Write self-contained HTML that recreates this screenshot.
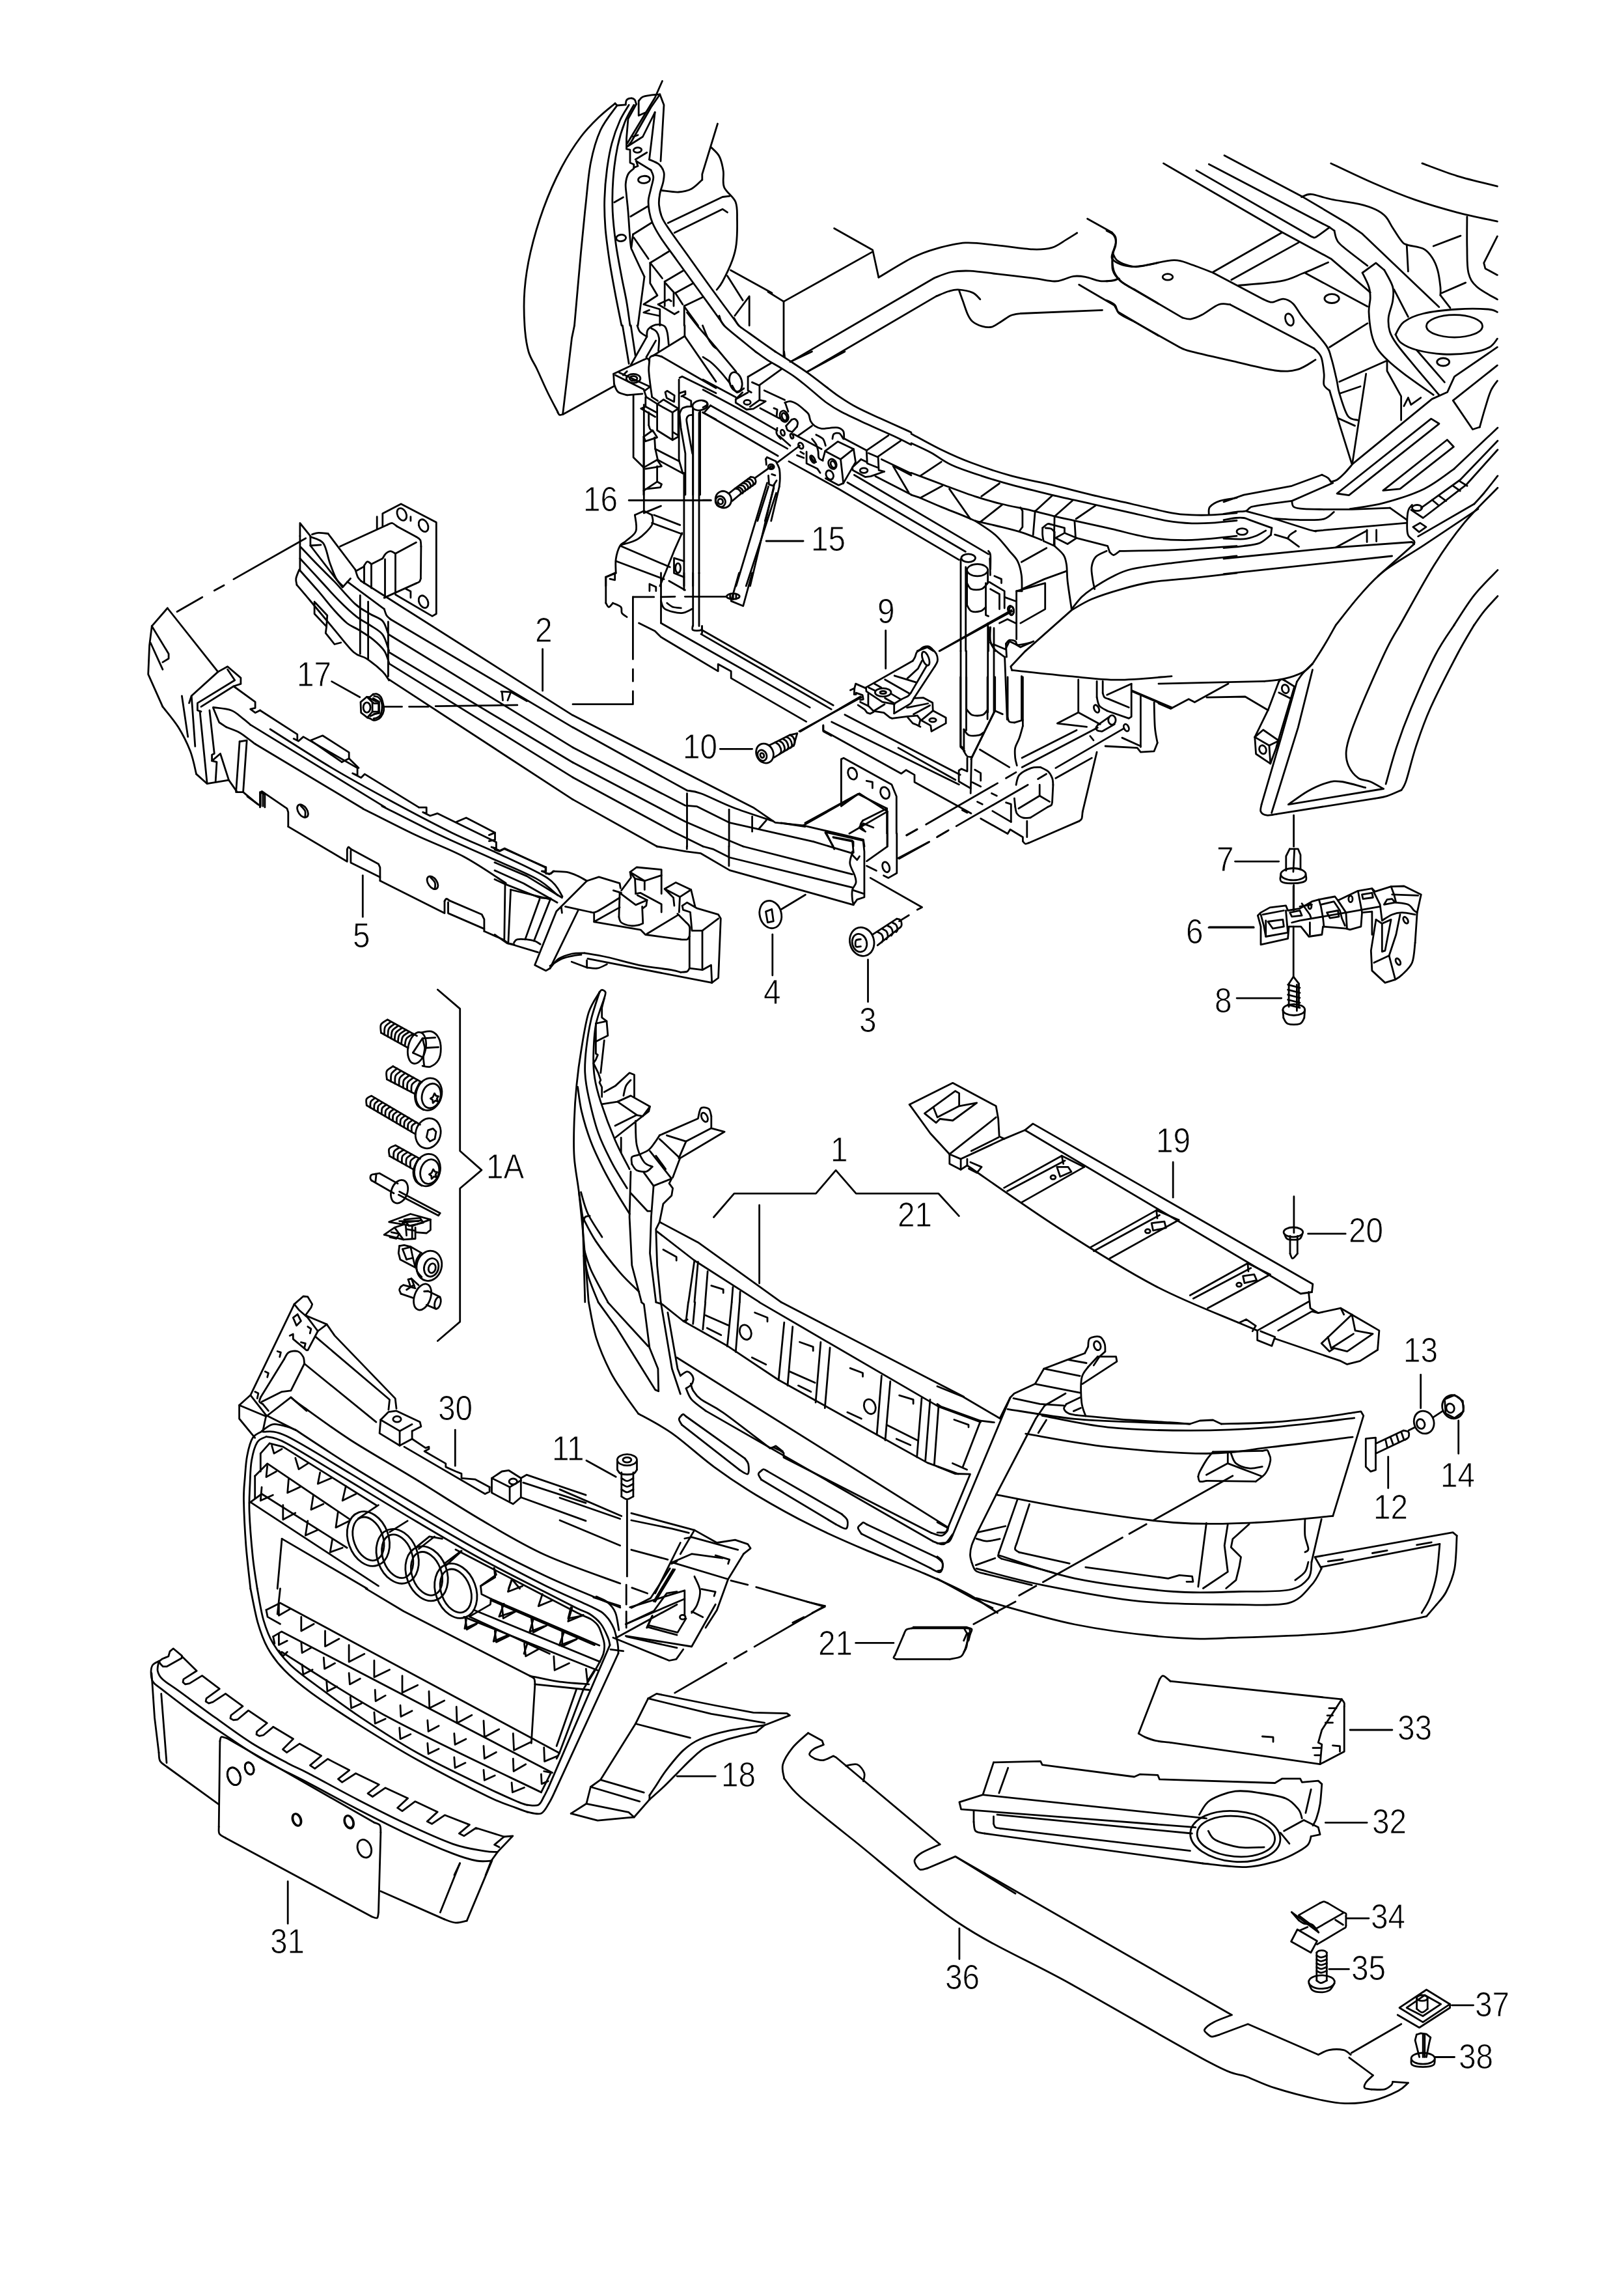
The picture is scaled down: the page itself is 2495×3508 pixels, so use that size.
<!DOCTYPE html>
<html><head><meta charset="utf-8"><title>Diagram</title>
<style>
html,body{margin:0;padding:0;background:#fff;}
body{width:2495px;height:3508px;overflow:hidden;}
svg{display:block;}
svg text{font-family:"Liberation Sans",sans-serif;font-size:53px;fill:#000;stroke:#fff;stroke-width:0.9px;}
</style></head><body>
<svg width="2495" height="3508" viewBox="0 0 2495 3508" fill="none" stroke="#000" stroke-width="2.8" stroke-linecap="round" stroke-linejoin="round">
<path d="M948.0,162.0 C943.8,168.3 929.2,185.3 922.5,200.0 C915.8,214.7 911.2,231.2 907.5,250.0 C903.8,268.8 902.5,289.6 900.0,312.5 C897.5,335.4 895.4,356.2 892.5,387.5 C889.6,418.8 884.2,481.2 882.5,500.0"/>
<path d="M945.0,158.8 L948.0,162.0 L961.2,160.8"/>
<path d="M961.2,160.8 C961.5,159.6 961.2,155.4 962.5,153.8 C963.8,152.1 966.7,150.9 968.8,150.8 C970.8,150.6 973.5,151.5 975.0,153.0 C976.5,154.5 977.1,158.8 977.5,160.0"/>
<path d="M966.2,161.2 C964.0,165.2 956.9,175.2 952.5,185.0 C948.1,194.8 943.3,207.5 940.0,220.0 C936.7,232.5 934.4,245.8 932.5,260.0 C930.6,274.2 929.2,290.0 928.8,305.0 C928.3,320.0 928.8,334.2 930.0,350.0 C931.2,365.8 933.8,383.3 936.2,400.0 C938.8,416.7 941.9,433.3 945.0,450.0 C948.1,466.7 953.3,491.7 955.0,500.0"/>
<path d="M973.8,161.2 C971.5,165.6 964.2,176.9 960.0,187.5 C955.8,198.1 951.8,210.4 948.8,225.0 C945.8,239.6 943.2,258.3 942.0,275.0 C940.8,291.7 940.5,308.3 941.2,325.0 C942.0,341.7 944.0,358.3 946.2,375.0 C948.5,391.7 952.3,410.4 955.0,425.0 C957.7,439.6 960.3,450.0 962.5,462.5 C964.7,475.0 967.1,493.8 968.0,500.0"/>
<path d="M977.5,160.0 L965.0,182.5 L962.5,212.5 L962.5,228.8 L968.0,230.0 L968.0,250.0 L973.8,252.5 L973.8,257.5"/>
<path d="M981.2,155.0 L981.2,177.5 L992.5,172.5"/>
<path d="M981.2,155.0 C982.3,154.0 984.4,150.2 987.5,148.8 C990.6,147.3 995.6,146.9 1000.0,146.2 C1004.4,145.6 1011.5,145.2 1013.8,145.0"/>
<path d="M1013.8,145.0 L1020.0,161.2 L1015.0,247.5"/>
<path d="M1017.5,124.5 L1006.2,150.0 L992.5,172.5 L963.8,220.0"/>
<path d="M1013.8,145.0 L1000.0,165.0 L970.0,217.5 L965.0,223.8"/>
<path d="M1006.2,172.5 L997.5,245.0"/>
<path d="M1006.2,172.5 L987.5,210.0 L963.8,225.0"/>
<path d="M972.5,210.0 L980.0,207.5"/>
<ellipse cx="979.5" cy="230.5" rx="6.2" ry="3.8" transform="rotate(-5.0 979.5 230.5)"/>
<path d="M976.2,245.0 L993.8,234.2"/>
<path d="M977.5,247.5 L1000.0,261.2"/>
<path d="M973.8,257.5 L980.0,255.0 L977.5,247.5"/>
<path d="M997.5,245.0 C1000.0,246.2 1008.8,249.2 1012.5,252.5 C1016.2,255.8 1019.0,260.4 1020.0,265.0 C1021.0,269.6 1019.8,274.6 1018.8,280.0 C1017.7,285.4 1014.8,291.7 1013.8,297.5 C1012.7,303.3 1011.9,308.8 1012.5,315.0 C1013.1,321.2 1014.6,328.3 1017.5,335.0 C1020.4,341.7 1023.8,345.8 1030.0,355.0 C1036.2,364.2 1044.6,375.4 1055.0,390.0 C1065.4,404.6 1079.2,424.2 1092.5,442.5 C1105.8,460.8 1127.9,490.4 1135.0,500.0"/>
<path d="M1000.0,261.2 C1000.6,263.1 1003.8,267.7 1003.8,272.5 C1003.8,277.3 1001.2,284.2 1000.0,290.0 C998.8,295.8 996.7,301.7 996.2,307.5 C995.8,313.3 996.5,319.2 997.5,325.0 C998.5,330.8 999.6,335.8 1002.5,342.5 C1005.4,349.2 1008.8,355.4 1015.0,365.0 C1021.2,374.6 1029.2,385.0 1040.0,400.0 C1050.8,415.0 1067.9,438.3 1080.0,455.0 C1092.1,471.7 1107.1,492.5 1112.5,500.0"/>
<path d="M973.8,258.8 C972.3,260.2 967.1,263.5 965.0,267.5 C962.9,271.5 961.7,277.1 961.2,282.5 C960.8,287.9 961.9,292.9 962.5,300.0 C963.1,307.1 964.0,312.5 965.0,325.0 C966.0,337.5 967.5,364.6 968.8,375.0 C970.0,385.4 969.0,379.2 972.5,387.5 C976.0,395.8 987.1,418.8 990.0,425.0"/>
<path d="M990.0,425.0 L980.0,500.0"/>
<ellipse cx="989.5" cy="275.8" rx="9.0" ry="5.5" transform="rotate(-5.0 989.5 275.8)"/>
<path d="M943.8,310.8 L957.5,303.0"/>
<path d="M968.8,332.5 L995.0,317.0"/>
<ellipse cx="954.2" cy="365.5" rx="7.5" ry="5.0" transform="rotate(-5.0 954.2 365.5)"/>
<path d="M972.5,360.0 L1001.2,342.0"/>
<path d="M972.5,360.0 L970.0,380.0"/>
<path d="M973.8,365.0 L996.2,397.5"/>
<path d="M998.8,403.8 L1027.5,386.2"/>
<path d="M998.8,403.8 L998.8,435.0 L1010.0,453.8 L988.8,467.5 L1013.8,475.0 L1013.8,500.0"/>
<path d="M1000.0,405.0 L1017.5,427.5"/>
<path d="M1021.2,432.5 L1050.0,415.5"/>
<path d="M1021.2,432.5 L1021.2,470.0"/>
<path d="M1022.5,435.0 L1035.0,448.8 L1035.0,470.0"/>
<path d="M1037.5,450.0 L1065.0,435.0"/>
<path d="M1037.5,450.0 L1048.8,467.5"/>
<path d="M1051.2,470.0 L1080.0,456.2"/>
<path d="M1051.2,470.0 L1051.2,500.0"/>
<path d="M1052.5,472.5 L1072.5,500.0"/>
<path d="M1011.2,467.5 L1027.5,460.0 L1031.2,462.5"/>
<path d="M1011.2,467.5 L1036.2,482.5 L1042.5,478.8"/>
<path d="M997.5,476.2 L988.8,480.0 L1012.5,485.0"/>
<path d="M1102.5,190.0 L1078.8,267.5 L1078.8,276.2"/>
<path d="M1078.8,276.2 C1076.0,278.5 1068.5,286.9 1062.5,290.0 C1056.5,293.1 1050.2,294.6 1042.5,295.0 C1034.8,295.4 1020.6,292.9 1016.2,292.5"/>
<path d="M1092.5,226.2 C1094.6,228.5 1101.9,234.0 1105.0,240.0 C1108.1,246.0 1110.0,254.6 1111.2,262.5 C1112.5,270.4 1109.4,279.6 1112.5,287.5 C1115.6,295.4 1126.7,301.7 1130.0,310.0 C1133.3,318.3 1132.3,326.7 1132.5,337.5 C1132.7,348.3 1132.5,364.6 1131.2,375.0 C1130.0,385.4 1128.5,390.4 1125.0,400.0 C1121.5,409.6 1114.0,425.0 1110.0,432.5 C1106.0,440.0 1102.7,442.9 1101.2,445.0"/>
<path d="M1026.2,342.5 L1110.0,302.5 L1121.2,301.2"/>
<path d="M1036.2,357.5 L1110.0,321.2 L1117.5,326.2"/>
<path d="M1122.5,415.0 L1186.0,450.0"/>
<path d="M1117.5,423.8 L1141.2,461.2"/>
<path d="M1128.8,485.0 L1151.2,455.0 L1151.2,500.0"/>
<path d="M1281.6,350.7 L1340.7,384.0 L1349.9,426.1"/>
<path d="M1349.9,426.1 C1358.6,421.1 1386.9,403.2 1401.7,395.8 C1416.5,388.4 1425.1,385.6 1438.6,381.8 C1452.2,378.0 1467.6,373.8 1483.0,372.9 C1498.3,372.0 1513.7,374.9 1531.0,376.6 C1548.2,378.3 1572.2,382.3 1586.4,382.9 C1600.6,383.5 1607.3,382.8 1616.0,380.3 C1624.6,377.8 1631.7,371.9 1638.1,368.1 C1644.6,364.3 1652.0,359.5 1654.7,357.8"/>
<path d="M1340.7,386.6 L1204.0,463.1 L1180.0,448.3"/>
<path d="M1204.0,463.1 L1204.0,547.3"/>
<path d="M1215.1,555.4 L1434.9,427.2"/>
<path d="M1434.9,427.2 C1439.2,425.7 1451.5,419.8 1460.8,418.0 C1470.0,416.1 1478.6,415.7 1490.3,416.1 C1502.0,416.6 1515.0,418.7 1531.0,420.6 C1547.0,422.4 1571.6,425.3 1586.4,427.2 C1601.2,429.1 1611.6,431.7 1619.6,432.0 C1627.7,432.3 1629.5,430.4 1634.4,429.1 C1639.4,427.8 1643.7,424.9 1649.2,424.3 C1654.7,423.6 1660.9,424.1 1667.7,425.4 C1674.5,426.6 1683.1,430.7 1689.8,431.6 C1696.6,432.6 1703.4,431.5 1708.3,430.9 C1713.2,430.3 1717.6,428.4 1719.4,428.0"/>
<path d="M1241.0,570.6 L1438.6,454.9"/>
<path d="M1438.6,454.9 C1441.7,453.7 1451.5,449.2 1457.1,447.5 C1462.6,445.9 1465.7,444.6 1471.9,444.9 C1478.0,445.3 1488.4,446.9 1494.0,449.4 C1499.7,451.8 1503.9,458.0 1505.9,459.7"/>
<path d="M1473.7,446.8 C1474.6,449.4 1477.1,456.3 1479.3,462.3 C1481.4,468.3 1484.2,477.4 1486.6,482.6 C1489.1,487.9 1490.3,490.6 1494.0,493.7 C1497.7,496.8 1503.9,499.7 1508.8,501.1 C1513.7,502.5 1518.7,503.4 1523.6,502.2 C1528.5,501.0 1533.4,496.7 1538.4,493.7 C1543.3,490.8 1548.2,486.5 1553.1,484.5 C1558.1,482.4 1565.5,482.0 1567.9,481.5"/>
<path d="M1567.9,481.5 L1693.5,476.4"/>
<path d="M1670.6,336.0 L1708.3,357.0"/>
<path d="M1708.3,357.0 C1709.2,358.2 1712.9,361.0 1713.9,364.4 C1714.8,367.8 1714.5,373.3 1713.9,377.3 C1713.2,381.3 1711.0,384.1 1710.2,388.4 C1709.4,392.7 1708.7,398.3 1709.1,403.2 C1709.4,408.1 1710.0,413.4 1712.0,418.0 C1714.0,422.6 1717.6,427.2 1721.2,430.9 C1724.9,434.6 1732.0,438.6 1734.2,440.1"/>
<path d="M1734.2,440.1 L1780.0,466.7"/>
<path d="M1710.2,390.3 C1711.1,391.8 1712.3,396.7 1715.7,399.5 C1719.1,402.3 1725.6,405.2 1730.5,406.9 C1735.4,408.6 1739.7,409.8 1745.3,409.8 C1750.8,409.8 1757.9,408.0 1763.7,406.9 C1769.5,405.8 1777.3,403.8 1780.0,403.2"/>
<path d="M1657.7,437.2 L1712.0,469.0 L1717.6,478.9 L1780.0,515.9"/>
<path d="M1787.5,250.9 L1969.4,356.5 L2044.8,397.4 L2105.2,449.1"/>
<path d="M1837.9,261.6 L2010.3,360.8"/>
<path d="M2010.3,360.8 C2011.4,361.4 2014.8,363.7 2016.8,364.2 C2018.8,364.7 2018.1,366.3 2022.4,363.8 C2026.7,361.3 2039.3,351.6 2042.7,349.1"/>
<path d="M1857.3,252.2 L2042.7,349.1 L2050.0,354.3"/>
<path d="M2050.0,354.3 C2050.6,356.5 2051.4,363.3 2053.4,367.2 C2055.5,371.2 2054.2,371.2 2062.1,378.0 C2070.0,384.8 2094.4,403.2 2100.9,408.2"/>
<path d="M1881.0,238.8 L2001.7,302.6 L2070.7,343.5 L2092.2,358.6 L2210.8,471.6"/>
<path d="M1999.6,302.6 C2002.1,301.9 2007.1,297.7 2014.7,298.3 C2022.2,298.9 2032.6,303.5 2044.8,306.0 C2057.0,308.5 2076.4,310.7 2087.9,313.4 C2099.4,316.0 2107.0,318.8 2113.8,322.0 C2120.6,325.2 2124.6,328.1 2128.9,332.8 C2133.2,337.4 2135.7,343.9 2139.7,350.0 C2143.6,356.1 2149.0,365.1 2152.6,369.4 C2156.2,373.7 2155.5,373.7 2161.2,375.9 C2167.0,378.0 2180.6,379.1 2187.1,382.3 C2193.5,385.6 2196.4,389.9 2200.0,395.3 C2203.6,400.6 2206.5,407.1 2208.6,414.7 C2210.8,422.2 2212.2,434.1 2212.9,440.5 C2213.6,447.0 2212.9,451.3 2212.9,453.4"/>
<path d="M2212.9,453.4 L2228.0,472.8"/>
<path d="M2161.2,375.9 L2163.4,416.8"/>
<path d="M2202.2,378.0 L2244.0,362.1"/>
<path d="M2215.1,450.0 L2251.7,434.1"/>
<path d="M2044.8,250.9 C2055.6,255.9 2087.9,271.7 2109.5,281.0 C2131.0,290.4 2152.6,299.4 2174.1,306.9 C2195.7,314.4 2217.7,320.8 2238.8,326.3 C2259.8,331.8 2290.2,337.8 2300.4,340.1"/>
<path d="M2184.9,250.9 C2193.9,254.1 2219.5,264.4 2238.8,270.3 C2258.0,276.1 2290.2,283.5 2300.4,286.2"/>
<path d="M2253.9,332.8 C2253.9,340.7 2253.5,365.8 2253.9,380.2 C2254.2,394.5 2253.5,408.9 2256.0,419.0 C2258.5,429.0 2261.6,433.7 2269.0,440.5 C2276.4,447.3 2295.2,456.7 2300.4,459.9"/>
<path d="M2300.4,362.9 L2279.7,403.9 L2281.9,412.5 L2300.4,422.4"/>
<path d="M1700.0,354.3 C1701.8,355.4 1708.4,357.8 1710.8,360.8 C1713.1,363.8 1714.4,367.9 1714.2,372.4 C1714.0,376.9 1710.3,385.3 1709.5,387.9"/>
<path d="M1709.5,387.9 C1709.3,389.5 1706.6,394.4 1708.6,397.4 C1710.6,400.4 1716.5,404.0 1721.6,406.0 C1726.6,408.0 1733.0,409.1 1738.8,409.5 C1744.5,409.8 1745.3,409.8 1756.0,408.2 C1766.8,406.5 1791.2,399.9 1803.4,399.6 C1815.7,399.2 1819.3,402.8 1829.3,406.0 C1839.4,409.3 1858.0,416.8 1863.8,419.0"/>
<path d="M1863.8,419.0 L1941.4,459.9"/>
<path d="M1941.4,459.9 C1943.5,460.6 1949.3,464.4 1954.3,464.2 C1959.3,464.1 1966.2,458.7 1971.6,459.1 C1976.9,459.4 1981.6,461.6 1986.6,466.4 C1991.7,471.2 1993.5,477.5 2001.7,487.9 C2010.0,498.3 2029.0,518.8 2036.2,528.9 C2043.4,538.9 2042.0,539.3 2044.8,548.3 C2047.7,557.3 2051.3,573.4 2053.4,582.8 C2055.6,592.1 2054.9,595.0 2057.8,604.3 C2060.6,613.6 2066.0,632.0 2070.7,638.8 C2075.4,645.6 2083.3,644.2 2085.8,645.3"/>
<path d="M1709.5,387.9 C1709.5,392.4 1707.5,407.3 1709.5,414.7 C1711.5,422.0 1715.9,426.9 1721.6,431.9 C1727.2,436.9 1739.5,442.7 1743.1,444.8"/>
<path d="M1743.1,444.8 L1816.4,487.9"/>
<path d="M1816.4,487.9 C1818.5,488.3 1824.3,490.8 1829.3,490.1 C1834.3,489.4 1839.4,487.4 1846.6,483.6 C1853.7,479.9 1865.2,470.3 1872.4,467.7 C1879.6,465.0 1886.8,467.7 1889.7,467.7"/>
<path d="M1889.7,467.7 L2019.0,535.3"/>
<path d="M2019.0,535.3 C2020.8,537.5 2027.2,541.8 2029.7,548.3 C2032.3,554.7 2033.3,567.0 2034.1,574.1 C2034.8,581.3 2032.6,587.1 2034.1,591.4 C2035.5,595.7 2041.2,598.6 2042.7,600.0"/>
<path d="M2042.7,600.0 L2057.8,651.7 L2076.7,712.1"/>
<path d="M1700.0,431.9 C1701.8,431.8 1707.8,431.8 1710.8,431.0 C1713.8,430.3 1716.9,428.2 1718.1,427.6"/>
<path d="M1700.0,461.2 C1702.2,462.4 1709.7,465.2 1712.9,468.5 C1716.2,471.9 1714.4,477.2 1719.4,481.5 C1724.4,485.8 1739.2,492.2 1743.1,494.4"/>
<path d="M1743.1,494.4 L1812.1,533.2"/>
<path d="M1812.1,533.2 C1814.9,534.3 1815.7,536.1 1829.3,539.7 C1843.0,543.2 1872.4,549.9 1894.0,554.7 C1915.5,559.6 1942.1,566.8 1958.6,569.0 C1975.1,571.1 1982.7,570.4 1993.1,567.7 C2003.5,564.9 2016.5,555.1 2021.1,552.6"/>
<ellipse cx="1794.0" cy="425.4" rx="7.8" ry="4.7" transform="rotate(0.0 1794.0 425.4)"/>
<ellipse cx="2046.1" cy="458.6" rx="11.2" ry="6.9" transform="rotate(0.0 2046.1 458.6)"/>
<ellipse cx="1981.0" cy="490.9" rx="6.0" ry="9.5" transform="rotate(-20.0 1981.0 490.9)"/>
<path d="M1863.8,417.7 L1969.4,357.3"/>
<path d="M1891.8,429.7 L1995.3,372.4"/>
<path d="M1902.6,438.4 C1913.4,437.3 1950.7,435.0 1967.2,431.9 C1983.8,428.8 1989.5,424.6 2001.7,419.8 C2013.9,415.0 2034.1,405.8 2040.5,403.0"/>
<path d="M2006.0,419.8 L2100.9,470.7"/>
<path d="M2042.7,533.2 L2100.9,496.6"/>
<path d="M2057.8,586.2 L2128.9,554.7"/>
<path d="M2058.6,604.3 L2090.1,593.5"/>
<path d="M2098.7,574.1 L2077.6,712.1"/>
<path d="M2055.6,642.2 L2081.5,653.9"/>
<path d="M2093.1,419.0 L2113.8,403.9 L2126.7,414.7"/>
<path d="M2093.1,419.0 C2094.8,422.6 2101.0,434.1 2103.0,440.5 C2105.0,447.0 2105.2,451.3 2105.2,457.8 C2105.2,464.2 2102.7,470.0 2103.0,479.3 C2103.4,488.6 2105.2,504.5 2107.3,513.8 C2109.5,523.1 2112.0,528.9 2115.9,535.3 C2119.9,541.8 2124.2,546.1 2131.0,552.6 C2137.9,559.1 2145.0,565.2 2156.9,574.1 C2168.8,583.1 2194.6,601.1 2202.2,606.5"/>
<path d="M2126.7,414.7 C2128.9,419.0 2137.5,432.6 2139.7,440.5 C2141.8,448.4 2140.7,454.2 2139.7,462.1 C2138.6,470.0 2133.9,480.0 2133.2,487.9 C2132.5,495.8 2133.2,502.7 2135.3,509.5 C2137.5,516.3 2139.7,519.9 2146.1,528.9 C2152.6,537.9 2163.4,550.4 2174.1,563.4 C2184.9,576.3 2204.7,599.3 2210.8,606.5"/>
<path d="M2141.8,444.8 L2163.4,486.6"/>
<path d="M2144.0,513.8 C2146.1,510.6 2149.7,499.8 2156.9,494.4 C2164.1,489.0 2173.4,484.7 2187.1,481.5 C2200.7,478.2 2222.3,476.1 2238.8,475.0 C2255.3,473.9 2275.9,474.3 2286.2,475.0 C2296.5,475.7 2298.1,478.6 2300.4,479.3"/>
<ellipse cx="2234.5" cy="500.9" rx="43.1" ry="17.2" transform="rotate(0.0 2234.5 500.9)"/>
<path d="M2144.0,513.8 C2145.4,515.9 2147.2,522.8 2152.6,526.7 C2158.0,530.7 2165.5,534.6 2176.3,537.5 C2187.1,540.4 2203.2,543.2 2217.2,544.0 C2231.3,544.7 2248.5,543.6 2260.3,541.8 C2272.2,540.0 2281.7,536.8 2288.4,533.2 C2295.0,529.6 2298.4,522.4 2300.4,520.3"/>
<path d="M2176.3,537.5 L2219.4,587.1"/>
<ellipse cx="2217.2" cy="556.0" rx="9.5" ry="6.0" transform="rotate(0.0 2217.2 556.0)"/>
<path d="M2131.0,552.6 L2131.0,569.8 L2152.6,608.6 L2152.6,645.3"/>
<path d="M2156.9,623.7 L2163.4,610.8 L2167.7,621.6 L2182.8,610.8"/>
<path d="M2300.4,533.2 L2234.5,578.4 L2223.7,602.2 L2200.0,612.9 L2077.6,712.9"/>
<path d="M2300.4,561.2 L2232.3,615.1 L2262.5,659.5 L2273.3,656.0"/>
<path d="M2273.3,656.0 C2274.7,651.0 2279.0,635.2 2281.9,625.9 C2284.8,616.5 2287.4,606.8 2290.5,600.0 C2293.6,593.2 2298.8,587.4 2300.4,584.9"/>
<path d="M1191.0,540.0 C1194.8,542.4 1206.0,549.4 1214.0,554.7 C1222.0,559.9 1230.8,565.5 1239.1,571.4 C1247.5,577.3 1255.9,584.0 1264.3,590.3 C1272.6,596.5 1280.7,603.2 1289.4,609.1 C1298.1,615.0 1306.1,620.3 1316.6,625.8 C1327.1,631.4 1339.3,636.7 1352.2,642.6 C1365.1,648.5 1386.1,657.8 1394.1,661.4 C1402.0,665.0 1399.0,663.7 1399.9,664.2"/>
<path d="M1160.6,540.0 C1163.6,542.1 1171.6,548.2 1178.4,552.6 C1185.2,556.9 1194.1,561.6 1201.4,566.2 C1208.8,570.7 1215.4,574.7 1222.4,579.8 C1229.4,584.8 1235.6,590.3 1243.3,596.5 C1251.0,602.8 1260.4,611.5 1268.4,617.5 C1276.5,623.4 1281.0,626.5 1291.5,632.1 C1301.9,637.7 1317.6,644.7 1331.3,651.0 C1344.9,657.3 1361.7,664.5 1373.1,669.8 C1384.6,675.2 1395.5,680.8 1399.9,683.0"/>
<path d="M1214.0,555.7 L1247.5,540.0"/>
<path d="M1239.1,571.4 L1297.8,540.0"/>
<path d="M1204.6,540.0 L1205.6,548.4"/>
<path d="M1149.1,578.7 L1184.7,557.8"/>
<path d="M1149.1,578.7 L1149.1,599.7 L1154.3,602.8"/>
<path d="M1155.4,587.1 L1166.9,592.3 L1166.9,613.3"/>
<path d="M1166.9,591.3 L1200.4,567.2"/>
<ellipse cx="1130.3" cy="586.5" rx="9.4" ry="15.1" transform="rotate(-15.0 1130.3 586.5)"/>
<path d="M1125.0,592.3 C1126.2,594.1 1129.4,602.1 1132.3,602.8 C1135.3,603.5 1141.1,597.6 1142.8,596.5"/>
<path d="M1140.7,602.8 L1130.3,613.3 L1130.3,618.5 L1147.0,629.0 L1157.5,627.9 L1176.3,616.4 L1166.9,614.3 L1152.2,624.8"/>
<ellipse cx="1148.0" cy="617.9" rx="5.2" ry="3.6" transform="rotate(0.0 1148.0 617.9)"/>
<path d="M1130.3,613.3 L1149.1,602.8"/>
<path d="M1080.0,548.4 C1082.1,549.8 1088.0,552.9 1092.6,556.8 C1097.1,560.6 1102.3,566.0 1107.2,571.4 C1112.1,576.8 1119.4,586.2 1121.9,589.2"/>
<path d="M1080.0,582.9 L1130.3,610.1"/>
<path d="M1080.0,598.6 L1147.0,634.2 L1194.1,661.4"/>
<path d="M1167.9,626.9 L1197.3,642.6"/>
<path d="M1174.2,599.7 L1205.6,614.3"/>
<path d="M1091.5,622.7 L1209.8,689.1"/>
<path d="M1080.0,633.2 L1195.2,700.2"/>
<path d="M1091.5,622.7 L1083.1,632.1"/>
<path d="M1080.0,615.4 C1080.9,615.7 1084.2,616.4 1085.2,617.5 C1086.3,618.5 1087.2,620.3 1086.3,621.7 C1085.4,623.1 1081.0,625.1 1080.0,625.8"/>
<path d="M1211.9,708.6 L1289.4,751.5 L1473.4,859.9"/>
<path d="M1297.8,674.0 L1331.3,691.8"/>
<path d="M1331.3,691.8 L1364.8,668.8"/>
<path d="M1331.3,691.8 L1332.3,711.7 L1348.0,718.0"/>
<path d="M1349.1,701.2 L1383.6,677.1"/>
<path d="M1334.4,696.0 L1349.1,702.3 L1350.1,722.2 L1358.5,724.3"/>
<path d="M1354.3,705.4 L1399.9,727.2"/>
<path d="M1322.9,705.4 L1309.3,718.0 L1310.3,722.2 L1329.2,732.6 L1337.5,731.6 L1358.5,724.3"/>
<path d="M1322.9,705.4 L1331.3,709.6"/>
<ellipse cx="1327.1" cy="722.6" rx="5.9" ry="3.8" transform="rotate(0.0 1327.1 722.6)"/>
<path d="M1344.9,731.6 L1399.9,759.8"/>
<path d="M1372.1,715.9 L1396.2,756.7"/>
<path d="M1373.1,715.9 L1399.9,730.1"/>
<path d="M1301.9,741.0 L1483.3,847.2"/>
<path d="M1312.4,729.5 L1518.7,851.1"/>
<path d="M1205.6,618.5 C1207.0,618.2 1210.9,616.1 1214.0,616.4 C1217.1,616.8 1221.0,618.5 1224.5,620.6 C1228.0,622.7 1232.0,626.4 1234.9,629.0 C1237.9,631.6 1240.5,633.3 1242.3,636.3 C1244.0,639.3 1243.8,643.8 1245.4,646.8 C1247.0,649.8 1248.9,652.2 1251.7,654.1 C1254.5,656.0 1258.3,657.8 1262.2,658.3 C1266.0,658.8 1270.5,657.5 1274.7,657.3 C1278.9,657.0 1283.8,656.0 1287.3,656.8 C1290.8,657.7 1294.1,659.6 1295.7,662.5 C1297.2,665.3 1296.5,672.1 1296.7,674.0"/>
<path d="M1206.7,619.6 L1210.9,632.1"/>
<ellipse cx="1204.6" cy="639.5" rx="6.3" ry="8.8" transform="rotate(-20.0 1204.6 639.5)"/>
<ellipse cx="1205.0" cy="640.1" rx="3.6" ry="5.9" transform="rotate(-20.0 1205.0 640.1)"/>
<path d="M1188.9,626.9 L1194.1,629.0 L1193.1,639.5"/>
<path d="M1207.7,654.1 L1216.1,644.7"/>
<path d="M1216.1,644.7 C1217.0,644.5 1219.8,642.9 1221.3,643.6 C1222.9,644.3 1225.0,647.0 1225.5,648.9 C1226.0,650.8 1224.6,654.1 1224.5,655.2"/>
<path d="M1224.5,655.2 L1217.1,663.5"/>
<path d="M1207.7,654.1 C1208.1,655.2 1208.2,658.8 1209.8,660.4 C1211.4,662.0 1215.9,663.0 1217.1,663.5"/>
<ellipse cx="1202.5" cy="664.6" rx="2.9" ry="4.6" transform="rotate(-20.0 1202.5 664.6)"/>
<ellipse cx="1216.5" cy="669.8" rx="2.1" ry="3.8" transform="rotate(-20.0 1216.5 669.8)"/>
<ellipse cx="1230.3" cy="684.5" rx="3.4" ry="5.0" transform="rotate(-30.0 1230.3 684.5)"/>
<path d="M1194.1,657.3 C1193.9,658.6 1192.2,662.8 1193.1,665.6 C1193.9,668.4 1198.3,672.6 1199.3,674.0"/>
<path d="M1197.3,669.8 L1214.0,684.5"/>
<path d="M1226.6,668.8 L1247.5,654.1"/>
<path d="M1219.2,666.7 L1262.2,689.7"/>
<path d="M1247.5,674.0 C1248.6,675.4 1252.2,679.2 1253.8,682.4 C1255.4,685.5 1256.2,689.4 1256.9,692.8 C1257.6,696.3 1256.8,700.9 1258.0,703.3 C1259.2,705.8 1263.2,706.8 1264.3,707.5"/>
<path d="M1253.8,667.7 C1255.5,668.8 1261.8,671.2 1264.3,674.0 C1266.7,676.8 1267.7,682.7 1268.4,684.5"/>
<path d="M1245.4,701.2 C1246.1,702.3 1248.2,706.1 1249.6,707.5 C1251.0,708.9 1253.1,709.2 1253.8,709.6"/>
<ellipse cx="1248.6" cy="705.4" rx="2.9" ry="6.3" transform="rotate(-30.0 1248.6 705.4)"/>
<path d="M1239.1,693.9 L1239.1,711.7 L1255.9,720.1 L1260.1,726.3"/>
<path d="M1224.5,699.1 L1234.9,703.3"/>
<path d="M1229.7,693.9 L1234.9,697.0"/>
<path d="M1267.4,692.8 L1287.3,678.2 L1311.4,689.7 L1291.5,705.4Z"/>
<path d="M1311.4,689.7 L1314.5,709.6 L1295.7,742.1"/>
<path d="M1291.5,705.4 L1295.7,742.1"/>
<path d="M1267.4,693.9 L1264.3,705.4"/>
<path d="M1268.4,734.7 L1288.3,745.2 L1295.7,742.1"/>
<ellipse cx="1278.9" cy="712.7" rx="5.9" ry="8.0" transform="rotate(-25.0 1278.9 712.7)"/>
<ellipse cx="1280.0" cy="713.4" rx="3.4" ry="5.4" transform="rotate(-25.0 1280.0 713.4)"/>
<ellipse cx="1274.7" cy="729.5" rx="5.4" ry="7.3" transform="rotate(-25.0 1274.7 729.5)"/>
<path d="M1278.9,674.0 C1279.3,672.8 1279.3,668.1 1281.0,666.7 C1282.7,665.3 1286.9,664.4 1289.4,665.6 C1291.8,666.8 1294.6,672.6 1295.7,674.0"/>
<path d="M1176.3,705.4 L1178.4,702.3 L1192.0,708.6"/>
<path d="M1192.0,708.6 C1192.9,710.5 1196.2,715.7 1197.3,720.1 C1198.3,724.4 1198.3,730.2 1198.3,734.7 C1198.3,739.3 1197.4,745.2 1197.3,747.3"/>
<path d="M1197.3,747.3 L1184.7,800.1"/>
<path d="M1180.5,747.3 L1163.8,800.1"/>
<path d="M1188.9,749.4 L1175.3,800.1"/>
<ellipse cx="1184.7" cy="716.9" rx="4.6" ry="3.8" transform="rotate(0.0 1184.7 716.9)"/>
<ellipse cx="1185.3" cy="717.6" rx="2.1" ry="1.7" transform="rotate(0.0 1185.3 717.6)"/>
<path d="M1176.7,705.4 L1177.4,713.8"/>
<path d="M1180.5,730.5 L1181.5,744.1 L1187.8,746.2 L1193.1,737.9"/>
<path d="M1185.7,728.4 L1191.0,730.1"/>
<path d="M1195.2,709.6 L1228.7,684.5"/>
<path d="M1160.6,733.7 L1182.6,718.0"/>
<ellipse cx="1111.4" cy="767.2" rx="12.1" ry="13.0" transform="rotate(-20.0 1111.4 767.2)"/>
<ellipse cx="1106.8" cy="770.3" rx="7.5" ry="8.4" transform="rotate(-20.0 1106.8 770.3)"/>
<ellipse cx="1106.8" cy="770.3" rx="3.8" ry="4.2" transform="rotate(-20.0 1106.8 770.3)"/>
<path d="M1119.8,757.8 L1129.2,750.4"/>
<path d="M1125.0,769.3 L1137.6,758.8"/>
<path d="M1129.2,750.4 C1130.1,750.6 1132.9,750.4 1134.4,751.5 C1136.0,752.5 1138.1,755.5 1138.6,756.7 C1139.1,757.9 1137.8,758.5 1137.6,758.8"/>
<path d="M1132.3,748.3 C1133.2,748.5 1136.0,748.3 1137.6,749.4 C1139.1,750.4 1141.2,753.2 1141.8,754.6 C1142.3,756.0 1140.9,757.2 1140.7,757.8"/>
<path d="M1136.5,745.2 C1137.4,745.4 1140.3,745.2 1141.8,746.2 C1143.2,747.3 1144.9,750.1 1145.3,751.5 C1145.8,752.9 1144.6,754.1 1144.5,754.6"/>
<path d="M1140.7,742.1 C1141.6,742.2 1144.5,742.1 1146.0,743.1 C1147.4,744.1 1149.1,746.9 1149.5,748.3 C1149.9,749.8 1148.5,751.3 1148.3,751.9"/>
<path d="M1144.9,738.9 C1145.8,739.1 1148.7,738.9 1150.1,740.0 C1151.5,741.0 1152.9,743.7 1153.3,745.2 C1153.6,746.7 1152.4,748.3 1152.2,749.0"/>
<path d="M1149.1,735.8 C1150.0,735.9 1152.9,735.8 1154.3,736.8 C1155.7,737.9 1157.2,740.5 1157.5,742.1 C1157.8,743.6 1156.4,745.4 1156.2,746.0"/>
<path d="M1153.3,732.6 C1154.2,732.8 1157.2,732.6 1158.5,733.7 C1159.8,734.7 1161.0,737.3 1161.2,738.9 C1161.5,740.5 1160.2,742.4 1160.0,743.1"/>
<path d="M1129.2,750.4 L1153.3,732.6"/>
<path d="M1137.6,758.8 L1160.0,743.1"/>
<path d="M1080.0,768.2 L1091.5,768.2"/>
<path d="M1055.5,480.0 C1058.3,483.6 1066.5,494.4 1072.4,501.6 C1078.3,508.7 1083.7,514.6 1090.9,523.1 C1098.1,531.6 1108.8,544.4 1115.5,552.4 C1122.2,560.3 1128.3,567.7 1130.9,570.8"/>
<path d="M989.3,621.6 L989.3,787.9"/>
<path d="M1050.9,726.3 L1050.9,900.0"/>
<path d="M1064.7,627.8 L1064.7,900.0"/>
<path d="M1074.0,633.9 L1074.0,880.2"/>
<path d="M989.3,787.9 L1015.5,777.1"/>
<path d="M975.4,791.0 C975.7,795.1 979.3,808.9 977.0,815.6 C974.7,822.3 965.7,827.1 961.6,831.0 C957.5,834.8 954.9,834.1 952.3,838.7 C949.8,843.3 947.2,851.8 946.2,858.7 C945.2,865.6 946.2,876.7 946.2,880.2"/>
<path d="M975.4,791.0 L989.3,784.8 L1001.6,791.0"/>
<path d="M1001.6,791.0 C1001.6,793.5 1005.2,800.2 1001.6,806.4 C998.0,812.5 988.0,822.8 980.0,827.9 C972.1,833.0 958.2,835.6 953.9,837.1"/>
<path d="M1004.7,791.0 L1044.7,806.4"/>
<path d="M1001.6,803.3 L1047.8,820.2"/>
<path d="M1047.8,818.7 L1035.5,846.4 L1023.2,877.2 L1013.9,900.0"/>
<path d="M953.9,838.7 L1029.3,871.0"/>
<path d="M946.2,861.8 L1020.1,889.5"/>
<path d="M946.2,880.2 L930.8,886.4 L930.8,900.0"/>
<path d="M1035.5,857.2 L1050.9,861.8"/>
<ellipse cx="1041.6" cy="872.5" rx="4.0" ry="7.4" transform="rotate(0.0 1041.6 872.5)"/>
<path d="M1035.5,858.7 L1035.5,880.2 L1050.9,886.4"/>
<path d="M1192.5,757.1 L1146.3,900.0"/>
<path d="M1178.6,741.7 L1130.9,900.0"/>
<path d="M1189.4,744.8 L1152.5,900.0"/>
<path d="M966.2,768.5 L1092.4,768.5"/>
<path d="M1177.1,831.0 L1234.1,831.0"/>
<path d="M1400.0,666.2 C1407.7,670.3 1430.8,683.4 1446.2,690.8 C1461.6,698.3 1474.4,704.2 1492.4,710.8 C1510.3,717.5 1533.4,725.2 1553.9,730.8 C1574.5,736.5 1595.0,739.8 1615.5,744.7 C1636.0,749.6 1656.6,755.2 1677.1,760.1 C1697.6,765.0 1718.1,769.3 1738.7,774.0 C1759.2,778.6 1784.9,785.0 1800.2,787.8 C1815.6,790.6 1820.8,790.4 1831.0,790.9 C1841.3,791.4 1850.3,791.4 1861.8,790.9 C1873.3,790.4 1893.6,788.3 1900.0,787.8"/>
<path d="M1400.0,680.7 C1405.1,683.1 1420.5,689.9 1430.8,695.4 C1441.1,701.0 1448.7,708.0 1461.6,713.9 C1474.4,719.8 1492.4,725.7 1507.8,730.8 C1523.2,736.0 1536.0,739.8 1553.9,744.7 C1571.9,749.6 1595.0,755.2 1615.5,760.1 C1636.0,765.0 1656.6,769.3 1677.1,774.0 C1697.6,778.6 1719.2,783.4 1738.7,787.8 C1758.2,792.2 1778.7,797.5 1794.1,800.1 C1809.5,802.8 1819.7,803.3 1831.0,803.8 C1842.3,804.3 1850.3,803.9 1861.8,803.2 C1873.3,802.5 1893.6,800.1 1900.0,799.5"/>
<path d="M1400.0,726.2 C1408.2,729.3 1432.8,738.6 1449.3,744.7 C1465.7,750.8 1483.6,757.7 1498.5,762.6 C1513.4,767.4 1524.2,770.4 1538.5,774.0 C1552.9,777.5 1570.9,780.9 1584.7,784.1 C1598.6,787.3 1610.4,790.7 1621.7,793.3 C1633.0,796.0 1638.1,796.9 1652.5,800.1 C1666.8,803.3 1688.4,808.1 1707.9,812.4 C1727.4,816.8 1748.9,823.5 1769.5,826.3 C1790.0,829.1 1809.3,829.9 1831.0,829.4 C1852.8,828.9 1888.5,824.2 1900.0,823.2"/>
<path d="M1413.9,730.8 L1446.2,709.3"/>
<path d="M1507.8,762.3 L1535.5,742.5"/>
<path d="M1590.9,784.7 L1617.1,760.7"/>
<path d="M1620.1,793.3 L1647.8,768.7"/>
<path d="M1653.1,797.0 L1683.3,776.4"/>
<path d="M1400.0,760.1 L1413.9,764.7"/>
<path d="M1413.9,764.7 C1419.2,767.0 1435.7,774.2 1446.2,778.6 C1456.7,782.9 1468.2,787.3 1477.0,790.9 C1485.7,794.5 1494.9,798.6 1498.5,800.1"/>
<path d="M1413.9,764.7 L1447.7,746.2"/>
<path d="M1458.5,750.9 L1490.8,797.0"/>
<path d="M1506.2,801.7 L1540.1,774.9"/>
<path d="M1498.5,800.1 C1505.2,801.7 1526.2,806.3 1538.5,809.4 C1550.9,812.4 1562.2,815.3 1572.4,818.6 C1582.7,821.9 1595.5,827.6 1600.1,829.4"/>
<path d="M1567.8,779.5 L1570.9,784.7 L1570.9,809.4 L1566.3,815.5"/>
<path d="M1590.3,784.7 L1587.2,821.7"/>
<path d="M1620.1,793.3 L1619.2,837.1"/>
<path d="M1650.9,800.1 L1652.5,826.3"/>
<path d="M1601.7,810.9 C1602.9,809.9 1607.1,805.6 1609.4,804.7 C1611.7,803.9 1614.5,805.5 1615.5,805.7"/>
<path d="M1615.5,805.7 L1635.5,810.9 L1635.5,818.6 L1621.7,826.3 L1640.1,835.5 L1654.0,826.3 L1637.1,819.2"/>
<path d="M1601.7,810.9 C1601.7,812.7 1601.4,818.3 1601.7,821.7 C1601.9,825.0 1602.9,829.4 1603.2,830.9"/>
<path d="M1603.2,830.9 L1620.1,838.6 L1620.1,817.1"/>
<path d="M1620.1,817.1 C1619.4,816.3 1617.8,813.5 1615.5,812.4 C1613.2,811.4 1607.8,811.2 1606.3,810.9"/>
<path d="M1654.0,826.3 L1701.7,838.6 L1704.8,847.8"/>
<path d="M1704.8,847.8 C1705.8,848.6 1708.4,852.7 1711.0,852.5 C1713.5,852.2 1718.7,847.3 1720.2,846.3"/>
<path d="M1720.2,846.3 C1733.5,846.0 1770.3,846.0 1800.2,844.8 C1830.2,843.5 1883.4,839.6 1900.0,838.6"/>
<path d="M1700.2,846.3 C1697.4,847.8 1687.1,851.4 1683.3,855.5 C1679.4,859.6 1677.9,865.3 1677.1,870.9 C1676.3,876.6 1677.9,883.8 1678.6,889.4 C1679.4,895.1 1681.2,902.2 1681.7,904.8"/>
<path d="M1498.5,800.1 C1503.7,803.7 1520.6,814.0 1529.3,821.7 C1538.0,829.4 1545.2,839.6 1550.9,846.3 C1556.5,853.0 1560.1,855.5 1563.2,861.7 C1566.3,867.9 1568.2,875.6 1569.3,883.3 C1570.5,890.9 1569.8,903.8 1570.0,907.9"/>
<path d="M1570.0,907.9 L1561.6,907.9 L1561.6,981.8"/>
<path d="M1518.5,846.3 C1519.0,847.3 1521.1,847.8 1521.6,852.5 C1522.1,857.1 1521.6,870.4 1521.6,874.0"/>
<ellipse cx="1487.7" cy="857.1" rx="10.8" ry="6.2" transform="rotate(0.0 1487.7 857.1)"/>
<path d="M1476.0,858.6 L1476.0,999.9"/>
<path d="M1483.7,870.9 L1483.7,999.9"/>
<ellipse cx="1501.6" cy="875.6" rx="16.0" ry="9.2" transform="rotate(0.0 1501.6 875.6)"/>
<path d="M1485.6,877.1 L1485.6,929.4"/>
<path d="M1517.6,877.1 L1517.6,895.6"/>
<path d="M1485.6,895.6 C1486.7,897.1 1488.7,903.3 1492.4,904.8 C1496.1,906.3 1503.6,906.3 1507.8,904.8 C1512.0,903.3 1516.0,897.1 1517.6,895.6"/>
<path d="M1485.6,929.4 C1486.7,931.0 1488.9,937.1 1492.4,938.7 C1495.8,940.2 1502.5,939.7 1506.2,938.7 C1509.9,937.6 1513.1,933.5 1514.5,932.5"/>
<path d="M1514.5,895.6 L1514.5,944.8 L1518.5,946.4"/>
<path d="M1520.1,894.0 L1543.2,907.9 L1543.2,934.1"/>
<path d="M1521.6,904.8 L1535.5,912.5 L1535.5,935.6"/>
<path d="M1527.8,884.8 L1538.5,889.4 L1538.5,895.6"/>
<path d="M1543.2,917.1 L1560.1,923.3"/>
<ellipse cx="1553.0" cy="937.1" rx="4.3" ry="6.8" transform="rotate(-20.0 1553.0 937.1)"/>
<path d="M1443.1,999.9 L1553.9,937.1"/>
<path d="M1535.5,957.1 L1547.8,951.0 L1560.1,957.1"/>
<path d="M1518.5,963.3 L1518.5,999.9"/>
<path d="M1521.6,963.3 C1521.6,966.9 1520.3,978.7 1521.6,984.9 C1522.9,991.0 1528.0,997.4 1529.3,999.9"/>
<path d="M1561.6,907.9 L1605.7,895.6 L1605.7,935.6 L1567.8,957.1"/>
<path d="M1570.0,904.8 L1604.7,889.4 L1638.6,877.1"/>
<path d="M1569.3,863.2 L1607.8,841.7"/>
<path d="M1620.1,838.6 C1622.4,840.9 1630.9,847.6 1634.0,852.5 C1637.1,857.3 1637.6,861.2 1638.6,867.9 C1639.6,874.5 1638.9,881.2 1640.1,892.5 C1641.4,903.8 1645.3,928.4 1646.3,935.6"/>
<path d="M1646.3,935.6 C1648.9,932.5 1656.6,922.2 1661.7,917.1 C1666.8,912.0 1669.4,909.9 1677.1,904.8 C1684.8,899.7 1697.6,891.5 1707.9,886.3 C1718.1,881.2 1723.3,877.6 1738.7,874.0 C1754.1,870.4 1773.4,868.1 1800.2,864.8 C1827.1,861.4 1883.4,855.8 1900.0,854.0"/>
<path d="M1646.3,937.1 C1651.4,934.3 1664.3,925.6 1677.1,920.2 C1689.9,914.8 1707.9,909.2 1723.3,904.8 C1738.7,900.4 1751.5,896.8 1769.5,894.0 C1787.4,891.2 1809.3,890.2 1831.0,887.9 C1852.8,885.6 1888.5,881.5 1900.0,880.2"/>
<path d="M1646.3,937.1 L1575.5,999.9"/>
<path d="M1526.2,989.5 L1544.7,997.2 L1550.9,984.9 L1560.1,989.5 L1567.8,994.1 L1587.8,984.9"/>
<path d="M1857.2,790.3 C1857.5,788.3 1855.9,782.1 1858.7,778.6 C1861.6,775.1 1867.3,771.6 1874.1,769.3 C1881.0,767.0 1895.7,765.5 1900.0,764.7"/>
<path d="M1409.2,999.9 L1424.6,994.1 L1433.9,999.9"/>
<path d="M2077.0,713.9 C2075.0,716.2 2068.6,723.9 2064.7,727.8 C2060.9,731.6 2057.3,735.0 2054.0,737.0 C2050.6,739.1 2046.3,739.6 2044.7,740.1"/>
<path d="M2044.7,740.1 C2043.9,739.1 2042.4,735.7 2040.1,734.0 C2037.8,732.2 2032.4,730.1 2030.9,729.3"/>
<path d="M2030.9,729.3 L1984.7,746.3 L1910.8,760.1 L1880.0,770.9"/>
<path d="M2047.8,741.7 L1984.7,769.4"/>
<path d="M1984.7,769.4 C1985.2,770.9 1984.7,776.5 1987.8,778.6 C1990.8,780.6 1995.5,781.1 2003.2,781.7 C2010.8,782.3 2028.8,782.2 2033.9,782.3"/>
<path d="M2033.9,782.3 L2077.0,782.3 L2135.5,780.1"/>
<path d="M2074.0,781.7 C2082.7,780.1 2107.3,777.6 2126.3,772.4 C2145.3,767.3 2169.9,759.6 2187.9,750.9 C2205.8,742.2 2226.4,725.2 2234.1,720.1"/>
<path d="M2234.1,720.1 L2300.9,657.0"/>
<path d="M2054.0,758.0 L2198.7,643.1 L2211.0,650.8 L2072.4,760.7Z"/>
<path d="M2124.8,753.3 L2223.3,675.5 L2233.4,686.2 L2150.9,750.9Z"/>
<path d="M2300.9,677.0 L2243.3,737.0 L2183.3,780.1"/>
<path d="M2300.9,690.8 L2252.5,744.7 L2186.3,795.5 L2167.9,783.2"/>
<path d="M2200.2,767.8 L2209.4,775.5"/>
<path d="M2211.0,761.7 L2221.7,769.4"/>
<path d="M2232.5,746.3 L2243.3,754.0"/>
<path d="M2241.8,738.6 L2254.1,746.3"/>
<ellipse cx="2177.1" cy="780.1" rx="7.7" ry="4.6" transform="rotate(0.0 2177.1 780.1)"/>
<path d="M2169.4,775.5 C2168.4,777.1 2164.5,779.6 2163.3,784.8 C2162.0,789.9 2161.7,800.1 2161.7,806.3 C2161.7,812.5 2161.5,817.6 2163.3,821.7 C2165.0,825.8 2170.9,828.6 2172.5,830.9 C2174.0,833.2 2172.5,834.8 2172.5,835.6"/>
<path d="M2135.5,780.1 L2161.7,798.6"/>
<path d="M2161.7,803.2 L2020.1,815.5"/>
<path d="M2170.9,809.4 L2181.7,803.2 L2191.0,809.4 L2180.2,817.1Z"/>
<path d="M2178.6,823.9 L2264.9,774.0"/>
<path d="M2300.9,730.9 C2297.4,735.2 2286.2,749.9 2280.2,757.0 C2274.2,764.2 2267.4,771.2 2264.9,774.0"/>
<path d="M1880.0,789.4 C1883.1,788.9 1892.8,787.1 1898.5,786.3 C1904.1,785.5 1910.3,785.8 1913.9,784.8 C1917.5,783.7 1917.5,781.4 1920.0,780.1 C1922.6,778.9 1918.5,778.9 1929.3,777.1 C1940.0,775.3 1975.4,770.6 1984.7,769.4"/>
<path d="M1915.4,785.4 L1957.0,796.5 L2012.4,814.0 L2021.6,816.2"/>
<path d="M1957.0,796.5 C1964.7,796.8 1990.3,798.5 2003.2,798.6 C2016.0,798.7 2026.2,799.1 2033.9,797.1 C2041.6,795.0 2046.8,788.1 2049.3,786.3"/>
<path d="M1880.0,798.6 C1883.1,798.1 1893.3,796.0 1898.5,795.5 C1903.6,795.0 1907.2,795.0 1910.8,795.5 C1914.4,796.0 1912.8,796.0 1920.0,798.6 C1927.2,801.2 1948.2,808.9 1953.9,810.9"/>
<path d="M1953.9,810.9 L1952.4,821.7"/>
<path d="M1952.4,821.7 C1949.5,823.8 1942.3,831.2 1935.4,834.0 C1928.5,836.8 1920.0,837.4 1910.8,838.6 C1901.6,839.9 1885.1,841.2 1880.0,841.7"/>
<ellipse cx="1908.3" cy="816.5" rx="8.3" ry="4.9" transform="rotate(0.0 1908.3 816.5)"/>
<path d="M1880.0,827.2 C1885.1,827.3 1902.6,828.5 1910.8,827.9 C1919.0,827.2 1923.6,825.4 1929.3,823.2 C1934.9,821.1 1942.1,816.3 1944.7,814.9"/>
<path d="M1958.5,821.1 L1978.5,827.2 L1995.5,839.6"/>
<path d="M1990.8,815.5 C1989.3,816.6 1983.7,819.7 1981.6,821.7 C1979.5,823.6 1979.0,826.3 1978.5,827.2"/>
<path d="M1880.0,858.0 L2052.4,840.8 L2169.4,832.5 L2172.5,835.6"/>
<path d="M2052.4,840.8 L2100.1,814.9"/>
<path d="M2100.1,814.0 L2100.1,832.5"/>
<path d="M2114.6,814.0 L2114.6,831.6"/>
<path d="M1880.0,881.7 L2138.6,854.0"/>
<path d="M2172.5,835.6 L2117.1,884.8"/>
<path d="M2271.0,781.7 C2257.2,790.9 2212.0,821.2 2187.9,837.1 C2163.8,853.0 2142.7,864.3 2126.3,877.1 C2109.9,889.9 2101.7,900.3 2089.4,914.1 C2077.0,927.9 2058.6,952.3 2052.4,959.9"/>
<path d="M2300.9,749.3 C2292.3,758.3 2265.7,783.5 2249.5,803.2 C2233.2,823.0 2219.7,841.8 2203.3,867.9 C2186.9,894.0 2159.7,944.6 2150.9,959.9"/>
<path d="M2300.9,875.6 C2294.9,882.0 2276.0,900.0 2264.9,914.1 C2253.7,928.1 2239.2,952.3 2234.1,959.9"/>
<path d="M2300.9,915.6 C2297.4,919.5 2286.2,931.3 2280.2,938.7 C2274.2,946.1 2267.4,956.4 2264.9,959.9"/>
<path d="M1520.7,857.6 L1521.4,883.4"/>
<path d="M1476.0,999.8 L1476.0,1145.8 L1480.8,1149.5"/>
<path d="M1484.5,999.8 L1484.5,1121.7"/>
<path d="M1517.7,957.3 L1517.7,1094.0"/>
<path d="M1527.0,964.7 L1527.0,1094.0 L1491.9,1166.1"/>
<path d="M1521.4,986.9 C1522.7,988.7 1525.1,994.3 1528.8,998.0 C1532.5,1001.7 1541.1,1007.2 1543.6,1009.1"/>
<path d="M1543.6,1009.1 L1547.3,1105.1"/>
<path d="M1545.4,988.7 C1546.4,987.8 1548.5,983.8 1551.0,983.2 C1553.4,982.6 1558.1,983.8 1560.2,985.0 C1562.4,986.3 1559.9,990.3 1563.9,990.6 C1567.9,990.9 1580.8,987.5 1584.2,986.9"/>
<path d="M1545.4,988.7 L1546.5,1009.1"/>
<path d="M1575.4,999.8 L1552.8,1023.8 L1554.7,1029.4"/>
<path d="M1554.7,1029.4 C1569.5,1030.9 1616.3,1036.2 1643.3,1038.6 C1670.4,1041.1 1691.1,1044.2 1717.2,1044.2 C1743.3,1044.2 1786.2,1039.5 1800.0,1038.6"/>
<path d="M1569.5,1038.6 L1569.5,1105.1"/>
<path d="M1739.4,1060.8 L1800.0,1086.6"/>
<path d="M1360.7,968.4 L1360.7,1026.8"/>
<path d="M1443.8,999.8 L1554.7,938.9"/>
<ellipse cx="1553.9" cy="938.1" rx="3.7" ry="6.7" transform="rotate(0.0 1553.9 938.1)"/>
<path d="M1229.6,1123.6 L1321.9,1070.0"/>
<path d="M1264.7,1114.4 L1264.7,1121.7 L1384.7,1188.2 L1392.1,1182.7 L1405.0,1190.1 L1405.0,1201.2 L1491.9,1249.2"/>
<path d="M1277.6,1108.8 L1473.4,1204.9"/>
<path d="M1297.9,1097.7 L1475.2,1190.1"/>
<path d="M1292.4,1166.1 L1296.1,1164.2 L1369.9,1204.9 L1377.3,1223.3 L1377.3,1279.9"/>
<path d="M1292.4,1166.1 L1292.4,1238.1"/>
<ellipse cx="1309.7" cy="1188.2" rx="6.7" ry="9.2" transform="rotate(-20.0 1309.7 1188.2)"/>
<ellipse cx="1359.6" cy="1217.8" rx="6.7" ry="9.2" transform="rotate(-20.0 1359.6 1217.8)"/>
<path d="M1331.2,1199.3 L1340.4,1201.2 L1340.4,1210.4"/>
<path d="M1236.9,1264.0 L1318.2,1219.6 L1362.6,1241.8 L1362.6,1279.9"/>
<path d="M1292.4,1238.1 L1318.2,1219.6"/>
<path d="M1325.6,1260.3 C1325.0,1261.5 1321.6,1265.2 1321.9,1267.7 C1322.2,1270.1 1326.5,1273.8 1327.5,1275.1"/>
<path d="M1325.6,1260.3 L1362.6,1241.8"/>
<path d="M1200.0,1264.0 L1236.9,1269.5"/>
<path d="M930.8,886.2 L930.8,926.2"/>
<path d="M930.8,926.2 C931.6,927.2 933.6,932.3 935.4,932.3 C937.2,932.3 940.6,927.2 941.6,926.2"/>
<path d="M941.6,926.2 C943.6,927.2 951.6,929.8 953.9,932.3 C956.2,934.9 953.9,939.0 955.4,941.6 C957.0,944.1 961.8,946.7 963.1,947.7"/>
<path d="M930.8,886.2 L944.7,880.0 L944.7,890.8 L937.0,889.2"/>
<path d="M997.9,907.7 L997.9,896.9 L1007.8,901.6 L1007.8,907.7"/>
<path d="M972.4,916.9 L1004.7,916.9"/>
<path d="M1015.5,916.9 L1037.0,916.3"/>
<path d="M1052.4,916.3 L1115.5,916.3"/>
<path d="M972.4,916.9 L972.4,1012.4"/>
<path d="M972.4,1027.8 L972.4,1046.3"/>
<path d="M972.4,1061.7 L972.4,1081.7 L880.0,1081.7"/>
<ellipse cx="1126.3" cy="916.0" rx="9.9" ry="4.3" transform="rotate(0.0 1126.3 916.0)"/>
<path d="M1121.7,912.3 L1121.7,920.0"/>
<path d="M1126.3,912.0 L1126.3,920.3"/>
<path d="M1130.9,912.3 L1130.9,920.0"/>
<path d="M1135.5,880.0 L1123.2,923.1 L1141.7,930.8 L1155.6,880.0"/>
<path d="M1015.5,880.0 L1015.5,957.0"/>
<path d="M1064.7,880.0 L1064.7,961.6"/>
<path d="M1074.0,880.0 L1074.0,961.6"/>
<path d="M1015.5,923.1 C1016.5,925.2 1016.5,932.3 1021.6,935.4 C1026.8,938.5 1039.3,941.6 1046.3,941.6 C1053.2,941.6 1060.4,936.4 1063.2,935.4"/>
<path d="M1024.7,926.2 C1026.2,927.2 1030.3,931.1 1033.9,932.3 C1037.5,933.6 1044.2,933.6 1046.3,933.9"/>
<path d="M1027.8,892.3 L1052.4,906.2"/>
<path d="M1050.9,880.0 L1050.9,906.2"/>
<path d="M1064.1,961.6 C1064.2,962.6 1062.6,966.7 1064.7,967.7 C1066.9,968.8 1074.7,968.8 1077.0,967.7 C1079.4,966.7 1078.3,962.6 1078.6,961.6"/>
<path d="M1078.6,961.6 L1078.6,972.4"/>
<path d="M1078.6,967.7 L1280.2,1083.2"/>
<path d="M1077.0,973.9 L1277.2,1089.4"/>
<path d="M1015.5,957.0 L1244.2,1086.6"/>
<path d="M981.6,957.0 L1006.2,969.3 L1015.5,978.5 L1103.2,1030.9 L1103.2,1020.1 L1123.2,1030.9 L1123.2,1041.6 L1238.7,1108.4"/>
<path d="M1264.9,1114.0 L1264.9,1123.2 L1277.2,1130.0"/>
<ellipse cx="1175.0" cy="1157.1" rx="12.9" ry="15.4" transform="rotate(-25.0 1175.0 1157.1)"/>
<ellipse cx="1170.9" cy="1160.2" rx="6.8" ry="8.6" transform="rotate(-25.0 1170.9 1160.2)"/>
<ellipse cx="1170.9" cy="1160.2" rx="2.8" ry="3.7" transform="rotate(-25.0 1170.9 1160.2)"/>
<path d="M1181.7,1144.8 L1191.0,1140.2"/>
<path d="M1189.4,1163.3 L1197.1,1158.6"/>
<path d="M1191.0,1140.2 C1192.0,1140.9 1195.6,1142.5 1197.1,1144.8 C1198.7,1147.1 1200.2,1151.7 1200.2,1154.0 C1200.2,1156.3 1197.6,1157.9 1197.1,1158.6"/>
<path d="M1197.1,1138.0 C1198.0,1138.6 1201.2,1139.6 1202.7,1141.7 C1204.1,1143.8 1205.6,1148.1 1205.7,1150.3 C1205.8,1152.5 1203.7,1154.2 1203.3,1154.9"/>
<path d="M1202.7,1134.9 C1203.6,1135.5 1206.8,1136.6 1208.2,1138.6 C1209.6,1140.7 1211.2,1145.0 1211.3,1147.2 C1211.4,1149.4 1209.2,1151.1 1208.8,1151.9"/>
<path d="M1208.2,1131.8 C1209.1,1132.5 1212.3,1133.5 1213.7,1135.5 C1215.2,1137.6 1216.7,1142.0 1216.8,1144.2 C1216.9,1146.4 1214.8,1148.0 1214.4,1148.8"/>
<path d="M1213.7,1128.8 C1214.6,1129.4 1217.4,1130.6 1218.7,1132.5 C1219.9,1134.4 1221.0,1138.0 1221.1,1140.2 C1221.2,1142.3 1219.6,1144.5 1219.3,1145.4"/>
<path d="M1191.0,1140.2 L1213.7,1128.8 L1224.8,1126.3"/>
<path d="M1197.1,1158.6 L1219.3,1145.4 L1224.8,1126.3"/>
<path d="M1227.9,1123.2 L1323.3,1070.9"/>
<path d="M1106.3,1150.3 L1155.6,1150.3"/>
<path d="M880.0,1098.6 L1157.1,1240.2 L1191.0,1263.3 L1234.1,1267.9"/>
<path d="M880.0,1117.1 L1055.5,1214.1"/>
<path d="M1055.5,1214.1 C1059.1,1214.8 1065.2,1214.3 1077.0,1218.7 C1088.8,1223.0 1107.8,1233.1 1126.3,1240.2 C1144.8,1247.3 1177.6,1257.7 1187.9,1261.2"/>
<path d="M880.0,1147.9 L1052.4,1237.1 L1070.9,1238.7 L1120.1,1263.3 L1249.5,1292.6"/>
<path d="M880.0,1170.9 L1052.4,1261.8 L1120.1,1291.0 L1141.7,1300.0"/>
<path d="M880.0,1194.0 L1033.9,1277.2 L1080.1,1300.0"/>
<path d="M880.0,1227.9 L1009.3,1300.0"/>
<path d="M1055.5,1218.7 L1055.5,1300.0"/>
<path d="M1120.1,1243.3 L1120.1,1300.0"/>
<path d="M1155.6,1254.1 L1155.6,1277.2"/>
<path d="M1177.1,1260.2 L1166.3,1272.5"/>
<path d="M1234.1,1267.9 L1320.3,1218.7 L1363.4,1246.4 L1304.9,1280.2"/>
<path d="M1234.1,1267.9 L1326.4,1289.5 L1328.0,1300.0"/>
<path d="M1267.9,1278.7 L1280.2,1300.0"/>
<path d="M1280.2,1286.4 L1311.0,1292.6 L1311.0,1300.0"/>
<path d="M1363.4,1246.4 L1363.4,1300.0"/>
<path d="M1326.4,1264.9 C1325.4,1265.9 1319.8,1269.0 1320.3,1271.0 C1320.8,1273.1 1328.0,1276.1 1329.5,1277.2"/>
<path d="M1326.4,1264.9 L1341.8,1271.0"/>
<path d="M469.7,826.8 L358.9,889.6"/>
<path d="M344.1,898.9 L329.3,907.0"/>
<path d="M310.8,917.3 L272.0,939.5"/>
<path d="M509.6,1046.6 L552.8,1070.7"/>
<path d="M589.8,1085.4 L617.5,1085.4"/>
<path d="M628.6,1085.4 L658.1,1085.4"/>
<path d="M669.2,1084.7 L794.8,1082.9"/>
<path d="M257.3,934.0 L233.3,961.7"/>
<path d="M257.3,934.0 L334.9,1031.9"/>
<path d="M233.3,961.7 L229.6,991.2 L227.7,1035.6 L249.9,1085.4"/>
<path d="M249.9,1085.4 C253.9,1090.7 266.8,1105.5 273.9,1116.8 C281.0,1128.2 287.7,1141.8 292.4,1153.8 C297.0,1165.8 300.1,1183.0 301.6,1188.9"/>
<path d="M301.6,1188.9 L318.2,1203.7 L351.5,1198.1"/>
<path d="M233.3,961.7 L259.1,1004.2 L259.1,1011.5 L249.9,1017.1"/>
<path d="M231.4,987.5 L249.9,1028.2"/>
<path d="M334.9,1031.9 L349.6,1023.7 L369.9,1041.1 L369.9,1050.3"/>
<path d="M334.9,1031.9 L294.2,1068.8 L290.5,1079.9"/>
<path d="M294.2,1068.8 L299.8,1146.4"/>
<path d="M279.4,1068.8 L288.7,1131.6"/>
<path d="M349.6,1028.2 L360.7,1044.8 L303.4,1079.9 L303.4,1091.0 L309.0,1092.8"/>
<path d="M358.9,1054.0 L309.0,1085.4"/>
<path d="M369.9,1050.3 L358.9,1054.0 L392.1,1078.1 L392.1,1087.3 L384.7,1089.1 L392.1,1094.7 L399.5,1091.0"/>
<path d="M307.1,1092.8 L318.2,1203.7"/>
<path d="M321.9,1091.0 L329.3,1157.5 L325.6,1159.3 L325.6,1168.6 L333.0,1170.4 L331.2,1200.0"/>
<path d="M327.5,1086.5 C332.1,1087.3 347.5,1088.1 355.2,1091.0 C362.9,1093.9 368.7,1100.2 373.6,1103.9 C378.6,1107.6 382.9,1111.6 384.7,1113.1"/>
<path d="M384.7,1113.1 L591.6,1239.9"/>
<path d="M327.5,1087.3 L336.7,1109.5 L347.8,1116.8"/>
<path d="M347.8,1116.8 C350.9,1118.1 361.3,1121.8 366.3,1124.2 C371.2,1126.7 373.0,1128.5 377.3,1131.6 C381.6,1134.7 389.7,1140.9 392.1,1142.7"/>
<path d="M392.1,1142.7 L557.3,1241.7"/>
<path d="M325.6,1168.6 L338.5,1157.5 L351.5,1198.1 L364.4,1216.6 L373.6,1216.6"/>
<path d="M368.1,1139.0 L362.6,1216.6"/>
<path d="M368.1,1139.0 L379.2,1137.2 L373.6,1216.6"/>
<path d="M373.6,1216.6 L395.8,1235.1"/>
<path d="M399.5,1239.9 L399.5,1216.6 L406.9,1220.3 L406.9,1239.9"/>
<path d="M399.5,1091.0 L456.8,1127.9 L456.8,1137.2 L451.2,1134.6 L458.6,1138.3 L466.0,1131.6 L549.1,1179.6 L549.1,1190.7 L541.7,1187.8 L554.7,1194.4 L560.2,1188.9 L643.3,1239.9"/>
<path d="M477.1,1137.2 L495.6,1129.8 L536.2,1155.6 L536.2,1164.9 L525.1,1170.4"/>
<path d="M477.1,1137.2 L525.1,1170.4"/>
<path d="M536.2,1164.9 L551.0,1179.6"/>
<path d="M460.9,823.3 L460.9,803.5 L476.9,823.3"/>
<path d="M476.9,823.3 L476.9,838.0 L493.0,836.8"/>
<path d="M479.4,820.8 C481.1,820.4 485.2,818.5 489.3,818.3 C493.4,818.1 501.6,819.4 504.0,819.6"/>
<path d="M504.0,819.6 L545.9,875.0"/>
<path d="M545.9,875.0 C546.5,876.8 548.2,883.2 549.6,886.1 C551.0,888.9 553.7,891.2 554.5,892.2"/>
<path d="M476.9,838.0 L526.2,902.1 L538.5,888.5"/>
<path d="M476.9,824.5 C480.2,826.1 491.7,827.8 496.7,834.3 C501.6,840.9 503.2,854.9 506.5,863.9 C509.8,872.9 512.9,882.4 516.4,888.5 C519.8,894.7 525.6,898.8 527.4,900.8"/>
<path d="M554.5,892.2 L879.9,1098.6"/>
<path d="M533.6,893.4 L590.2,935.3"/>
<path d="M590.2,935.3 C590.9,937.0 592.3,942.5 593.9,945.2 C595.6,947.8 599.1,950.3 600.1,951.3"/>
<path d="M600.1,951.3 L879.9,1117.1"/>
<path d="M597.6,974.7 L879.9,1147.9"/>
<path d="M597.6,1001.8 L879.9,1171.0"/>
<path d="M597.6,1019.1 L879.9,1193.9"/>
<path d="M597.6,1043.7 L879.9,1227.9"/>
<path d="M462.2,840.5 C466.7,845.2 480.6,860.0 489.3,868.8 C497.9,877.6 504.4,883.6 513.9,893.4 C523.3,903.3 536.9,919.7 545.9,927.9 C554.9,936.1 561.1,938.4 568.1,942.7 C575.1,947.0 583.1,948.7 587.8,953.8 C592.5,958.9 595.0,970.2 596.4,973.5"/>
<path d="M460.9,857.7 C465.7,862.9 479.2,877.6 489.3,888.5 C499.3,899.4 511.4,913.2 521.3,923.0 C531.1,932.9 540.6,941.5 548.4,947.6 C556.2,953.8 561.5,955.4 568.1,960.0 C574.6,964.5 582.9,968.2 587.8,974.7 C592.7,981.3 596.0,995.3 597.6,999.4"/>
<path d="M459.7,875.0 C458.9,877.2 455.4,884.6 454.8,888.5 C454.2,892.4 455.8,896.7 456.0,898.4"/>
<path d="M456.0,898.4 C459.5,902.5 467.3,911.5 476.9,923.0 C486.6,934.5 502.8,954.2 513.9,967.3 C525.0,980.5 535.2,994.4 543.4,1001.8 C551.7,1009.2 555.8,1006.7 563.2,1011.7 C570.5,1016.6 582.0,1025.8 587.8,1031.4 C593.5,1036.9 596.0,1042.7 597.6,1044.9"/>
<path d="M460.9,876.2 C465.7,881.5 480.4,898.0 489.3,908.2 C498.1,918.5 506.5,929.6 513.9,937.8 C521.3,946.0 527.4,952.6 533.6,957.5 C539.8,962.4 544.3,963.2 550.8,967.3 C557.4,971.4 566.4,976.8 573.0,982.1 C579.6,987.5 586.1,993.4 590.2,999.4 C594.4,1005.3 596.4,1014.8 597.6,1017.8"/>
<path d="M460.9,823.3 L460.9,876.2"/>
<path d="M553.3,914.4 L553.3,1004.3"/>
<path d="M565.6,924.2 L565.6,1011.7"/>
<path d="M596.4,955.0 L596.4,1038.8"/>
<path d="M483.1,924.2 L483.1,942.7 L501.6,962.4 L502.8,945.2 L484.3,925.5"/>
<path d="M501.6,962.4 L500.3,972.3 L513.9,989.5 L523.7,987.0"/>
<path d="M522.5,839.3 L595.2,806.0"/>
<path d="M595.2,806.0 C596.4,805.6 600.1,803.1 602.6,803.5 C605.0,804.0 608.7,807.7 610.0,808.5"/>
<path d="M610.0,808.5 L639.5,824.5"/>
<path d="M639.5,824.5 C640.5,825.3 644.4,826.9 645.7,829.4 C646.9,831.9 646.7,837.6 646.9,839.3"/>
<path d="M646.9,839.3 L646.4,888.5"/>
<path d="M646.4,888.5 C646.1,889.3 645.6,892.2 644.4,893.4 C643.3,894.7 640.3,895.5 639.5,895.9"/>
<path d="M639.5,895.9 L590.2,918.1"/>
<path d="M607.5,850.3 L639.5,833.1"/>
<path d="M607.5,850.3 L607.5,910.7"/>
<path d="M607.5,850.3 C606.3,849.7 602.6,846.7 600.1,846.7 C597.6,846.7 594.8,848.5 592.7,850.3 C590.7,852.2 588.6,856.5 587.8,857.7"/>
<path d="M587.8,857.7 L570.5,866.4"/>
<path d="M570.5,866.4 C569.5,865.7 566.2,862.2 564.4,862.7 C562.5,863.1 560.3,867.8 559.5,868.8"/>
<path d="M559.5,868.8 L559.5,895.9"/>
<path d="M570.5,866.4 L570.5,903.3"/>
<path d="M591.5,859.0 L591.5,918.1"/>
<path d="M548.4,876.2 L559.5,870.0"/>
<path d="M607.5,913.2 L664.1,946.4 L670.3,942.7 L670.3,802.3 L616.1,774.0 L587.8,788.8 L587.8,808.5"/>
<ellipse cx="650.6" cy="807.2" rx="6.7" ry="9.9" transform="rotate(-25.0 650.6 807.2)"/>
<ellipse cx="650.6" cy="924.2" rx="6.7" ry="9.9" transform="rotate(-25.0 650.6 924.2)"/>
<ellipse cx="617.3" cy="790.0" rx="6.7" ry="9.9" transform="rotate(-25.0 617.3 790.0)"/>
<path d="M630.9,793.7 L630.9,799.9"/>
<path d="M623.5,904.5 L630.9,908.2 L630.9,918.1"/>
<path d="M579.2,793.7 L579.2,812.2"/>
<path d="M770.0,1062.2 L784.8,1062.9 L779.9,1075.7"/>
<path d="M771.3,1063.4 L772.5,1075.7"/>
<path d="M784.8,1062.9 L809.5,1076.9"/>
<path d="M833.6,996.9 L833.6,1060.9"/>
<path d="M557.3,1241.9 C570.9,1248.7 612.8,1270.2 638.6,1282.6 C664.5,1294.9 689.4,1303.5 712.5,1315.8 C735.6,1328.1 766.4,1349.7 777.2,1356.5"/>
<path d="M586.9,1238.2 C601.7,1245.6 648.5,1269.6 675.6,1282.6 C702.7,1295.5 724.8,1304.7 749.5,1315.8 C774.1,1326.9 805.5,1339.2 823.3,1349.1 C841.2,1358.9 851.1,1370.6 856.6,1374.9"/>
<path d="M415.1,1120.0 C430.8,1129.9 478.2,1160.6 509.3,1179.1 C540.4,1197.6 570.9,1214.2 601.7,1230.8 C632.5,1247.5 666.3,1265.3 694.0,1278.9 C721.7,1292.4 743.3,1300.4 767.9,1312.1 C792.6,1323.8 825.8,1338.3 841.8,1349.1 C857.8,1359.8 860.3,1372.2 864.0,1376.8"/>
<path d="M643.4,1240.1 L655.2,1240.1 L655.2,1249.3 L649.7,1247.5 L660.8,1253.0 L671.9,1249.3 L762.4,1293.6 L762.4,1302.9 L755.0,1301.0 L767.9,1306.6 L775.3,1302.9 L838.1,1332.4 L838.1,1339.8 L832.6,1338.0 L843.7,1342.8 L851.1,1338.0"/>
<path d="M701.4,1262.2 L716.2,1256.0 L760.5,1278.9 L760.5,1289.9 L751.3,1291.8"/>
<path d="M751.3,1282.6 L760.5,1278.9"/>
<path d="M380.0,1223.4 L400.3,1238.2 L400.3,1217.9"/>
<path d="M400.3,1217.9 C400.6,1217.5 401.2,1215.3 402.2,1215.3 C403.1,1215.3 405.2,1217.5 405.9,1217.9"/>
<path d="M405.9,1217.9 L441.0,1241.9 L442.8,1247.5 L442.8,1269.6"/>
<path d="M404.0,1219.8 L404.0,1238.2"/>
<path d="M442.8,1269.6 L533.3,1323.2 L533.3,1304.7"/>
<path d="M533.3,1304.7 C533.6,1304.1 534.2,1301.2 535.2,1301.0 C536.1,1300.9 538.2,1303.5 538.9,1304.0"/>
<path d="M538.9,1304.0 L581.4,1326.9 L583.9,1332.4 L583.9,1352.8"/>
<path d="M538.9,1306.6 L538.9,1325.0 L583.9,1347.2"/>
<path d="M583.9,1352.8 L683.0,1402.6 L683.0,1384.2"/>
<path d="M683.0,1384.2 C683.4,1383.5 684.7,1380.6 685.9,1380.5 C687.1,1380.3 689.6,1382.6 690.3,1383.1"/>
<path d="M690.3,1383.1 L740.2,1404.5 L743.9,1411.9 L743.9,1430.3"/>
<path d="M688.5,1386.0 L688.5,1402.6 L743.9,1426.6"/>
<path d="M743.9,1430.3 L773.5,1443.3 L780.9,1448.8 L790.1,1450.7"/>
<ellipse cx="465.0" cy="1245.6" rx="6.7" ry="11.1" transform="rotate(-35.0 465.0 1245.6)"/>
<path d="M462.0,1237.5 C463.1,1238.8 467.6,1242.7 468.7,1245.6 C469.8,1248.5 468.7,1253.3 468.7,1254.9"/>
<ellipse cx="664.5" cy="1355.7" rx="6.7" ry="11.1" transform="rotate(-35.0 664.5 1355.7)"/>
<path d="M661.5,1347.6 C662.6,1348.9 667.1,1352.8 668.2,1355.7 C669.3,1358.6 668.2,1363.4 668.2,1364.9"/>
<path d="M557.3,1344.6 L557.3,1408.2"/>
<path d="M1249.6,1292.6 L1309.5,1310.7"/>
<path d="M1141.7,1300.0 L1309.5,1342.9"/>
<path d="M1080.0,1300.0 L1095.2,1304.1 L1121.0,1317.0 L1309.5,1363.2"/>
<path d="M1009.1,1300.0 L1054.5,1307.8 L1076.7,1310.7 L1121.0,1336.6 L1311.3,1389.8"/>
<path d="M1055.3,1300.0 L1055.3,1304.1"/>
<path d="M1119.9,1300.0 L1119.9,1329.9"/>
<path d="M1309.5,1307.8 L1309.5,1313.3 L1316.8,1320.7 L1320.5,1315.2"/>
<path d="M1326.1,1291.2 L1327.9,1307.8 L1327.9,1378.0 L1316.8,1381.7 L1311.3,1389.1"/>
<path d="M1309.5,1309.6 C1308.8,1312.4 1305.1,1320.4 1305.8,1326.3 C1306.4,1332.1 1311.6,1339.8 1313.1,1344.7 C1314.7,1349.7 1315.6,1352.1 1315.0,1355.8 C1314.4,1359.5 1310.4,1362.6 1309.5,1366.9 C1308.5,1371.2 1309.1,1378.0 1309.5,1381.7 C1309.8,1385.4 1311.0,1387.8 1311.3,1389.1"/>
<path d="M1309.5,1366.9 L1326.1,1372.4"/>
<path d="M1268.8,1278.2 L1326.1,1291.2"/>
<path d="M1268.8,1278.2 L1281.7,1304.1"/>
<path d="M1279.9,1285.6 L1309.5,1291.2 L1311.3,1309.6"/>
<path d="M1363.0,1280.1 L1363.0,1300.4 L1331.6,1322.6"/>
<path d="M1377.8,1280.1 L1377.8,1341.0 L1364.9,1348.4 L1357.5,1344.7"/>
<path d="M1331.6,1329.9 L1346.4,1337.3"/>
<ellipse cx="1361.2" cy="1331.8" rx="5.2" ry="8.1" transform="rotate(-20.0 1361.2 1331.8)"/>
<path d="M1381.5,1318.9 L1427.7,1293.0"/>
<path d="M1337.2,1348.4 L1416.6,1393.5 L1409.2,1397.2"/>
<path d="M1409.2,1273.8 L1392.6,1282.7"/>
<path d="M1457.2,1275.3 L1440.6,1284.9"/>
<ellipse cx="1183.8" cy="1404.6" rx="16.6" ry="21.4" transform="rotate(-15.0 1183.8 1404.6)"/>
<path d="M1176.5,1400.1 L1185.7,1396.5 L1188.3,1414.9 L1179.4,1416.8Z"/>
<path d="M1200.5,1396.5 L1237.4,1374.3"/>
<path d="M1186.8,1435.2 L1186.8,1498.1"/>
<ellipse cx="1324.2" cy="1446.3" rx="18.5" ry="22.2" transform="rotate(-15.0 1324.2 1446.3)"/>
<ellipse cx="1320.5" cy="1448.2" rx="11.1" ry="14.0" transform="rotate(-15.0 1320.5 1448.2)"/>
<path d="M1322.4,1442.6 C1321.2,1442.9 1316.2,1442.6 1315.0,1444.5 C1313.8,1446.3 1313.8,1452.2 1315.0,1453.7 C1316.2,1455.3 1321.2,1453.7 1322.4,1453.7"/>
<path d="M1340.9,1435.2 L1377.8,1411.2"/>
<path d="M1348.2,1451.9 L1383.3,1424.2"/>
<path d="M1377.8,1411.2 C1378.7,1411.5 1382.1,1411.5 1383.3,1413.1 C1384.6,1414.6 1385.2,1418.6 1385.2,1420.5 C1385.2,1422.3 1383.7,1423.5 1383.3,1424.2"/>
<path d="M1348.2,1431.5 C1349.3,1432.2 1353.1,1433.4 1354.5,1435.2 C1355.9,1437.1 1356.7,1440.6 1356.7,1442.6 C1356.7,1444.7 1354.9,1446.6 1354.5,1447.4"/>
<path d="M1355.6,1426.7 C1356.7,1427.4 1360.5,1428.6 1361.9,1430.4 C1363.3,1432.3 1364.1,1435.8 1364.1,1437.8 C1364.1,1439.9 1362.3,1441.8 1361.9,1442.6"/>
<path d="M1363.0,1421.6 C1364.1,1422.2 1367.9,1423.4 1369.3,1425.3 C1370.7,1427.1 1371.5,1430.7 1371.5,1432.7 C1371.5,1434.6 1369.7,1436.4 1369.3,1437.1"/>
<path d="M1370.4,1416.8 C1371.5,1417.4 1375.3,1418.6 1376.7,1420.5 C1378.1,1422.3 1378.9,1426.0 1378.9,1427.9 C1378.9,1429.7 1377.1,1430.9 1376.7,1431.5"/>
<path d="M1381.5,1414.9 L1396.3,1405.7"/>
<path d="M1333.5,1474.0 L1333.5,1538.7"/>
<path d="M2052.3,960.0 C2050.0,964.0 2043.4,976.3 2038.6,984.3 C2033.9,992.4 2027.5,1002.5 2023.8,1008.3 C2020.1,1014.2 2017.7,1017.6 2016.5,1019.4"/>
<path d="M2016.5,1019.4 C2014.0,1021.6 2009.1,1028.5 2001.7,1032.4 C1994.3,1036.2 1982.0,1040.4 1972.1,1042.7 C1962.3,1045.0 1947.5,1045.8 1942.6,1046.4"/>
<path d="M1942.6,1046.4 L1780.0,1050.1"/>
<path d="M2150.9,960.0 C2147.6,965.9 2139.8,977.2 2131.0,995.4 C2122.1,1013.6 2107.0,1047.8 2097.7,1069.3 C2088.5,1090.9 2080.5,1110.6 2075.6,1124.7 C2070.6,1138.9 2068.8,1145.7 2068.2,1154.3 C2067.6,1162.9 2068.8,1169.7 2071.9,1176.5 C2074.9,1183.2 2081.1,1190.9 2086.6,1194.9 C2092.2,1198.9 2098.7,1197.7 2105.1,1200.5 C2111.6,1203.2 2122.1,1209.7 2125.4,1211.5"/>
<path d="M2234.1,960.0 C2229.2,967.7 2215.9,985.2 2204.9,1006.5 C2193.8,1027.8 2177.8,1064.4 2167.9,1087.8 C2158.1,1111.2 2152.2,1127.5 2145.8,1146.9 C2139.3,1166.3 2131.9,1194.6 2129.1,1204.2"/>
<path d="M2264.7,960.0 C2260.3,967.7 2249.3,985.2 2238.1,1006.5 C2226.9,1027.8 2208.0,1064.4 2197.5,1087.8 C2187.0,1111.2 2181.5,1128.4 2175.3,1146.9 C2169.2,1165.4 2164.2,1187.5 2160.5,1198.6 C2156.8,1209.7 2154.4,1210.9 2153.1,1213.4"/>
<path d="M2153.1,1213.4 C2149.5,1214.9 2137.8,1220.5 2131.0,1222.6 C2124.2,1224.8 2115.6,1225.7 2112.5,1226.3"/>
<path d="M2112.5,1226.3 L1961.0,1250.3"/>
<path d="M1961.0,1250.3 C1958.6,1250.6 1950.3,1252.8 1946.3,1252.2 C1942.3,1251.6 1938.4,1249.4 1937.0,1246.6 C1935.7,1243.9 1937.9,1237.4 1938.1,1235.6"/>
<path d="M1938.1,1235.6 L1968.4,1132.1 L1992.4,1047.1"/>
<path d="M1992.4,1047.1 C1994.0,1045.0 1997.7,1038.8 2001.7,1034.2 C2005.7,1029.6 2014.0,1021.9 2016.5,1019.4"/>
<path d="M2016.5,1028.7 L1994.3,1117.3 L1953.6,1248.5"/>
<path d="M1979.5,1235.6 L2125.4,1211.5"/>
<path d="M1979.5,1235.6 C1984.4,1232.2 1999.2,1220.8 2009.1,1215.2 C2018.9,1209.7 2030.0,1204.8 2038.6,1202.3 C2047.2,1199.8 2050.9,1199.2 2060.8,1200.5 C2070.6,1201.7 2091.6,1208.2 2097.7,1209.7"/>
<path d="M1780.0,1080.4 L1798.5,1088.5 L1826.2,1073.7 L1835.4,1078.5 L1887.1,1050.1"/>
<path d="M1853.9,1071.2 L1913.0,1070.0 L1948.1,1090.7"/>
<path d="M1948.1,1090.7 L1964.7,1047.1"/>
<path d="M1964.7,1047.1 C1965.3,1046.5 1966.9,1043.8 1968.4,1043.4 C1970.0,1043.1 1973.0,1045.0 1974.0,1045.3"/>
<path d="M1974.0,1045.3 L1988.7,1054.5 L1983.2,1073.0 L1964.7,1063.8"/>
<ellipse cx="1974.7" cy="1058.2" rx="5.2" ry="6.7" transform="rotate(-20.0 1974.7 1058.2)"/>
<path d="M1948.1,1090.7 L1927.8,1132.1"/>
<path d="M1927.8,1132.1 L1940.7,1121.0 L1964.7,1137.7 L1951.8,1172.8"/>
<path d="M1927.8,1132.1 L1929.6,1158.0 L1951.8,1172.8"/>
<path d="M1927.8,1132.1 L1949.9,1145.0 L1964.7,1137.7"/>
<path d="M1949.9,1145.0 L1951.8,1172.8"/>
<ellipse cx="1940.0" cy="1151.3" rx="5.2" ry="6.7" transform="rotate(-20.0 1940.0 1151.3)"/>
<path d="M1983.2,1073.0 L1961.0,1146.9"/>
<path d="M1987.6,1252.2 L1987.6,1300.2"/>
<path d="M1981.4,1303.9 L1994.3,1303.9 L1998.0,1313.1 L1998.0,1335.3"/>
<path d="M1981.4,1303.9 L1975.8,1315.0 L1975.8,1337.2"/>
<path d="M1988.7,1303.9 L1986.9,1339.0"/>
<ellipse cx="1986.9" cy="1342.7" rx="19.2" ry="9.2" transform="rotate(0.0 1986.9 1342.7)"/>
<path d="M1967.7,1343.4 C1967.8,1345.2 1965.2,1351.6 1968.4,1353.8 C1971.6,1356.0 1980.7,1356.9 1986.9,1356.7 C1993.1,1356.6 2002.2,1355.3 2005.4,1353.0 C2008.6,1350.8 2006.0,1345.0 2006.1,1343.4"/>
<path d="M1987.6,1359.3 L1987.6,1398.1"/>
<path d="M1897.5,1323.1 L1964.7,1323.1"/>
<path d="M1858.3,1424.0 L1925.9,1424.0"/>
<path d="M1857.0,1424.7 L1926.2,1424.7"/>
<path d="M1900.1,1533.1 L1968.7,1533.1"/>
<path d="M1932.4,1406.2 L1937.0,1401.6 L1950.9,1393.9 L1975.5,1390.8 L1978.6,1398.5 L1997.0,1395.4 L2015.5,1384.7 L2026.3,1381.6 L2050.9,1377.0 L2055.5,1383.1 L2086.3,1368.3 L2107.9,1364.7 L2112.5,1369.3 L2137.1,1361.6 L2157.1,1361.0 L2183.3,1373.9 L2177.2,1401.6 L2174.1,1447.8"/>
<path d="M2174.1,1447.8 C2173.3,1452.9 2172.8,1470.4 2169.5,1478.6 C2166.1,1486.8 2158.4,1492.7 2154.1,1497.0 C2149.7,1501.4 2145.1,1503.5 2143.3,1504.7"/>
<path d="M2143.3,1504.7 L2127.9,1509.4 L2107.9,1490.9 L2106.3,1460.1 L2114.0,1412.4"/>
<path d="M1932.4,1406.2 L1937.0,1423.2 L1937.0,1450.9 L1978.6,1441.6 L1980.1,1423.2 L1998.6,1423.2 L2010.9,1438.5 L2030.9,1435.5 L2032.5,1423.2 L2067.9,1426.2 L2074.0,1427.8 L2090.9,1423.2 L2092.5,1401.6 L2107.9,1400.1 L2107.9,1435.5"/>
<path d="M1937.0,1404.7 L1941.6,1421.6 L1944.7,1438.5 L1978.6,1432.4 L1975.5,1398.5"/>
<path d="M1944.7,1413.9 L1944.7,1438.5"/>
<path d="M1947.8,1415.5 L1970.9,1412.4 L1972.4,1423.2 L1955.5,1426.2Z"/>
<path d="M1940.1,1404.7 L1972.4,1398.5"/>
<path d="M1981.7,1401.6 L1997.0,1398.5 L2000.1,1406.2 L1984.7,1407.8Z"/>
<path d="M1984.7,1417.0 L1997.0,1413.9 L2067.9,1401.6"/>
<path d="M2000.1,1387.7 L2012.4,1404.7 L2014.0,1409.3"/>
<path d="M1997.0,1392.4 L2015.5,1389.3"/>
<ellipse cx="2012.4" cy="1391.7" rx="2.5" ry="4.3" transform="rotate(0.0 2012.4 1391.7)"/>
<path d="M2026.3,1381.6 L2029.4,1392.4 L2032.5,1409.3 L2034.0,1423.2"/>
<path d="M2029.4,1389.3 L2049.4,1384.7 L2058.6,1398.5 L2061.7,1410.8 L2066.3,1421.6"/>
<path d="M2038.6,1401.6 L2055.5,1398.5 L2057.1,1407.8 L2043.2,1410.2Z"/>
<path d="M2012.4,1417.0 L2012.4,1435.5"/>
<path d="M2067.9,1401.6 L2069.4,1426.2"/>
<path d="M2055.5,1383.1 L2067.9,1401.6"/>
<ellipse cx="2074.9" cy="1380.7" rx="3.1" ry="4.9" transform="rotate(0.0 2074.9 1380.7)"/>
<path d="M2086.3,1368.3 L2090.9,1392.4 L2092.5,1401.6"/>
<path d="M2067.9,1401.6 L2120.2,1392.4"/>
<path d="M2092.5,1373.9 L2107.9,1371.4 L2109.4,1378.5 L2094.0,1380.7Z"/>
<path d="M2107.9,1364.7 L2120.2,1389.3 L2123.3,1413.9"/>
<path d="M2126.4,1389.3 L2131.0,1381.6 L2138.7,1380.7 L2143.3,1386.2 L2126.4,1389.3"/>
<path d="M2137.1,1361.6 L2141.7,1373.9 L2144.8,1386.2"/>
<path d="M2138.7,1373.9 L2178.7,1375.4"/>
<path d="M2144.8,1386.2 C2147.9,1386.7 2158.7,1387.2 2163.3,1389.3 C2167.9,1391.3 2170.2,1396.5 2172.5,1398.5 C2174.8,1400.6 2176.4,1401.1 2177.2,1401.6"/>
<path d="M2123.3,1413.9 C2125.8,1412.4 2133.5,1406.7 2138.7,1404.7 C2143.8,1402.6 2148.2,1401.6 2154.1,1401.6 C2160.0,1401.6 2170.7,1404.2 2174.1,1404.7"/>
<path d="M2114.0,1412.4 L2123.3,1418.5"/>
<path d="M2123.3,1418.5 L2137.1,1412.4 L2127.9,1460.1 L2123.3,1461.6Z"/>
<path d="M2151.0,1404.7 L2144.8,1435.5 L2134.1,1467.8 L2111.0,1478.6"/>
<path d="M2134.1,1467.8 L2143.3,1503.2"/>
<ellipse cx="2159.6" cy="1413.3" rx="3.1" ry="5.5" transform="rotate(-30.0 2159.6 1413.3)"/>
<ellipse cx="2147.9" cy="1477.0" rx="3.1" ry="5.5" transform="rotate(-30.0 2147.9 1477.0)"/>
<path d="M1987.2,1361.6 L1987.2,1395.4"/>
<path d="M1987.2,1423.2 L1987.2,1500.1"/>
<path d="M1980.1,1510.9 L1980.1,1546.3"/>
<path d="M1995.5,1510.9 L1995.5,1546.3"/>
<path d="M1980.1,1510.9 L1987.2,1500.1 L1995.5,1510.9"/>
<path d="M1978.6,1512.4 L1997.0,1517.1"/>
<path d="M1978.6,1520.1 L1997.0,1524.8"/>
<path d="M1978.6,1527.8 L1997.0,1532.5"/>
<path d="M1978.6,1535.5 L1997.0,1540.1"/>
<path d="M1978.6,1543.2 L1997.0,1547.8"/>
<path d="M1992.4,1512.4 L1992.4,1552.5"/>
<ellipse cx="1987.8" cy="1550.9" rx="16.9" ry="8.6" transform="rotate(0.0 1987.8 1550.9)"/>
<path d="M1970.9,1550.9 L1971.8,1563.2"/>
<path d="M2004.7,1550.9 L2003.8,1563.2"/>
<path d="M1971.8,1563.2 C1972.9,1564.8 1974.4,1570.9 1978.6,1572.5 C1982.8,1574.0 1992.8,1574.0 1997.0,1572.5 C2001.3,1570.9 2002.7,1564.8 2003.8,1563.2"/>
<path d="M856.8,633.4 C857.3,634.1 858.5,636.8 859.8,637.3 C861.1,637.8 863.9,636.5 864.7,636.4"/>
<path d="M864.7,636.4 L943.5,593.0"/>
<path d="M882.5,500.0 L878.5,519.1 L864.7,635.4"/>
<path d="M956.4,500.0 L966.2,558.5"/>
<path d="M969.2,500.0 L976.1,545.7"/>
<path d="M979.0,500.0 C979.7,501.5 980.5,506.4 983.0,509.3 C985.4,512.1 992.0,515.8 993.8,517.1"/>
<path d="M993.8,517.1 C994.0,515.5 993.3,510.1 994.8,507.3 C996.3,504.5 999.7,501.9 1002.7,500.4 C1005.6,498.9 1009.4,498.3 1012.5,498.4 C1015.6,498.6 1019.2,499.2 1021.4,501.4 C1023.5,503.5 1024.3,506.6 1025.3,511.2 C1026.3,515.8 1027.0,526.0 1027.3,529.0"/>
<path d="M993.8,517.1 L969.2,560.5"/>
<path d="M1000.7,504.3 C1002.0,505.2 1006.6,506.8 1008.6,509.3 C1010.5,511.7 1012.0,514.2 1012.5,519.1 C1013.0,524.0 1011.7,535.5 1011.5,538.8"/>
<path d="M1007.6,523.1 L992.8,548.7"/>
<path d="M1002.7,546.7 L1051.9,516.2"/>
<path d="M1051.9,500.0 L1051.9,516.2"/>
<path d="M1051.9,516.2 L1100.0,586.1"/>
<path d="M1079.5,500.0 C1080.8,503.2 1084.8,514.0 1087.4,519.1 C1090.0,524.3 1093.2,528.3 1095.3,530.9 C1097.4,533.6 1099.2,534.2 1100.0,534.9"/>
<path d="M942.6,574.3 L988.9,552.6"/>
<path d="M988.9,552.6 C989.9,552.3 993.3,550.3 994.8,550.6 C996.3,551.0 997.2,553.9 997.7,554.6"/>
<path d="M942.6,574.3 L943.5,590.0"/>
<path d="M943.5,590.0 C944.5,592.0 946.2,599.1 949.5,601.9 C952.7,604.7 961.0,606.0 963.3,606.8"/>
<path d="M963.3,606.8 L986.9,604.8"/>
<path d="M951.4,572.3 L998.7,594.0 L990.8,599.9"/>
<path d="M945.5,576.3 L988.9,597.9"/>
<path d="M963.3,570.3 L957.3,576.3"/>
<ellipse cx="973.1" cy="581.2" rx="10.8" ry="6.9" transform="rotate(0.0 973.1 581.2)"/>
<ellipse cx="973.1" cy="581.2" rx="5.9" ry="3.5" transform="rotate(0.0 973.1 581.2)"/>
<path d="M988.9,597.9 L992.8,609.8 L1008.6,619.6"/>
<path d="M997.7,554.6 C997.9,553.6 997.2,550.1 998.7,548.7 C1000.2,547.2 1003.6,545.9 1006.6,545.7 C1009.6,545.6 1014.8,547.4 1016.5,547.7"/>
<path d="M1016.5,547.7 L1100.0,596.0"/>
<path d="M997.7,554.6 C997.6,556.9 996.6,562.8 996.7,568.4 C996.9,574.0 997.9,581.2 998.7,588.1 C999.5,595.0 1001.2,606.1 1001.7,609.8"/>
<path d="M1001.7,609.8 L1010.5,615.7"/>
<path d="M1044.0,580.2 L1048.0,578.2 L1100.0,603.8"/>
<path d="M1043.1,583.2 L1043.1,706.3"/>
<path d="M1022.0,602.3 L1024.9,600.3 L1036.2,607.4 L1035.6,617.2 L1024.3,611.3Z"/>
<path d="M1044.0,603.8 L1052.9,600.9 L1052.9,605.8 L1047.0,608.8"/>
<path d="M1049.0,608.8 L1061.8,615.7 L1061.8,623.5"/>
<path d="M1009.6,620.6 L1019.4,613.7 L1042.1,627.5 L1033.2,633.4Z"/>
<path d="M1009.6,620.6 L1009.6,661.0 L1033.2,675.8 L1033.2,633.4"/>
<path d="M1033.2,675.8 L1042.1,670.8 L1042.1,627.5"/>
<path d="M1034.2,663.9 L1042.1,668.9"/>
<path d="M973.1,606.8 L973.1,702.4 L988.9,718.1"/>
<path d="M988.9,670.8 L988.9,759.9"/>
<path d="M991.8,609.8 L991.8,623.5"/>
<path d="M984.9,627.5 L991.8,624.5 L1008.6,633.4"/>
<path d="M984.9,627.5 L1006.6,640.3"/>
<path d="M996.7,633.4 L996.7,653.1"/>
<path d="M996.7,653.1 C997.1,654.1 997.7,657.5 998.7,659.0 C999.7,660.5 1002.0,661.5 1002.7,662.0"/>
<path d="M988.9,670.8 L1002.7,661.0 L1009.6,671.8 L991.8,677.7 L988.9,670.8"/>
<path d="M1005.6,671.8 L1006.6,688.6 L1010.5,706.3"/>
<path d="M1006.6,689.6 L1043.1,708.3"/>
<path d="M1010.5,706.3 L1049.0,727.0"/>
<path d="M1043.1,706.3 L1049.0,727.0"/>
<path d="M988.9,718.1 L1009.6,706.3 L1016.5,716.2 L991.8,720.1"/>
<path d="M1009.6,716.2 L1009.6,739.8"/>
<path d="M988.9,753.6 L1009.6,739.8 L1016.5,743.7 L1014.5,748.7 L991.8,751.2"/>
<ellipse cx="1075.6" cy="622.6" rx="11.8" ry="7.5" transform="rotate(-10.0 1075.6 622.6)"/>
<path d="M1044.0,635.4 C1044.7,634.1 1046.0,629.3 1048.0,627.5 C1050.0,625.7 1053.2,625.0 1055.9,624.5 C1058.5,624.0 1062.4,624.5 1063.7,624.5"/>
<path d="M1044.0,635.4 L1046.0,657.0 L1052.9,696.5 L1052.9,759.9"/>
<path d="M1064.7,627.5 L1064.7,759.9"/>
<path d="M1075.6,631.4 L1075.6,759.9"/>
<path d="M1063.7,637.3 C1062.8,637.5 1059.3,637.3 1057.8,638.3 C1056.4,639.3 1055.2,640.8 1054.9,643.3 C1054.5,645.7 1054.4,644.2 1055.9,653.1 C1057.3,662.0 1062.4,689.2 1063.7,696.5"/>
<path d="M1079.5,633.4 L1100.0,644.2"/>
<path d="M945.0,158.8 C940.8,162.3 928.8,171.5 920.0,180.0 C911.2,188.5 902.1,197.1 892.5,210.0 C882.9,222.9 872.1,239.2 862.5,257.5 C852.9,275.8 842.9,298.3 835.0,320.0 C827.1,341.7 819.8,366.7 815.0,387.5 C810.2,408.3 807.5,426.2 806.0,445.0 C804.5,463.8 805.0,484.2 806.0,500.0 C807.0,515.8 808.8,528.8 812.0,540.0 C815.2,551.2 820.2,556.7 825.0,567.0 C829.8,577.3 835.7,591.0 841.0,602.0 C846.3,613.0 854.3,627.8 857.0,633.0"/>
<path d="M1127.8,488.4 C1129.0,490.3 1131.1,496.1 1135.0,500.0 C1138.9,503.9 1142.1,505.3 1151.4,512.0 C1160.7,518.7 1184.4,535.3 1191.0,540.0"/>
<path d="M1105.0,485.0 C1106.2,487.5 1106.2,493.3 1112.5,500.0 C1118.8,506.7 1134.6,518.6 1142.6,525.3 C1150.6,532.0 1157.6,537.5 1160.6,540.0"/>
<path d="M968.1,1339.4 L978.0,1332.0 L1016.2,1335.7 L1016.2,1344.3 L990.3,1353.0Z"/>
<path d="M968.1,1339.4 L975.5,1349.3 L990.3,1353.0"/>
<path d="M990.3,1353.0 L990.3,1366.5"/>
<path d="M1016.2,1344.3 L1016.2,1372.7"/>
<path d="M975.5,1349.3 L976.7,1372.7"/>
<path d="M968.1,1339.4 L969.4,1348.0 L954.6,1367.7"/>
<path d="M952.1,1371.4 L976.7,1389.9 L994.0,1382.5"/>
<path d="M952.1,1371.4 L950.9,1408.4"/>
<path d="M950.9,1408.4 C951.5,1409.8 951.5,1414.7 954.6,1417.0 C957.7,1419.3 964.8,1421.3 969.4,1421.9 C973.9,1422.5 979.6,1420.9 981.7,1420.7"/>
<path d="M981.7,1420.7 L987.8,1418.2 L986.6,1392.4"/>
<path d="M994.0,1382.5 L992.8,1391.1 L987.8,1394.8"/>
<path d="M976.7,1372.7 L984.1,1371.4 L1016.2,1388.7 L1016.2,1401.0"/>
<path d="M979.2,1375.1 L994.0,1382.5"/>
<path d="M1021.1,1365.3 L1038.3,1355.4 L1061.7,1366.5 L1044.5,1377.6Z"/>
<path d="M1061.7,1366.5 L1067.9,1392.4"/>
<path d="M1044.5,1377.6 L1043.3,1401.0"/>
<path d="M1021.1,1365.3 L1034.6,1378.8 L1035.9,1391.1"/>
<path d="M1048.2,1391.1 L1055.6,1386.2 L1070.3,1394.8 L1103.6,1404.7 L1107.3,1410.8 L1103.6,1502.0 L1093.7,1509.4"/>
<path d="M1048.2,1391.1 L1049.4,1397.3 L1060.5,1401.0 L1063.0,1429.3 L1079.0,1429.3 L1103.6,1410.8"/>
<path d="M1079.0,1429.3 L1079.0,1489.7 L1092.5,1482.3 L1093.7,1509.4"/>
<path d="M1059.3,1437.9 L1059.3,1487.2 L1079.0,1489.7"/>
<path d="M1040.8,1403.4 C1042.8,1405.5 1050.0,1412.5 1053.1,1415.8 C1056.2,1419.0 1058.2,1419.5 1059.3,1423.2 C1060.3,1426.8 1059.3,1435.5 1059.3,1437.9"/>
<path d="M912.7,1403.4 L912.7,1415.8 L952.1,1393.6"/>
<path d="M912.7,1415.8 L984.1,1428.1 L991.5,1435.5 L1045.7,1442.9"/>
<path d="M1045.7,1442.9 C1047.4,1442.9 1053.3,1443.7 1055.6,1442.9 C1057.8,1442.0 1058.6,1438.8 1059.3,1437.9"/>
<path d="M994.0,1434.2 L1040.8,1405.9"/>
<path d="M868.4,1392.4 L907.8,1401.0"/>
<path d="M907.8,1401.0 C909.4,1400.8 910.2,1403.4 917.6,1399.8 C925.0,1396.1 946.4,1382.3 952.1,1378.8"/>
<path d="M942.3,1367.7 L954.6,1371.4"/>
<path d="M832.7,1338.2 L838.8,1338.2 L838.8,1332.0"/>
<path d="M838.8,1341.9 L846.2,1341.9 L849.9,1338.2"/>
<path d="M849.9,1338.2 C853.4,1338.4 864.5,1338.2 870.8,1339.4 C877.2,1340.6 882.9,1343.3 888.1,1345.6 C893.2,1347.8 899.4,1351.7 901.6,1353.0"/>
<path d="M901.6,1353.0 L920.1,1346.8 L952.1,1356.7 L953.3,1364.0"/>
<path d="M901.6,1353.0 L854.8,1399.8 L821.6,1482.3 L838.8,1490.9 L845.0,1487.2"/>
<path d="M862.2,1392.4 L863.4,1402.2"/>
<path d="M888.1,1398.5 L845.0,1487.2"/>
<path d="M845.0,1487.2 C847.2,1484.7 853.0,1476.1 858.5,1472.4 C864.1,1468.7 871.7,1466.5 878.2,1465.0 C884.8,1463.6 894.6,1464.0 897.9,1463.8"/>
<path d="M897.9,1463.8 C903.7,1464.8 918.5,1466.9 932.4,1470.0 C946.4,1473.0 965.3,1479.0 981.7,1482.3 C998.1,1485.6 1020.3,1487.8 1030.9,1489.7 C1041.6,1491.5 1043.3,1492.7 1045.7,1493.3"/>
<path d="M1045.7,1493.3 C1047.4,1493.1 1053.3,1493.1 1055.6,1492.1 C1057.8,1491.1 1058.6,1488.0 1059.3,1487.2"/>
<path d="M845.0,1483.5 C848.1,1481.7 857.1,1475.1 863.4,1472.4 C869.8,1469.7 878.2,1468.5 883.2,1467.5 C888.1,1466.5 891.4,1466.5 893.0,1466.3"/>
<path d="M878.2,1477.3 L901.6,1486.0 L901.6,1474.9"/>
<path d="M901.6,1486.0 C904.3,1486.2 912.5,1488.0 917.6,1487.2 C922.8,1486.4 930.0,1482.1 932.4,1481.0"/>
<path d="M902.9,1472.4 L1093.7,1509.4"/>
<path d="M760.0,1304.9 L767.4,1307.4 L774.8,1303.7 L838.8,1332.0"/>
<path d="M760.0,1324.6 L809.3,1345.6 L863.4,1378.8"/>
<path d="M760.0,1336.9 L804.3,1356.7 L856.1,1386.2"/>
<path d="M760.0,1350.5 L776.0,1357.9 L774.8,1442.9"/>
<path d="M784.6,1366.5 L780.9,1447.8"/>
<path d="M784.6,1366.5 L846.2,1381.3"/>
<path d="M776.0,1357.9 L829.0,1378.8 L846.2,1380.0"/>
<path d="M829.0,1381.3 L806.8,1442.9"/>
<path d="M845.0,1382.5 L820.3,1445.3"/>
<path d="M789.6,1447.8 C790.4,1447.0 791.2,1443.7 794.5,1442.9 C797.8,1442.0 804.7,1442.4 809.3,1442.9 C813.8,1443.3 818.1,1444.1 821.6,1445.3 C825.1,1446.6 828.8,1449.4 830.2,1450.2"/>
<path d="M760.0,1435.5 L779.7,1449.0 L789.6,1451.5 L826.5,1462.6"/>
<path d="M1475.7,1040.0 L1475.7,1147.3 L1482.1,1153.8"/>
<path d="M1484.7,1040.0 L1484.7,1089.1"/>
<path d="M1484.7,1089.1 C1486.2,1090.6 1489.7,1096.7 1493.8,1098.2 C1497.9,1099.7 1505.4,1099.5 1509.3,1098.2 C1513.2,1096.9 1515.8,1091.7 1517.1,1090.4"/>
<path d="M1517.1,1040.0 L1517.1,1104.6"/>
<path d="M1528.7,1040.0 L1528.7,1091.7"/>
<path d="M1480.9,1120.2 L1480.9,1153.8"/>
<path d="M1480.9,1120.2 C1482.1,1121.7 1484.7,1127.7 1488.6,1129.2 C1492.5,1130.7 1500.5,1129.9 1504.1,1129.2 C1507.8,1128.6 1509.5,1126.0 1510.6,1125.3"/>
<path d="M1480.9,1153.8 C1481.7,1155.1 1484.1,1160.0 1486.0,1161.5 C1488.0,1163.0 1491.4,1162.6 1492.5,1162.8"/>
<path d="M1528.7,1091.7 L1492.5,1164.1 L1491.2,1218.4"/>
<path d="M1486.0,1164.1 L1486.0,1184.8 L1477.0,1180.9 L1473.1,1183.5 L1473.1,1200.3 L1491.2,1210.7"/>
<path d="M1528.7,1091.7 L1540.3,1096.9"/>
<path d="M1497.7,1182.2 L1506.7,1187.4 L1506.7,1199.0"/>
<path d="M1493.8,1201.6 L1506.7,1208.1"/>
<path d="M1548.1,1040.0 L1548.1,1102.1"/>
<path d="M1548.1,1102.1 C1548.5,1103.1 1549.0,1107.2 1550.7,1108.5 C1552.4,1109.8 1557.1,1109.6 1558.4,1109.8"/>
<path d="M1558.4,1109.8 L1571.4,1105.9"/>
<path d="M1571.4,1040.0 L1571.4,1115.0"/>
<path d="M1571.4,1115.0 C1570.5,1118.0 1568.1,1127.5 1566.2,1133.1 C1564.3,1138.7 1560.8,1143.4 1559.7,1148.6 C1558.6,1153.8 1559.3,1159.6 1559.7,1164.1 C1560.2,1168.7 1561.9,1173.8 1562.3,1175.8"/>
<path d="M1505.4,1151.2 L1550.7,1178.4"/>
<path d="M1380.0,1148.6 L1467.9,1197.7"/>
<path d="M1545.5,1232.7 L1553.3,1235.2 L1553.3,1262.4"/>
<path d="M1524.8,1245.6 L1553.3,1262.4"/>
<path d="M1506.7,1257.2 L1548.1,1280.5 L1552.0,1274.0 L1571.4,1285.7 L1571.4,1292.1"/>
<path d="M1571.4,1292.1 C1572.0,1292.8 1573.7,1295.6 1575.2,1296.0 C1576.8,1296.4 1579.6,1294.9 1580.4,1294.7"/>
<path d="M1580.4,1294.7 L1658.0,1261.1"/>
<path d="M1658.0,1261.1 C1658.6,1260.5 1661.0,1259.6 1661.9,1257.2 C1662.7,1254.9 1662.9,1248.6 1663.2,1246.9"/>
<path d="M1663.2,1246.9 L1685.1,1155.1"/>
<path d="M1577.8,1261.1 L1577.8,1285.7"/>
<path d="M1561.0,1205.5 C1561.9,1202.9 1562.3,1194.3 1566.2,1190.0 C1570.1,1185.7 1578.9,1181.6 1584.3,1179.6 C1589.7,1177.7 1596.1,1178.6 1598.5,1178.4"/>
<path d="M1598.5,1178.4 C1600.5,1179.4 1607.1,1182.0 1610.2,1184.8 C1613.2,1187.6 1615.3,1191.7 1616.6,1195.2 C1617.9,1198.6 1617.7,1203.8 1617.9,1205.5"/>
<path d="M1617.9,1205.5 L1616.6,1231.4"/>
<path d="M1616.6,1231.4 C1616.4,1232.2 1616.4,1235.2 1615.3,1236.5 C1614.2,1237.8 1611.0,1238.7 1610.2,1239.1"/>
<path d="M1610.2,1239.1 L1583.0,1255.9"/>
<path d="M1583.0,1255.9 C1581.1,1255.9 1574.8,1257.0 1571.4,1255.9 C1567.9,1254.9 1564.3,1252.3 1562.3,1249.5 C1560.4,1246.7 1560.2,1240.8 1559.7,1239.1"/>
<path d="M1559.7,1239.1 L1558.4,1226.2"/>
<path d="M1597.2,1205.5 L1597.2,1222.3 L1564.9,1241.7"/>
<path d="M1597.2,1222.3 L1612.7,1231.4"/>
<path d="M1686.4,1117.6 L1570.1,1178.4"/>
<path d="M1561.0,1186.1 L1545.5,1195.2"/>
<path d="M1532.6,1202.9 L1422.7,1266.3"/>
<path d="M1408.4,1274.0 L1392.9,1283.1"/>
<path d="M1726.5,1118.9 L1621.8,1179.6"/>
<path d="M1607.6,1188.7 L1594.6,1196.5"/>
<path d="M1579.1,1205.5 L1469.2,1268.9"/>
<path d="M1455.0,1276.6 L1439.5,1285.7"/>
<path d="M1426.5,1293.4 L1380.0,1318.0"/>
<path d="M1570.1,1164.1 L1654.1,1121.5"/>
<path d="M1621.8,1195.2 L1677.4,1164.1"/>
<path d="M1531.3,1222.3 L1523.5,1218.4"/>
<path d="M1509.3,1235.2 L1501.5,1231.4"/>
<path d="M1486.0,1248.2 L1478.3,1244.3"/>
<path d="M1656.7,1043.9 L1656.7,1094.3 L1624.4,1111.1 L1669.6,1116.3"/>
<path d="M1656.7,1094.3 L1690.3,1112.4"/>
<path d="M1685.1,1046.5 L1685.1,1071.0"/>
<path d="M1685.1,1071.0 C1685.8,1073.2 1686.4,1080.5 1689.0,1084.0 C1691.6,1087.4 1698.7,1090.4 1700.7,1091.7"/>
<path d="M1700.7,1091.7 L1734.3,1103.4 L1738.2,1100.8 L1738.2,1050.3"/>
<path d="M1694.2,1046.5 L1694.2,1064.6"/>
<path d="M1694.2,1064.6 C1694.6,1065.6 1695.3,1069.5 1696.8,1071.0 C1698.3,1072.5 1702.2,1073.2 1703.2,1073.6"/>
<path d="M1703.2,1073.6 L1734.3,1086.5"/>
<path d="M1700.7,1067.2 L1738.2,1050.3"/>
<ellipse cx="1684.6" cy="1088.6" rx="3.6" ry="6.2" transform="rotate(-25.0 1684.6 1088.6)"/>
<ellipse cx="1708.4" cy="1105.9" rx="5.7" ry="7.2" transform="rotate(0.0 1708.4 1105.9)"/>
<path d="M1704.5,1100.8 L1686.4,1113.7"/>
<path d="M1712.3,1112.4 L1694.2,1122.8"/>
<path d="M1686.4,1113.7 C1686.0,1114.3 1683.9,1116.2 1683.9,1117.6 C1683.9,1119.0 1684.9,1121.3 1686.4,1122.2 C1687.9,1123.2 1691.8,1123.1 1692.9,1123.3"/>
<path d="M1674.8,1130.5 L1680.0,1137.0"/>
<ellipse cx="1730.4" cy="1117.6" rx="3.6" ry="5.7" transform="rotate(-25.0 1730.4 1117.6)"/>
<path d="M1752.4,1068.4 L1752.4,1147.3"/>
<path d="M1773.1,1078.8 C1773.3,1085.3 1773.5,1107.2 1774.4,1117.6 C1775.2,1127.9 1777.6,1137.0 1778.2,1140.9"/>
<path d="M1739.5,1062.0 L1800.0,1087.8"/>
<path d="M1698.1,1146.0 L1747.2,1148.6 L1752.4,1155.1 L1773.1,1153.8 L1778.2,1140.9"/>
<path d="M1723.9,1133.1 L1752.4,1146.0"/>
<path d="M554.0,1078.4 L563.6,1070.3 L572.1,1078.4 L572.1,1093.2 L564.3,1102.1 L554.7,1094.7Z"/>
<ellipse cx="563.6" cy="1086.6" rx="5.5" ry="7.8" transform="rotate(0.0 563.6 1086.6)"/>
<path d="M563.6,1070.3 L568.0,1070.7 L573.2,1066.2"/>
<path d="M568.0,1072.5 L576.9,1077.0 L582.5,1077.7 L582.5,1095.4 L576.9,1096.2 L568.8,1099.9"/>
<path d="M572.1,1078.4 L574.7,1080.3 L581.7,1080.3 L581.7,1092.8 L574.7,1093.2 L572.1,1093.2"/>
<path d="M564.3,1102.1 L568.8,1103.6"/>
<path d="M573.2,1072.5 L581.3,1077.3"/>
<path d="M574.0,1096.9 L581.3,1095.4"/>
<path d="M573.2,1066.2 C574.2,1066.2 577.2,1065.2 579.1,1065.9 C581.1,1066.5 583.4,1067.7 585.0,1070.3 C586.6,1072.9 588.0,1077.8 588.7,1081.4 C589.5,1085.0 590.1,1088.4 589.5,1091.7 C588.9,1095.1 586.9,1099.0 585.0,1101.3 C583.2,1103.7 580.4,1105.0 578.4,1105.8 C576.4,1106.6 574.8,1106.5 573.2,1106.1 C571.6,1105.8 569.5,1104.0 568.8,1103.6"/>
<path d="M574.7,1069.2 C575.8,1069.5 579.4,1069.5 581.3,1071.0 C583.3,1072.6 585.2,1075.6 586.1,1078.4 C587.1,1081.3 587.2,1084.7 586.9,1088.0 C586.6,1091.4 585.7,1095.9 584.3,1098.4 C582.9,1100.9 580.1,1102.0 578.4,1102.8 C576.7,1103.7 574.7,1103.4 574.0,1103.6"/>
<path d="M1330.4,1055.9 L1402.3,1015.0"/>
<path d="M1402.3,1015.0 C1402.9,1014.0 1404.9,1011.3 1405.8,1009.1 C1406.8,1007.0 1407.2,1003.8 1408.2,1002.1 C1409.1,1000.5 1411.1,999.7 1411.7,999.2"/>
<path d="M1411.7,999.2 C1412.9,998.3 1416.2,995.0 1418.7,993.9 C1421.2,992.9 1424.7,992.4 1426.9,992.8 C1429.0,993.2 1430.8,995.7 1431.6,996.3"/>
<path d="M1431.6,996.3 C1432.7,997.6 1437.1,1001.3 1438.6,1004.5 C1440.1,1007.6 1440.7,1011.9 1440.3,1015.0 C1440.0,1018.1 1436.9,1021.8 1436.3,1023.2"/>
<path d="M1436.3,1023.2 L1404.1,1072.3"/>
<path d="M1404.1,1072.3 C1403.4,1073.5 1401.4,1077.6 1400.0,1079.3 C1398.5,1081.1 1396.1,1082.3 1395.3,1082.9"/>
<path d="M1395.3,1082.9 L1373.7,1095.7"/>
<ellipse cx="1422.2" cy="1011.5" rx="4.7" ry="11.1" transform="rotate(-20.0 1422.2 1011.5)"/>
<path d="M1416.4,1015.0 L1410.5,1026.7 L1394.1,1041.9"/>
<path d="M1424.0,1022.0 L1399.4,1064.1"/>
<path d="M1399.4,1064.1 C1398.7,1064.9 1396.8,1067.6 1395.3,1068.8 C1393.8,1070.0 1392.4,1070.3 1390.6,1071.2 C1388.9,1072.0 1385.7,1073.6 1384.8,1074.1"/>
<path d="M1384.8,1074.1 L1374.2,1080.5"/>
<path d="M1374.2,1037.8 L1407.0,1047.8"/>
<path d="M1359.6,1043.7 L1396.5,1064.7"/>
<path d="M1343.2,1050.1 L1353.8,1055.9"/>
<path d="M1369.6,1065.9 L1383.6,1074.1"/>
<path d="M1359.6,1072.3 L1374.2,1080.5"/>
<path d="M1330.4,1055.9 L1331.0,1061.8 L1355.5,1078.2 L1374.2,1081.7"/>
<path d="M1334.5,1055.9 L1343.8,1060.6"/>
<ellipse cx="1356.7" cy="1063.5" rx="12.3" ry="6.4" transform="rotate(0.0 1356.7 1063.5)"/>
<ellipse cx="1356.7" cy="1063.5" rx="4.7" ry="2.1" transform="rotate(0.0 1356.7 1063.5)"/>
<path d="M1333.9,1065.9 L1333.9,1084.0 L1342.1,1092.2 L1359.0,1081.7"/>
<path d="M1373.7,1081.7 L1373.7,1095.7"/>
<path d="M1342.1,1092.2 L1357.9,1094.6 L1367.2,1102.2 L1370.7,1103.3"/>
<path d="M1318.1,1082.9 L1328.6,1089.9 L1332.1,1094.6 L1336.8,1096.3 L1342.1,1093.4"/>
<path d="M1321.6,1078.2 L1333.3,1084.0"/>
<path d="M1306.4,1060.0 L1312.8,1057.1 L1314.6,1050.1 L1330.4,1057.1"/>
<path d="M1312.8,1057.1 L1312.2,1066.5 L1315.2,1066.5"/>
<path d="M1315.2,1064.1 L1325.1,1067.6 L1326.3,1074.1 L1321.6,1075.2"/>
<path d="M1290.0,1088.7 L1321.0,1070.6"/>
<path d="M1370.7,1103.3 L1394.1,1100.4 L1409.3,1099.2"/>
<path d="M1404.1,1072.3 L1418.7,1071.7 L1432.7,1079.3 L1433.3,1091.6"/>
<path d="M1393.5,1086.9 L1425.7,1080.5"/>
<path d="M1403.5,1096.9 L1428.6,1083.4"/>
<path d="M1394.7,1102.2 L1402.3,1110.9 L1408.2,1113.3 L1414.0,1116.2"/>
<path d="M1409.3,1099.2 L1414.0,1105.1 L1411.7,1114.4"/>
<path d="M1433.3,1091.6 L1453.2,1102.2 L1453.2,1110.9 L1431.0,1123.2 L1429.8,1114.4 L1415.2,1106.3 L1433.3,1091.6"/>
<ellipse cx="1433.0" cy="1106.0" rx="5.3" ry="2.9" transform="rotate(0.0 1433.0 1106.0)"/>
<path d="M672.4,1520.0 L706.7,1549.4 L706.7,1767.7 L739.9,1797.1 L706.7,1825.3 L706.7,2030.1 L672.4,2059.5"/>
<path d="M595.2,1566.1 L640.5,1591.1"/>
<path d="M585.4,1586.2 L627.1,1609.5"/>
<path d="M595.2,1566.1 C593.5,1567.3 587.0,1570.1 585.4,1573.5 C583.7,1576.8 585.4,1584.1 585.4,1586.2"/>
<path d="M600.8,1569.3 C599.3,1570.6 593.5,1573.8 591.7,1577.1 C590.0,1580.4 590.7,1587.1 590.5,1589.2"/>
<path d="M606.5,1572.5 C604.9,1573.7 599.1,1576.8 597.4,1580.1 C595.6,1583.3 596.2,1590.1 595.9,1592.1"/>
<path d="M612.1,1575.4 C610.5,1576.7 604.6,1579.8 602.8,1583.0 C600.9,1586.3 601.3,1593.0 601.1,1595.0"/>
<path d="M618.0,1578.6 C616.3,1579.9 610.1,1583.0 608.2,1586.2 C606.2,1589.4 606.5,1596.0 606.2,1598.0"/>
<path d="M623.6,1581.8 C621.9,1583.0 615.6,1586.0 613.6,1589.2 C611.5,1592.3 611.7,1598.8 611.4,1600.7"/>
<path d="M629.3,1584.7 C627.5,1586.0 621.1,1588.9 619.0,1592.1 C616.8,1595.2 616.9,1601.7 616.5,1603.6"/>
<path d="M634.9,1587.9 C633.2,1589.1 626.8,1591.9 624.6,1595.0 C622.4,1598.1 622.4,1604.6 621.9,1606.6"/>
<ellipse cx="640.5" cy="1609.5" rx="13.5" ry="24.5" transform="rotate(12.0 640.5 1609.5)"/>
<path d="M647.9,1585.7 C650.3,1585.5 658.3,1582.9 662.6,1584.2 C666.9,1585.6 671.2,1589.2 673.6,1593.6 C676.1,1598.0 677.3,1605.0 677.3,1610.7 C677.3,1616.5 676.3,1623.3 673.6,1627.9 C671.0,1632.5 665.5,1636.6 661.4,1638.2 C657.3,1639.7 651.2,1637.4 649.1,1637.2"/>
<path d="M634.4,1616.9 L649.1,1594.8 L668.7,1593.6"/>
<path d="M649.1,1594.8 L652.8,1609.5 L650.3,1624.2"/>
<path d="M634.4,1616.9 L650.3,1624.2 L651.6,1636.5"/>
<path d="M652.8,1609.5 L673.6,1608.3"/>
<path d="M603.8,1637.7 L647.9,1662.2"/>
<path d="M594.4,1657.8 L638.1,1680.6"/>
<path d="M603.8,1637.7 C602.2,1638.9 595.7,1641.7 594.2,1645.1 C592.6,1648.4 594.4,1655.7 594.4,1657.8"/>
<path d="M610.1,1641.1 C608.7,1642.4 603.1,1645.7 601.5,1649.0 C600.0,1652.3 600.7,1659.0 600.6,1661.0"/>
<path d="M616.3,1644.8 C614.8,1646.1 609.2,1649.1 607.7,1652.4 C606.1,1655.7 607.1,1662.4 606.9,1664.4"/>
<path d="M622.6,1648.2 C621.2,1649.5 615.6,1652.6 614.1,1655.9 C612.5,1659.1 613.2,1665.7 613.1,1667.6"/>
<path d="M629.0,1651.7 C627.6,1652.9 622.0,1655.9 620.4,1659.0 C618.8,1662.2 619.6,1668.8 619.5,1670.8"/>
<path d="M635.4,1655.1 C633.9,1656.3 628.2,1659.3 626.6,1662.5 C624.9,1665.6 625.7,1672.1 625.6,1674.0"/>
<path d="M641.5,1658.8 C640.1,1660.0 634.5,1662.8 632.9,1665.9 C631.3,1669.0 632.1,1675.5 632.0,1677.4"/>
<ellipse cx="658.9" cy="1680.6" rx="19.6" ry="25.0" transform="rotate(15.0 658.9 1680.6)"/>
<ellipse cx="662.6" cy="1683.1" rx="14.2" ry="19.1" transform="rotate(15.0 662.6 1683.1)"/>
<path d="M644.2,1663.5 C643.1,1666.1 638.2,1673.9 637.6,1679.4 C637.0,1684.9 638.4,1692.4 640.5,1696.6 C642.7,1700.7 648.7,1703.1 650.3,1704.4"/>
<path d="M667.5,1679.4 L670.0,1683.1 L673.6,1683.8 L671.2,1687.2 L672.4,1691.7 L668.7,1690.4 L665.1,1694.1 L664.6,1689.2 L661.4,1687.2 L665.1,1684.8Z"/>
<path d="M570.7,1683.1 L645.4,1727.2"/>
<path d="M563.3,1697.8 L638.1,1741.9"/>
<path d="M570.7,1683.1 C569.4,1683.9 564.3,1685.8 563.1,1688.2 C561.8,1690.7 563.3,1696.2 563.3,1697.8"/>
<path d="M576.3,1686.5 C575.2,1687.4 570.9,1689.7 569.7,1692.1 C568.4,1694.6 569.1,1699.7 568.9,1701.2"/>
<path d="M582.2,1689.9 C581.1,1690.9 576.8,1693.1 575.6,1695.6 C574.3,1698.0 574.9,1703.1 574.8,1704.6"/>
<path d="M587.8,1693.4 C586.7,1694.3 582.4,1696.3 581.2,1698.8 C580.0,1701.2 580.6,1706.5 580.5,1708.1"/>
<path d="M593.7,1696.6 C592.6,1697.5 588.3,1699.7 587.1,1702.2 C585.9,1704.6 586.5,1709.8 586.3,1711.3"/>
<path d="M599.3,1700.0 C598.2,1700.9 593.9,1703.2 592.7,1705.6 C591.5,1708.1 592.1,1713.2 592.0,1714.7"/>
<path d="M605.2,1703.4 C604.1,1704.4 599.8,1706.6 598.6,1709.1 C597.4,1711.5 598.0,1716.6 597.9,1718.1"/>
<path d="M610.9,1706.9 C609.8,1707.8 605.5,1710.0 604.2,1712.5 C603.0,1714.9 603.6,1720.1 603.5,1721.6"/>
<path d="M616.8,1710.3 C615.6,1711.2 611.4,1713.5 610.1,1715.9 C608.9,1718.4 609.5,1723.5 609.4,1725.0"/>
<path d="M622.4,1713.7 C621.3,1714.6 617.0,1716.7 615.8,1719.1 C614.5,1721.6 615.2,1726.9 615.0,1728.4"/>
<path d="M628.3,1716.9 C627.2,1717.9 622.9,1720.1 621.7,1722.6 C620.4,1725.0 621.0,1730.1 620.9,1731.6"/>
<path d="M633.9,1720.3 C632.8,1721.3 628.5,1723.5 627.3,1726.0 C626.1,1728.4 626.7,1733.5 626.6,1735.1"/>
<path d="M639.8,1723.8 C638.7,1724.7 634.2,1727.0 632.9,1729.4 C631.7,1731.9 632.5,1737.0 632.4,1738.5"/>
<ellipse cx="657.7" cy="1740.7" rx="19.1" ry="23.3" transform="rotate(15.0 657.7 1740.7)"/>
<path d="M657.7,1735.8 L665.1,1733.3 L670.0,1738.2 L668.0,1749.3 L660.6,1753.0 L655.3,1746.8Z"/>
<path d="M607.4,1759.1 L645.4,1779.9"/>
<path d="M598.4,1775.5 L636.9,1797.1"/>
<path d="M607.4,1759.1 C605.8,1760.0 599.4,1761.7 597.9,1764.5 C596.4,1767.2 598.3,1773.7 598.4,1775.5"/>
<path d="M613.8,1762.5 C612.4,1763.5 607.0,1765.9 605.5,1768.7 C604.0,1771.4 604.9,1777.4 604.7,1779.2"/>
<path d="M620.2,1766.0 C618.8,1767.0 613.4,1769.6 611.8,1772.3 C610.3,1775.1 611.2,1780.9 611.1,1782.6"/>
<path d="M626.3,1769.6 C625.0,1770.7 619.7,1773.0 618.2,1775.8 C616.8,1778.5 617.6,1784.5 617.5,1786.3"/>
<path d="M632.7,1773.1 C631.3,1774.1 626.0,1776.6 624.6,1779.4 C623.2,1782.3 624.2,1788.2 624.1,1790.0"/>
<path d="M639.1,1776.5 C637.7,1777.6 632.4,1780.1 631.0,1782.9 C629.5,1785.7 630.6,1791.7 630.5,1793.4"/>
<ellipse cx="656.5" cy="1797.1" rx="19.6" ry="25.0" transform="rotate(15.0 656.5 1797.1)"/>
<ellipse cx="660.2" cy="1799.5" rx="14.2" ry="19.1" transform="rotate(15.0 660.2 1799.5)"/>
<path d="M641.8,1781.2 C640.7,1783.8 635.8,1791.8 635.1,1797.1 C634.5,1802.4 636.0,1809.0 638.1,1813.0 C640.2,1817.0 646.3,1819.8 647.9,1821.1"/>
<path d="M665.6,1795.9 L668.0,1799.5 L671.7,1800.3 L669.2,1803.7 L670.5,1808.1 L666.8,1806.9 L663.1,1810.6 L662.6,1805.7 L659.4,1803.7 L663.1,1801.3Z"/>
<path d="M576.8,1803.2 L582.9,1802.0 L611.1,1817.9"/>
<path d="M570.7,1813.0 L605.0,1832.7"/>
<path d="M576.8,1803.2 C575.8,1803.4 572.0,1803.4 570.7,1804.5 C569.3,1805.5 568.9,1807.9 568.9,1809.4 C568.9,1810.8 570.4,1812.4 570.7,1813.0"/>
<ellipse cx="613.6" cy="1830.2" rx="12.3" ry="18.4" transform="rotate(20.0 613.6 1830.2)"/>
<path d="M613.6,1830.2 L676.1,1863.3"/>
<path d="M612.3,1835.1 L673.6,1867.0 L676.1,1863.3"/>
<path d="M578.0,1804.5 L576.8,1815.5"/>
<path d="M597.6,1876.8 L630.7,1864.5 L661.4,1873.1 L633.2,1882.9Z"/>
<path d="M661.4,1873.1 L661.4,1889.1 L655.3,1894.0 L638.1,1892.7"/>
<path d="M590.3,1896.4 L606.2,1885.4 L619.7,1903.8"/>
<path d="M590.3,1896.4 L619.7,1903.8 L638.1,1902.5 L638.1,1885.4"/>
<path d="M620.9,1873.1 L645.4,1870.7 L650.3,1878.0 L628.3,1882.9Z"/>
<path d="M633.2,1882.9 L633.2,1902.5"/>
<path d="M601.3,1892.7 L613.6,1895.2 L608.7,1902.5 L598.9,1900.1"/>
<path d="M606.2,1885.4 L620.9,1880.5"/>
<path d="M613.6,1875.6 L643.0,1875.6"/>
<path d="M618.5,1878.0 L647.9,1874.3"/>
<path d="M624.6,1887.8 L638.1,1890.3"/>
<path d="M623.4,1882.9 L624.6,1897.6"/>
<path d="M613.6,1913.6 L620.9,1912.3 L630.7,1914.8 L647.9,1924.6"/>
<path d="M613.6,1913.6 L612.3,1924.6 L614.8,1934.4 L638.1,1946.7"/>
<path d="M618.5,1918.5 L624.6,1934.4"/>
<path d="M630.7,1914.8 L634.4,1932.0 L638.1,1946.7"/>
<path d="M618.5,1918.5 L630.7,1915.3"/>
<path d="M624.6,1934.4 L634.4,1932.0"/>
<ellipse cx="659.4" cy="1944.2" rx="19.1" ry="23.3" transform="rotate(15.0 659.4 1944.2)"/>
<ellipse cx="662.6" cy="1946.7" rx="11.0" ry="14.2" transform="rotate(15.0 662.6 1946.7)"/>
<ellipse cx="663.8" cy="1947.9" rx="5.4" ry="7.4" transform="rotate(15.0 663.8 1947.9)"/>
<path d="M645.4,1925.8 C644.4,1927.7 640.1,1932.6 639.3,1936.9 C638.5,1941.2 639.1,1947.5 640.5,1951.6 C642.0,1955.7 646.7,1959.8 647.9,1961.4"/>
<path d="M616.0,1976.1 L619.7,1973.7 L638.1,1978.6"/>
<path d="M616.0,1976.1 C615.6,1976.9 613.6,1979.2 613.6,1981.0 C613.6,1982.8 615.6,1986.1 616.0,1987.1"/>
<path d="M616.0,1987.1 L634.4,1993.3"/>
<path d="M627.1,1965.1 L632.0,1963.8 L643.0,1973.7"/>
<path d="M627.1,1965.1 L630.7,1976.1"/>
<path d="M632.0,1963.8 L636.9,1976.1"/>
<ellipse cx="649.1" cy="1992.0" rx="12.3" ry="20.8" transform="rotate(20.0 649.1 1992.0)"/>
<path d="M651.6,1983.5 L657.7,1983.0 L676.1,1992.0"/>
<path d="M655.3,2004.3 L670.0,2010.4"/>
<ellipse cx="672.4" cy="2001.1" rx="4.4" ry="9.3" transform="rotate(15.0 672.4 2001.1)"/>
<path d="M624.6,1981.0 L635.6,1973.7"/>
<path d="M1096.5,1869.5 L1127.9,1833.2 L1253.5,1833.2 L1284.1,1797.4 L1315.2,1833.2 L1441.9,1833.2 L1473.3,1867.6"/>
<path d="M1166.6,1851.0 L1166.6,1971.1"/>
<path d="M921.0,1524.0 C918.2,1529.2 909.0,1540.9 904.3,1555.4 C899.7,1569.9 896.3,1592.4 893.3,1610.8 C890.2,1629.3 887.7,1647.8 885.9,1666.3 C884.0,1684.7 882.8,1703.2 882.2,1721.7 C881.6,1740.1 880.9,1758.6 882.2,1777.1 C883.4,1795.6 887.1,1811.0 889.6,1832.5 C892.0,1854.1 894.5,1878.5 896.9,1906.4 C899.4,1934.3 903.1,1984.3 904.3,1999.9"/>
<path d="M921.0,1524.0 C918.8,1531.1 911.4,1552.0 908.0,1566.5 C904.6,1581.0 902.2,1597.3 900.6,1610.8 C899.1,1624.4 898.2,1635.5 898.8,1647.8 C899.4,1660.1 900.9,1669.3 904.3,1684.7 C907.7,1700.1 913.0,1722.9 919.1,1740.1 C925.3,1757.4 933.9,1774.0 941.3,1788.2 C948.7,1802.3 959.8,1819.0 963.4,1825.1"/>
<path d="M928.3,1533.3 C926.2,1540.0 918.2,1559.1 915.4,1573.9 C912.6,1588.7 912.0,1608.4 911.7,1621.9 C911.4,1635.5 911.7,1643.5 913.6,1655.2 C915.4,1666.9 917.6,1676.1 922.8,1692.1 C928.0,1708.1 937.6,1734.0 945.0,1751.2 C952.4,1768.5 963.4,1788.2 967.1,1795.6"/>
<path d="M921.0,1524.0 C921.6,1523.4 923.1,1520.3 924.7,1520.3 C926.2,1520.3 929.6,1521.9 930.2,1524.0 C930.8,1526.2 928.7,1531.7 928.3,1533.3"/>
<path d="M928.3,1533.3 L924.7,1548.0 L924.7,1562.8 L932.0,1568.3 L933.9,1590.5 L915.4,1599.8"/>
<path d="M915.4,1572.0 L932.0,1568.3"/>
<path d="M915.4,1572.0 L915.4,1599.8"/>
<path d="M928.3,1597.9 L922.8,1647.8"/>
<path d="M915.4,1599.8 L915.4,1618.2 L918.4,1620.1 L915.4,1627.5 L911.7,1633.0 L919.1,1647.8 L922.8,1658.9 L921.0,1662.6 L924.7,1669.9 L924.7,1684.7"/>
<path d="M928.3,1677.3 L945.0,1668.1 L967.1,1647.8 L974.5,1650.7 L974.5,1684.7"/>
<path d="M957.9,1682.9 C958.5,1680.4 959.8,1672.1 961.6,1668.1 C963.4,1664.1 967.8,1660.4 969.0,1658.9"/>
<path d="M924.7,1695.8 L948.7,1692.1 L969.0,1682.9 L998.5,1699.5 L987.5,1714.3 L976.4,1712.4"/>
<path d="M948.7,1692.1 L978.2,1712.4 L945.0,1729.1"/>
<path d="M998.5,1699.5 L996.7,1706.9 L945.0,1747.5"/>
<path d="M954.2,1747.5 L954.2,1769.7"/>
<path d="M976.4,1721.7 C976.7,1727.8 976.1,1748.1 978.2,1758.6 C980.4,1769.1 985.3,1778.9 989.3,1784.5 C993.3,1790.0 1000.1,1790.6 1002.2,1791.9"/>
<path d="M1002.2,1791.9 C1000.7,1793.1 997.0,1798.3 993.0,1799.3 C989.0,1800.2 981.9,1799.3 978.2,1797.4 C974.5,1795.6 972.1,1789.7 970.8,1788.2"/>
<path d="M970.8,1788.2 C970.8,1786.3 969.0,1779.6 970.8,1777.1 C972.7,1774.6 977.6,1775.2 981.9,1773.4 C986.2,1771.5 992.7,1769.1 996.7,1766.0 C1000.7,1762.9 1003.2,1758.6 1005.9,1754.9 C1008.7,1751.2 1012.1,1745.7 1013.3,1743.8"/>
<path d="M1013.3,1743.8 L1072.4,1718.0 L1074.3,1708.7"/>
<path d="M1074.3,1708.7 C1074.9,1707.5 1075.5,1702.3 1078.0,1701.4 C1080.4,1700.4 1086.6,1701.0 1089.1,1703.2 C1091.5,1705.4 1092.1,1712.4 1092.8,1714.3"/>
<path d="M1092.8,1714.3 L1092.8,1732.8 L1113.1,1738.3 L1044.7,1778.9 L1033.6,1808.5"/>
<ellipse cx="1082.4" cy="1716.1" rx="4.4" ry="7.4" transform="rotate(-25.0 1082.4 1716.1)"/>
<path d="M1024.4,1743.8 L1054.0,1753.1 L1092.8,1732.8"/>
<path d="M1054.0,1753.1 L1042.9,1778.9"/>
<path d="M1013.3,1749.4 L1044.7,1778.9"/>
<path d="M998.5,1767.9 L1031.8,1810.3 L1004.1,1821.4 L989.3,1801.1"/>
<path d="M1007.8,1775.2 L1022.6,1795.6"/>
<path d="M1004.1,1821.4 L1000.4,1869.5 L998.5,1924.9 L1007.8,1999.9"/>
<path d="M1031.8,1810.3 L1028.1,1817.7 L1033.6,1825.1 L1031.8,1836.2 L1018.9,1849.1 L1013.3,1876.8"/>
<path d="M1013.3,1876.8 L1007.8,1887.9 L1009.6,1943.3 L1015.2,1999.9"/>
<path d="M969.0,1799.3 L967.1,1869.5 L970.8,1943.3 L985.6,1999.9"/>
<path d="M969.0,1832.5 L994.9,1860.2 L1000.4,1860.2"/>
<path d="M889.6,1832.5 L895.1,1869.5 L898.8,1999.9"/>
<path d="M895.1,1880.5 C895.7,1878.7 896.9,1871.6 898.8,1869.5 C900.6,1867.3 905.0,1867.9 906.2,1867.6"/>
<path d="M895.1,1869.5 C898.5,1875.6 905.9,1892.2 915.4,1906.4 C925.0,1920.6 941.3,1941.5 952.4,1954.4 C963.4,1967.4 977.0,1979.1 981.9,1984.0"/>
<path d="M896.9,1917.5 C898.8,1923.0 901.9,1937.0 908.0,1950.7 C914.2,1964.5 929.6,1991.7 933.9,1999.9"/>
<path d="M896.9,1928.6 C898.2,1934.1 900.6,1949.9 904.3,1961.8 C908.0,1973.7 916.6,1993.5 919.1,1999.9"/>
<path d="M1013.3,1876.8 L1072.4,1908.2 L1199.9,1999.9"/>
<path d="M1009.6,1891.6 L1066.9,1936.0 L1166.6,1999.9"/>
<path d="M1066.9,1936.0 L1057.7,1999.9"/>
<path d="M1072.4,1937.8 L1066.9,1999.9"/>
<path d="M1087.2,1952.6 L1083.5,1999.9"/>
<path d="M1126.0,1976.6 L1124.2,1999.9"/>
<path d="M1137.1,1984.0 L1136.4,1999.9"/>
<path d="M1018.9,1919.3 L1039.2,1930.4 L1039.2,1936.0"/>
<path d="M1092.8,1974.7 L1111.2,1980.3 L1111.2,1985.8"/>
<path d="M1397.2,1696.4 L1463.7,1663.3 L1530.2,1698.8 L1533.7,1718.5 L1535.2,1745.6 L1542.6,1749.1"/>
<path d="M1397.2,1696.4 L1429.3,1740.7 L1458.8,1772.7"/>
<path d="M1458.8,1772.7 L1458.8,1787.5 L1476.1,1796.4 L1485.9,1790.0 L1485.9,1780.1"/>
<path d="M1458.8,1772.7 L1530.2,1716.1"/>
<path d="M1476.1,1796.4 L1476.1,1780.1 L1458.8,1772.7"/>
<path d="M1476.1,1780.1 L1542.6,1749.1"/>
<path d="M1492.3,1767.8 L1533.7,1747.1"/>
<path d="M1420.4,1710.1 L1467.7,1675.7 L1473.6,1679.1 L1473.6,1698.8 L1500.7,1693.9 L1463.7,1721.0 L1444.0,1718.5 L1438.1,1724.4Z"/>
<path d="M1434.2,1701.3 L1440.1,1716.1 L1473.6,1698.8"/>
<path d="M1542.6,1749.1 L1574.6,1735.8 L1586.9,1725.9 L2016.9,1972.2 L2015.5,1984.5"/>
<path d="M1574.6,1735.8 L1998.2,1987.0 L2015.5,1984.5"/>
<path d="M2010.5,1984.5 L2013.0,2009.2 L2025.3,2016.6"/>
<path d="M1485.9,1790.0 C1509.3,1806.0 1578.3,1855.2 1626.3,1886.0 C1674.3,1916.8 1728.1,1950.5 1774.1,1974.7 C1820.1,1998.9 1880.8,2021.9 1902.2,2031.3"/>
<path d="M1902.2,2031.3 L1931.7,2043.6"/>
<path d="M1490.8,1785.0 L1508.1,1792.4 L1500.7,1801.3 L1488.4,1794.9"/>
<path d="M1904.6,2031.3 L1914.5,2026.4 L1929.3,2036.3 L1924.3,2044.6"/>
<path d="M1542.6,1824.4 L1631.2,1775.2"/>
<path d="M1547.5,1829.4 L1636.2,1782.6"/>
<path d="M1569.7,1846.6 L1665.7,1792.4"/>
<path d="M1631.2,1775.2 L1665.7,1792.4"/>
<path d="M1631.2,1775.2 L1633.7,1787.5"/>
<path d="M1623.8,1792.4 L1641.1,1792.4 L1646.0,1799.8 L1628.8,1807.2Z"/>
<ellipse cx="1617.9" cy="1808.2" rx="3.9" ry="3.0" transform="rotate(0.0 1617.9 1808.2)"/>
<path d="M1675.6,1915.6 L1776.6,1858.9"/>
<path d="M1680.5,1921.5 L1781.5,1866.3"/>
<path d="M1705.1,1932.8 L1811.0,1873.7"/>
<path d="M1776.6,1858.9 L1811.0,1873.7"/>
<path d="M1776.6,1858.9 L1778.0,1871.2"/>
<path d="M1769.2,1878.6 L1788.9,1876.2 L1791.3,1886.0 L1771.6,1890.0Z"/>
<ellipse cx="1763.3" cy="1890.9" rx="3.9" ry="3.0" transform="rotate(0.0 1763.3 1890.9)"/>
<path d="M1828.3,1989.5 L1916.9,1940.2"/>
<path d="M1833.2,1994.4 L1921.9,1947.6"/>
<path d="M1855.4,2009.2 L1951.4,1957.4"/>
<path d="M1916.9,1940.2 L1951.4,1957.4"/>
<path d="M1916.9,1940.2 L1917.9,1952.5"/>
<path d="M1909.6,1959.9 L1926.8,1957.4 L1930.7,1966.3 L1912.0,1970.7Z"/>
<ellipse cx="1903.6" cy="1973.2" rx="3.9" ry="3.0" transform="rotate(0.0 1903.6 1973.2)"/>
<path d="M1931.7,2043.6 L1931.7,2058.4 L1953.9,2067.3 L1958.8,2053.5 L1936.7,2044.6"/>
<path d="M1931.7,2043.6 L2010.5,1999.3"/>
<path d="M1963.7,2043.6 L2015.5,2014.1 L2025.3,2016.6 L2059.8,2009.2 L2118.9,2043.6 L2116.5,2073.2"/>
<path d="M1958.8,2056.0 L2059.8,2090.4 L2069.7,2095.4 L2089.4,2090.4 L2116.5,2073.2"/>
<path d="M2059.8,2009.2 L2064.7,2019.0"/>
<path d="M2030.2,2063.3 L2077.0,2019.0 L2082.0,2043.6 L2109.1,2048.6 L2069.7,2075.7 L2050.0,2070.7 L2042.6,2075.7Z"/>
<path d="M2040.1,2053.5 L2045.0,2070.7 L2079.5,2048.6"/>
<path d="M1802.2,1785.0 L1802.2,1839.2"/>
<path d="M1987.9,1837.7 L1987.9,1893.4"/>
<ellipse cx="1986.9" cy="1892.4" rx="14.8" ry="7.4" transform="rotate(0.0 1986.9 1892.4)"/>
<path d="M1982.0,1898.3 L1982.0,1925.4"/>
<path d="M1993.3,1898.3 L1993.3,1925.4"/>
<path d="M1982.0,1925.4 C1982.6,1926.7 1984.0,1932.8 1985.9,1932.8 C1987.8,1932.8 1992.1,1926.7 1993.3,1925.4"/>
<path d="M1973.6,1895.9 C1974.4,1897.1 1974.8,1902.0 1978.5,1903.3 C1982.2,1904.5 1992.1,1904.5 1995.8,1903.3 C1999.5,1902.0 1999.9,1897.1 2000.7,1895.9"/>
<path d="M2009.6,1894.9 L2067.2,1894.9"/>
<path d="M904.4,2000.1 C906.3,2009.2 910.5,2037.1 916.0,2054.8 C921.6,2072.6 930.4,2092.2 937.6,2106.6 C944.8,2120.9 952.0,2130.3 959.1,2141.0 C966.3,2151.8 977.1,2166.2 980.7,2171.2"/>
<path d="M980.7,2171.2 C989.3,2176.2 1013.0,2187.7 1032.4,2201.4 C1051.8,2215.0 1075.5,2237.3 1097.1,2253.1 C1118.6,2268.9 1136.6,2281.1 1161.7,2296.2 C1186.9,2311.3 1219.2,2329.3 1247.9,2343.6 C1276.7,2358.0 1305.4,2370.2 1334.1,2382.4 C1362.9,2394.6 1395.2,2406.1 1420.3,2416.9 C1445.5,2427.7 1468.5,2438.4 1485.0,2447.1 C1501.5,2455.7 1511.6,2463.6 1519.5,2468.6 C1527.4,2473.6 1530.3,2475.8 1532.4,2477.2"/>
<path d="M919.1,2000.1 L946.2,2037.6 L1006.6,2134.6 L1011.7,2136.7"/>
<path d="M1011.7,2136.7 L1010.9,2102.2 L997.9,2069.9"/>
<path d="M997.9,2069.9 L989.3,2003.1 L985.4,2000.1"/>
<path d="M933.7,2000.1 L995.8,2067.8"/>
<path d="M1007.8,2000.1 L1017.3,2003.1 L1049.7,2029.0 L1056.1,2026.8"/>
<path d="M1015.2,2000.1 L1032.4,2102.2 L1045.3,2141.0"/>
<path d="M1025.9,2016.0 L1041.0,2102.2 L1045.3,2113.0"/>
<path d="M1045.3,2113.0 C1047.1,2111.9 1052.9,2106.2 1056.1,2106.6 C1059.4,2106.9 1063.7,2111.9 1064.7,2115.2 C1065.8,2118.4 1064.4,2123.1 1062.6,2125.9 C1060.8,2128.8 1055.4,2131.3 1054.0,2132.4"/>
<path d="M1054.0,2132.4 C1055.4,2135.3 1057.6,2143.9 1062.6,2149.7 C1067.6,2155.4 1080.5,2164.0 1084.1,2166.9"/>
<path d="M1061.3,2125.1 C1061.9,2126.8 1062.2,2131.4 1064.7,2135.4 C1067.3,2139.5 1069.1,2143.5 1076.8,2149.2 C1084.6,2155.0 1093.6,2157.4 1111.3,2169.9 C1129.0,2182.4 1170.9,2215.2 1182.8,2224.2"/>
<path d="M1182.8,2224.2 L1188.4,2222.9 L1198.8,2228.1 L1204.0,2231.6 L1204.0,2238.4 L1431.1,2354.4"/>
<path d="M1431.1,2354.4 C1433.6,2355.1 1442.3,2359.1 1446.2,2358.7 C1450.2,2358.3 1453.0,2354.5 1454.8,2352.2 C1456.6,2349.9 1456.6,2346.1 1457.0,2344.9"/>
<path d="M1039.7,2085.0 L1454.8,2344.9"/>
<path d="M1187.6,2222.9 L1191.9,2220.8 L1202.7,2229.4"/>
<path d="M1084.1,2166.9 L1433.3,2367.3"/>
<path d="M1433.3,2367.3 C1436.1,2368.0 1445.5,2373.4 1450.5,2371.6 C1455.5,2369.8 1461.3,2359.1 1463.4,2356.6"/>
<path d="M1200.1,2000.1 L1480.7,2145.3"/>
<path d="M1166.5,2000.1 L1441.9,2160.4 L1506.6,2184.1"/>
<path d="M1049.7,2029.0 L1118.6,2067.8 L1196.2,2119.5 L1347.1,2203.5 L1424.7,2246.6 L1472.1,2263.9"/>
<path d="M1057.4,2000.1 L1054.0,2029.0"/>
<path d="M1067.8,2000.1 L1064.7,2033.3"/>
<path d="M1083.7,2000.1 L1079.8,2041.9"/>
<path d="M1124.2,2000.1 L1117.3,2067.8"/>
<path d="M1136.3,2000.1 L1130.3,2076.4"/>
<path d="M1204.8,2031.1 L1196.2,2119.5"/>
<path d="M1217.8,2037.6 L1210.0,2128.1"/>
<path d="M1260.9,2061.3 L1253.1,2154.0"/>
<path d="M1275.1,2069.9 L1267.3,2162.6"/>
<path d="M1354.4,2113.0 L1347.1,2203.5"/>
<path d="M1367.8,2121.6 L1360.0,2212.2"/>
<path d="M1416.0,2147.5 L1408.7,2238.0"/>
<path d="M1429.0,2149.7 L1421.6,2244.5"/>
<path d="M1441.9,2160.4 L1435.4,2248.8"/>
<path d="M1084.1,2020.3 L1118.6,2035.4"/>
<path d="M1086.3,2039.7 L1107.8,2050.5"/>
<path d="M1159.6,2016.0 L1179.0,2023.8 L1179.0,2029.8"/>
<path d="M1155.3,2085.0 L1176.8,2095.8"/>
<path d="M1228.5,2061.3 L1249.2,2068.6 L1249.2,2074.7"/>
<path d="M1213.4,2106.6 L1252.2,2123.8"/>
<path d="M1226.4,2128.1 L1245.8,2137.6"/>
<path d="M1306.1,2101.4 L1325.5,2108.7 L1325.5,2114.3"/>
<path d="M1301.8,2169.1 L1323.4,2179.0"/>
<path d="M1381.6,2143.2 L1403.1,2149.7 L1403.1,2156.1"/>
<path d="M1362.2,2188.4 L1409.6,2212.2"/>
<path d="M1377.2,2210.0 L1398.8,2219.5"/>
<ellipse cx="1145.3" cy="2046.2" rx="8.6" ry="11.6" transform="rotate(-20.0 1145.3 2046.2)"/>
<ellipse cx="1336.3" cy="2160.4" rx="8.6" ry="11.6" transform="rotate(-20.0 1336.3 2160.4)"/>
<path d="M1047.5,2173.4 C1046.8,2174.4 1043.2,2177.3 1043.2,2179.8 C1043.2,2182.3 1046.8,2187.0 1047.5,2188.4"/>
<path d="M1047.5,2188.4 L1135.9,2257.4"/>
<path d="M1135.9,2257.4 C1138.0,2258.5 1146.5,2265.3 1148.8,2263.9 C1151.1,2262.4 1150.4,2252.7 1149.7,2248.8 C1148.9,2244.8 1145.3,2241.6 1144.5,2240.2"/>
<path d="M1144.5,2240.2 L1054.0,2175.5"/>
<path d="M1054.0,2175.5 C1053.2,2174.9 1050.7,2172.4 1049.7,2172.1 C1048.6,2171.7 1047.9,2173.1 1047.5,2173.4"/>
<path d="M1170.3,2258.3 C1169.5,2259.2 1165.3,2261.5 1165.2,2263.9 C1165.0,2266.2 1168.8,2271.1 1169.5,2272.5"/>
<path d="M1169.5,2272.5 L1284.6,2341.5"/>
<path d="M1284.6,2341.5 C1287.1,2342.5 1296.8,2349.0 1299.7,2347.9 C1302.5,2346.9 1302.9,2338.7 1301.8,2335.0 C1300.7,2331.3 1294.6,2327.1 1293.2,2325.5"/>
<path d="M1293.2,2325.5 L1179.0,2259.6"/>
<path d="M1179.0,2259.6 C1178.0,2259.1 1174.8,2256.8 1173.4,2256.6 C1171.9,2256.3 1170.8,2258.0 1170.3,2258.3"/>
<path d="M1323.4,2340.6 C1322.5,2341.6 1318.2,2344.1 1318.2,2346.6 C1318.2,2349.2 1322.5,2354.2 1323.4,2355.7"/>
<path d="M1323.4,2355.7 L1429.0,2408.3"/>
<path d="M1429.0,2408.3 C1431.5,2409.4 1440.8,2415.8 1444.1,2414.7 C1447.3,2413.7 1449.1,2405.5 1448.4,2401.8 C1447.6,2398.1 1441.2,2393.9 1439.7,2392.3"/>
<path d="M1439.7,2392.3 L1332.0,2341.5"/>
<path d="M1332.0,2341.5 C1331.0,2341.0 1327.8,2338.6 1326.4,2338.4 C1324.9,2338.3 1323.9,2340.2 1323.4,2340.6"/>
<ellipse cx="963.4" cy="2242.3" rx="15.1" ry="8.6" transform="rotate(0.0 963.4 2242.3)"/>
<ellipse cx="963.4" cy="2242.3" rx="6.5" ry="3.9" transform="rotate(0.0 963.4 2242.3)"/>
<path d="M948.4,2244.5 L948.4,2257.4"/>
<path d="M978.5,2244.5 L978.5,2257.4"/>
<path d="M948.4,2257.4 C949.4,2258.5 950.9,2262.8 954.8,2263.9 C958.8,2265.0 968.1,2265.0 972.1,2263.9 C976.0,2262.8 977.5,2258.5 978.5,2257.4"/>
<path d="M954.8,2261.7 L954.8,2298.4"/>
<path d="M972.9,2261.7 L972.9,2298.4"/>
<path d="M954.8,2298.4 C956.3,2299.1 960.4,2302.7 963.4,2302.7 C966.5,2302.7 971.4,2299.1 972.9,2298.4"/>
<path d="M954.8,2270.3 C956.3,2271.1 960.4,2274.7 963.4,2274.7 C966.5,2274.7 971.4,2271.1 972.9,2270.3"/>
<path d="M954.8,2279.0 C956.3,2279.7 960.4,2283.3 963.4,2283.3 C966.5,2283.3 971.4,2279.7 972.9,2279.0"/>
<path d="M954.8,2287.6 C956.3,2288.3 960.4,2291.9 963.4,2291.9 C966.5,2291.9 971.4,2288.3 972.9,2287.6"/>
<path d="M900.9,2243.2 L946.2,2268.2"/>
<path d="M963.4,2304.8 L963.4,2421.2"/>
<path d="M962.2,2434.1 L962.2,2464.3"/>
<path d="M962.2,2475.1 L962.2,2500.1"/>
<path d="M860.0,2287.6 L954.8,2328.5"/>
<path d="M860.0,2300.5 L952.7,2332.8"/>
<path d="M969.9,2324.2 L1066.9,2350.1"/>
<path d="M969.9,2335.0 L1032.4,2347.9 L1058.3,2354.4"/>
<path d="M860.0,2335.0 L952.7,2373.8"/>
<path d="M969.9,2380.3 L1025.9,2395.3"/>
<path d="M1066.9,2350.1 L1101.4,2369.5 L1129.4,2365.2 L1148.8,2371.6 L1153.1,2378.1 L1142.3,2386.7"/>
<path d="M1045.3,2386.7 L1066.9,2350.1"/>
<path d="M1051.8,2363.0 L1062.6,2360.9 L1133.7,2380.3"/>
<path d="M1032.4,2399.7 L1062.6,2386.7 L1110.0,2393.2"/>
<path d="M1032.4,2399.7 L1118.6,2425.5"/>
<path d="M1142.3,2386.7 L1118.6,2425.5 L1101.4,2472.9 L1084.1,2500.1"/>
<path d="M1099.2,2388.9 L1120.8,2395.3 L1118.6,2401.8"/>
<path d="M1045.3,2369.5 L1006.6,2447.1"/>
<path d="M1036.7,2410.4 L1006.6,2460.0"/>
<path d="M967.8,2468.6 L1051.8,2442.8 L1051.8,2481.6"/>
<path d="M961.3,2494.5 L1051.8,2455.7"/>
<path d="M1002.2,2481.6 L993.6,2500.1"/>
<path d="M1066.9,2421.2 C1068.3,2424.8 1074.8,2435.6 1075.5,2442.8 C1076.2,2449.9 1073.4,2458.6 1071.2,2464.3 C1069.1,2470.1 1064.0,2475.1 1062.6,2477.2"/>
<path d="M1077.7,2440.6 L1099.2,2444.9 L1097.1,2451.4"/>
<path d="M1062.6,2475.1 L1079.8,2483.7"/>
<ellipse cx="1048.8" cy="2483.7" rx="4.3" ry="3.4" transform="rotate(0.0 1048.8 2483.7)"/>
<path d="M911.7,2453.5 L952.7,2466.5"/>
<path d="M877.2,2468.6 L872.9,2485.9 L894.5,2481.6"/>
<path d="M1122.9,2427.7 L1148.8,2434.1"/>
<path d="M1161.7,2437.6 L1267.3,2467.8 L1247.9,2477.2"/>
<path d="M1235.0,2483.7 L1217.8,2492.3"/>
<path d="M1828.2,2187.0 L1843.3,2182.0 L1863.5,2181.0 L1876.2,2187.0"/>
<path d="M1876.2,2187.0 C1889.2,2186.6 1928.8,2186.2 1954.4,2184.5 C1980.1,2182.8 2009.1,2179.4 2030.2,2176.9 C2051.2,2174.4 2072.2,2170.6 2080.7,2169.3"/>
<path d="M2080.7,2169.3 L2090.8,2167.8 L2094.8,2174.4 L2047.8,2328.4"/>
<path d="M1601.0,2174.4 C1617.8,2177.3 1664.1,2188.3 1702.0,2192.1 C1739.8,2195.9 1786.1,2197.1 1828.2,2197.1 C1870.3,2197.1 1912.4,2195.3 1954.4,2192.1 C1996.5,2188.9 2059.6,2180.3 2080.7,2177.9"/>
<path d="M1575.7,2202.2 C1596.8,2205.5 1655.7,2217.3 1702.0,2222.4 C1748.3,2227.4 1811.4,2232.5 1853.4,2232.5 C1895.5,2232.5 1917.0,2226.6 1954.4,2222.4 C1991.9,2218.2 2057.5,2209.7 2078.1,2207.2"/>
<path d="M1530.3,2295.6 C1550.5,2299.4 1606.0,2311.1 1651.5,2318.3 C1696.9,2325.5 1756.7,2335.1 1803.0,2338.5 C1849.2,2341.9 1888.4,2340.2 1929.2,2338.5 C1970.0,2336.8 2028.1,2330.1 2047.8,2328.4"/>
<path d="M1863.5,2229.9 C1861.9,2232.0 1856.8,2237.5 1853.4,2242.6 C1850.1,2247.6 1845.5,2256.0 1843.3,2260.2 C1841.2,2264.4 1841.2,2266.5 1840.8,2267.8"/>
<path d="M1840.8,2267.8 C1841.2,2269.1 1841.2,2274.3 1843.3,2275.4 C1845.5,2276.5 1851.8,2274.5 1853.4,2274.4"/>
<path d="M1853.4,2274.4 L1929.2,2275.4"/>
<path d="M1929.2,2275.4 C1931.7,2273.3 1940.5,2268.2 1944.3,2262.8 C1948.1,2257.3 1951.1,2247.6 1951.9,2242.6 C1952.7,2237.5 1949.8,2234.1 1949.4,2232.5"/>
<path d="M1949.4,2232.5 C1949.0,2231.6 1948.5,2228.1 1946.9,2227.4 C1945.2,2226.7 1940.5,2228.3 1939.3,2228.4"/>
<path d="M1939.3,2228.4 L1863.5,2229.9"/>
<path d="M1886.3,2229.9 L1886.3,2247.6 L1853.4,2265.3"/>
<path d="M1886.3,2247.6 L1939.3,2267.8"/>
<path d="M1891.3,2232.5 C1892.6,2235.0 1894.3,2243.8 1898.9,2247.6 C1903.5,2251.4 1912.4,2254.3 1919.1,2255.2 C1925.8,2256.0 1935.9,2253.1 1939.3,2252.7"/>
<path d="M1893.8,2266.8 L1560.1,2453.6" stroke-dasharray="140 12 30 12"/>
<path d="M1535.3,2389.0 C1554.7,2394.9 1606.9,2415.1 1651.5,2424.3 C1696.1,2433.6 1760.9,2441.2 1803.0,2444.5 C1845.0,2447.9 1887.1,2444.5 1903.9,2444.5"/>
<path d="M1903.9,2444.5 C1916.6,2444.1 1962.0,2445.4 1979.7,2442.0 C1997.3,2438.6 2004.1,2431.5 2010.0,2424.3 C2015.9,2417.2 2014.2,2403.3 2015.0,2399.1"/>
<path d="M2015.0,2399.1 L2030.2,2333.4"/>
<path d="M1853.4,2339.5 L1840.8,2437.0"/>
<path d="M1886.3,2341.0 L1881.2,2373.8 L1886.3,2414.2 L1848.4,2439.5"/>
<path d="M1919.1,2341.0 L1893.8,2363.7 L1891.3,2376.4 L1906.5,2391.5 L1903.9,2406.7 L1898.9,2426.9 L1883.7,2439.5"/>
<path d="M2004.9,2333.4 C2004.9,2337.7 2004.1,2351.1 2004.9,2358.7 C2005.8,2366.3 2010.0,2374.7 2010.0,2378.9 C2010.0,2383.1 2005.8,2383.1 2004.9,2383.9"/>
<path d="M2010.0,2399.1 C2009.1,2401.6 2008.3,2409.6 2004.9,2414.2 C2001.6,2418.9 1992.3,2424.8 1989.8,2426.9"/>
<path d="M1500.0,2409.2 C1516.8,2413.4 1558.9,2426.0 1601.0,2434.4 C1643.1,2442.8 1702.0,2454.6 1752.5,2459.7 C1803.0,2464.7 1878.7,2463.9 1903.9,2464.7"/>
<path d="M1903.9,2464.7 C1916.6,2464.3 1961.2,2467.3 1979.7,2462.2 C1998.2,2457.2 2006.6,2443.3 2015.0,2434.4 C2023.4,2425.6 2027.6,2413.4 2030.2,2409.2"/>
<path d="M1500.0,2454.6 C1525.2,2461.4 1601.0,2484.9 1651.5,2495.0 C1702.0,2505.1 1760.9,2511.9 1803.0,2515.2 C1845.0,2518.6 1861.9,2516.5 1903.9,2515.2 C1946.0,2514.0 2013.3,2511.9 2055.4,2507.6 C2097.5,2503.4 2133.7,2494.2 2156.4,2490.0 C2179.1,2485.8 2185.9,2483.7 2191.7,2482.4"/>
<path d="M2191.7,2482.4 L2206.9,2464.7"/>
<path d="M2030.2,2409.2 L2020.1,2391.5 L2232.1,2353.6 L2238.2,2358.7"/>
<path d="M2030.2,2406.7 L2211.9,2371.3"/>
<path d="M2238.2,2358.7 C2237.6,2367.1 2237.4,2394.9 2234.7,2409.2 C2232.0,2423.5 2226.7,2435.3 2222.0,2444.5 C2217.4,2453.8 2209.4,2461.4 2206.9,2464.7"/>
<path d="M2211.9,2371.3 C2211.1,2379.3 2209.4,2405.4 2206.9,2419.3 C2204.4,2433.2 2200.6,2444.9 2196.8,2454.6 C2193.0,2464.3 2186.3,2473.6 2184.2,2477.3"/>
<path d="M2040.3,2398.1 L2063.0,2395.0"/>
<path d="M2108.4,2385.5 L2131.2,2381.4"/>
<path d="M2176.6,2372.8 L2199.3,2368.8"/>
<path d="M2098.3,2209.7 L2113.5,2208.2 L2113.5,2257.7 L2105.9,2260.2 L2098.3,2252.7Z"/>
<path d="M2113.5,2217.3 L2156.4,2197.1"/>
<path d="M2113.5,2232.5 L2161.4,2209.7"/>
<path d="M2156.4,2197.1 C2157.7,2197.5 2162.7,2198.0 2164.0,2199.6 C2165.2,2201.3 2164.8,2205.3 2164.0,2207.2 C2163.1,2209.2 2159.8,2210.6 2158.9,2211.3"/>
<path d="M2128.6,2211.3 L2131.2,2222.4"/>
<path d="M2136.2,2207.2 L2140.2,2218.3"/>
<path d="M2145.3,2203.2 L2148.8,2214.3"/>
<path d="M2152.9,2199.6 L2156.4,2209.7"/>
<path d="M2132.7,2237.5 L2132.7,2285.5"/>
<ellipse cx="2187.7" cy="2184.5" rx="15.1" ry="17.7" transform="rotate(-20.0 2187.7 2184.5)"/>
<ellipse cx="2182.7" cy="2187.0" rx="6.1" ry="7.6" transform="rotate(-20.0 2182.7 2187.0)"/>
<path d="M2164.0,2197.1 L2174.1,2192.1"/>
<path d="M2201.8,2176.9 L2217.0,2166.8"/>
<path d="M2182.7,2111.3 L2182.7,2162.8"/>
<ellipse cx="2232.1" cy="2160.8" rx="16.2" ry="18.2" transform="rotate(-20.0 2232.1 2160.8)"/>
<ellipse cx="2228.1" cy="2162.8" rx="6.1" ry="7.1" transform="rotate(-20.0 2228.1 2162.8)"/>
<path d="M2219.5,2149.1 L2234.7,2142.6 L2247.3,2151.7 L2248.3,2167.8 L2234.7,2177.9 L2221.0,2170.9Z"/>
<path d="M2240.7,2182.0 L2240.7,2232.5"/>
<ellipse cx="1685.8" cy="2066.8" rx="5.0" ry="7.1" transform="rotate(-20.0 1685.8 2066.8)"/>
<path d="M1671.7,2068.4 C1672.1,2066.3 1671.3,2058.3 1674.2,2055.7 C1677.1,2053.2 1685.6,2052.0 1689.3,2053.2 C1693.1,2054.5 1695.5,2059.5 1696.9,2063.3 C1698.4,2067.1 1697.8,2073.8 1697.9,2075.9"/>
<path d="M1671.7,2068.4 L1666.6,2078.5"/>
<path d="M1697.9,2075.9 L1689.3,2083.5 L1680.3,2097.1"/>
<path d="M1548.0,2164.3 C1565.2,2166.8 1617.4,2176.1 1651.5,2179.4 C1685.6,2182.8 1723.0,2183.2 1752.5,2184.5 C1781.9,2185.8 1815.6,2186.6 1828.2,2187.0"/>
<path d="M699.3,2196.2 L699.3,2251.4"/>
<path d="M452.1,2003.1 L465.9,1991.0 L472.8,1991.7 L479.7,2003.1 L477.9,2008.3 L469.3,2020.3"/>
<path d="M452.1,2003.1 L384.8,2142.8 L367.6,2158.3 L367.6,2179.0 L391.7,2208.3"/>
<path d="M469.3,2020.3 L502.1,2034.1 L514.1,2051.4 L607.2,2147.9 L609.0,2163.4"/>
<path d="M452.1,2003.1 L459.0,2011.7 L472.8,2023.8 L488.3,2044.5 L502.1,2034.1"/>
<path d="M488.3,2044.5 L472.8,2073.8"/>
<path d="M484.8,2053.1 L598.6,2149.7 L596.9,2165.2"/>
<path d="M450.3,2023.8 L457.2,2018.6 L462.4,2029.0 L455.5,2035.9Z"/>
<path d="M472.8,2037.6 L477.9,2041.0 L476.2,2047.9"/>
<path d="M445.2,2051.4 L450.3,2049.0 L450.3,2056.6 L471.0,2073.8"/>
<path d="M462.4,2061.7 L469.3,2063.4 L467.6,2070.3"/>
<path d="M426.2,2075.5 L431.4,2077.2 L429.7,2084.1"/>
<path d="M407.2,2106.6 L412.4,2109.0 L410.7,2115.2"/>
<path d="M391.7,2137.6 L396.9,2140.0 L395.2,2147.9"/>
<path d="M436.6,2087.6 C437.7,2085.9 440.0,2079.3 443.4,2077.2 C446.9,2075.2 453.5,2074.4 457.2,2075.5 C461.0,2076.7 464.1,2081.0 465.9,2084.1 C467.6,2087.3 467.3,2092.8 467.6,2094.5"/>
<path d="M436.6,2087.6 L400.3,2146.2"/>
<path d="M400.3,2146.2 C400.1,2147.4 398.0,2151.4 398.6,2153.1 C399.2,2154.8 402.9,2156.0 403.8,2156.6"/>
<path d="M467.6,2094.5 L446.9,2135.9 L433.1,2137.6 L402.1,2153.1"/>
<path d="M446.9,2146.2 L471.0,2166.9"/>
<path d="M467.6,2094.5 L577.9,2184.1"/>
<path d="M403.8,2156.6 L412.4,2166.9"/>
<path d="M384.8,2142.8 L409.0,2173.8 L403.8,2197.9"/>
<path d="M367.6,2158.3 L409.0,2175.5 L446.9,2146.2"/>
<path d="M409.0,2173.8 L453.8,2196.2"/>
<path d="M402.1,2197.9 C404.9,2196.2 413.0,2188.7 419.3,2187.6 C425.6,2186.4 434.3,2189.6 440.0,2191.0 C445.7,2192.5 451.5,2195.3 453.8,2196.2"/>
<path d="M584.8,2180.7 L596.9,2168.6 L609.0,2166.9 L645.2,2184.1 L646.9,2191.0 L633.1,2197.9"/>
<path d="M584.8,2180.7 L583.1,2201.4 L614.1,2220.3 L633.1,2210.0 L633.1,2197.9"/>
<path d="M584.8,2180.7 L614.1,2197.9 L633.1,2187.6"/>
<path d="M614.1,2197.9 L614.1,2220.3"/>
<ellipse cx="610.0" cy="2179.7" rx="6.2" ry="4.5" transform="rotate(0.0 610.0 2179.7)"/>
<path d="M633.1,2210.0 L653.8,2223.8 L659.0,2222.1 L659.0,2225.5 L652.1,2229.0 L684.8,2247.9 L684.8,2253.1 L700.3,2260.0 L709.0,2263.4 L709.0,2270.3 L729.7,2272.1 L752.1,2284.1"/>
<path d="M621.0,2222.1 L745.2,2294.5 L752.1,2291.0 L752.1,2284.1"/>
<path d="M755.5,2270.3 L771.0,2260.0 L781.4,2258.3 L800.3,2270.3 L800.3,2299.7 L788.3,2310.0 L755.5,2292.8Z"/>
<path d="M755.5,2270.3 L783.1,2284.1 L800.3,2273.8"/>
<path d="M783.1,2284.1 L783.1,2304.8"/>
<ellipse cx="788.3" cy="2275.5" rx="6.2" ry="4.5" transform="rotate(0.0 788.3 2275.5)"/>
<path d="M800.3,2270.3 L809.0,2265.2 L900.0,2296.2"/>
<path d="M803.8,2277.2 L900.0,2308.3"/>
<path d="M800.3,2299.7 L900.0,2335.9"/>
<path d="M403.8,2197.9 C401.2,2199.7 392.3,2202.0 388.3,2208.3 C384.3,2214.6 381.7,2225.5 379.7,2235.9 C377.6,2246.2 377.1,2258.9 376.2,2270.3 C375.3,2281.8 374.2,2287.6 374.5,2304.8 C374.8,2322.1 376.2,2351.3 377.9,2373.8 C379.7,2396.3 383.7,2429.0 384.8,2440.0"/>
<path d="M409.0,2206.6 C406.7,2208.0 398.9,2209.1 395.2,2215.2 C391.4,2221.2 388.4,2232.4 386.6,2242.8 C384.7,2253.1 384.7,2264.0 384.1,2277.2 C383.6,2290.5 382.4,2303.1 383.1,2322.1 C383.8,2341.0 386.3,2371.4 388.3,2391.0 C390.3,2410.7 394.0,2431.8 395.2,2440.0"/>
<path d="M414.1,2216.9 L434.8,2222.1 L577.9,2311.7"/>
<path d="M417.6,2220.3 L421.0,2232.4 L433.1,2225.5"/>
<path d="M453.8,2239.3 L459.0,2256.6 L472.8,2247.9"/>
<path d="M491.7,2261.7 L488.3,2279.0 L509.0,2270.3"/>
<path d="M531.4,2282.4 L526.2,2304.8 L546.9,2294.5"/>
<path d="M400.3,2232.4 L414.1,2216.9"/>
<path d="M391.7,2266.9 L410.7,2247.9 L538.3,2334.1"/>
<path d="M410.7,2251.4 L409.0,2268.6 L424.5,2260.0"/>
<path d="M443.4,2272.1 L441.7,2292.8 L460.7,2284.1"/>
<path d="M481.4,2296.2 L477.9,2318.6 L496.9,2310.0"/>
<path d="M519.3,2322.1 L515.9,2346.2 L536.6,2335.9"/>
<path d="M400.3,2232.4 L400.3,2260.0"/>
<path d="M383.1,2308.3 L402.1,2294.5 L533.1,2377.2"/>
<path d="M402.1,2284.1 L400.3,2304.8 L419.3,2296.2"/>
<path d="M434.8,2311.7 L434.8,2334.1 L453.8,2323.8"/>
<path d="M472.8,2335.9 L469.3,2358.3 L488.3,2349.7"/>
<path d="M510.7,2363.4 L507.2,2384.1 L526.2,2377.2"/>
<path d="M391.7,2266.9 L391.7,2301.4"/>
<path d="M386.6,2308.3 L581.4,2435.9"/>
<path d="M433.1,2363.4 L426.2,2440.0"/>
<path d="M433.1,2363.4 L564.1,2440.0"/>
<ellipse cx="565.9" cy="2363.4" rx="31.0" ry="43.1" transform="rotate(-20.0 565.9 2363.4)"/>
<ellipse cx="565.9" cy="2363.4" rx="22.4" ry="34.5" transform="rotate(-20.0 565.9 2363.4)"/>
<ellipse cx="610.7" cy="2390.3" rx="31.0" ry="43.1" transform="rotate(-20.0 610.7 2390.3)"/>
<ellipse cx="610.7" cy="2390.3" rx="22.4" ry="34.5" transform="rotate(-20.0 610.7 2390.3)"/>
<ellipse cx="655.5" cy="2416.9" rx="31.0" ry="43.1" transform="rotate(-20.0 655.5 2416.9)"/>
<ellipse cx="655.5" cy="2416.9" rx="22.4" ry="34.5" transform="rotate(-20.0 655.5 2416.9)"/>
<ellipse cx="700.3" cy="2443.4" rx="31.0" ry="43.1" transform="rotate(-20.0 700.3 2443.4)"/>
<ellipse cx="700.3" cy="2443.4" rx="22.4" ry="34.5" transform="rotate(-20.0 700.3 2443.4)"/>
<path d="M550.3,2332.4 L581.4,2311.7"/>
<path d="M598.6,2353.1 L626.2,2335.9"/>
<path d="M643.4,2379.0 L667.6,2360.0"/>
<path d="M684.8,2404.8 L709.0,2382.4"/>
<path d="M738.3,2435.9 L762.4,2418.6 L759.0,2408.3"/>
<path d="M781.4,2440.0 L786.6,2425.5 L798.6,2440.0"/>
<path d="M384.8,2439.9 C386.7,2448.6 391.7,2476.9 396.0,2492.1 C400.4,2507.2 404.3,2518.6 411.1,2530.9 C417.9,2543.1 425.8,2553.9 437.0,2565.3 C448.1,2576.8 458.2,2585.5 477.9,2599.8 C497.7,2614.2 528.2,2634.3 555.5,2651.6 C582.8,2668.8 609.4,2685.3 641.7,2703.3 C674.1,2721.2 724.3,2747.1 749.5,2759.3 C774.6,2771.5 782.5,2772.6 792.6,2776.6 C802.6,2780.5 807.0,2781.9 809.8,2783.0"/>
<path d="M809.8,2783.0 C813.4,2783.4 825.6,2787.7 831.4,2785.2 C837.1,2782.7 840.7,2773.7 844.3,2767.9 C847.9,2762.2 851.5,2753.6 852.9,2750.7"/>
<path d="M852.9,2750.7 L949.9,2539.5"/>
<path d="M395.2,2439.9 C396.8,2447.9 400.6,2473.7 404.7,2487.8 C408.8,2501.8 412.9,2512.9 419.7,2524.4 C426.6,2535.9 434.5,2545.9 445.6,2556.7 C456.7,2567.5 468.2,2575.4 486.6,2589.1 C504.9,2602.7 529.7,2621.4 555.5,2638.6 C581.4,2655.9 609.4,2674.5 641.7,2692.5 C674.1,2710.5 723.6,2733.8 749.5,2746.4 C775.3,2759.0 786.8,2763.6 796.9,2767.9 C807.0,2772.2 807.7,2771.5 809.8,2772.2"/>
<path d="M809.8,2772.2 C812.7,2772.2 822.8,2774.4 827.1,2772.2 C831.4,2770.1 833.2,2763.6 835.7,2759.3 C838.2,2755.0 841.1,2748.5 842.2,2746.4"/>
<path d="M842.2,2746.4 L937.0,2526.6"/>
<path d="M430.5,2439.9 L426.2,2479.1"/>
<path d="M562.0,2439.9 L620.2,2474.8 L814.1,2574.0"/>
<path d="M814.1,2574.0 C815.2,2574.7 819.3,2576.1 820.6,2578.3 C821.9,2580.4 821.7,2585.5 821.9,2586.9"/>
<path d="M821.9,2586.9 L816.3,2677.4"/>
<path d="M409.0,2472.7 L430.5,2461.9 L859.4,2692.5"/>
<path d="M409.0,2472.7 L411.1,2483.4 L430.5,2494.2"/>
<path d="M428.4,2464.1 L428.4,2481.3 L445.6,2471.4"/>
<path d="M462.8,2483.4 L462.8,2505.0 L482.2,2494.2"/>
<path d="M499.5,2505.0 L499.5,2528.7 L521.0,2517.1"/>
<path d="M536.1,2526.6 L536.1,2552.4 L559.8,2540.3"/>
<path d="M574.9,2550.3 L574.9,2576.1 L598.6,2564.5"/>
<path d="M618.0,2574.0 L618.0,2599.8 L641.7,2588.2"/>
<path d="M659.0,2597.7 L659.8,2623.5 L682.7,2611.9"/>
<path d="M701.2,2621.4 L702.1,2646.4 L724.9,2634.3"/>
<path d="M743.0,2642.9 L744.3,2667.9 L766.7,2655.9"/>
<path d="M788.3,2662.3 L789.6,2688.2 L816.3,2675.3"/>
<path d="M835.7,2683.9 L836.6,2705.4 L857.2,2696.8"/>
<path d="M419.7,2513.6 L432.7,2505.9 L848.6,2722.7"/>
<path d="M419.7,2513.6 L421.9,2524.4"/>
<path d="M462.8,2522.2 L464.1,2538.6 L477.9,2530.9"/>
<path d="M497.3,2545.9 L498.6,2563.2 L514.6,2554.6"/>
<path d="M536.1,2569.7 L537.4,2586.9 L553.4,2578.3"/>
<path d="M576.2,2595.5 L577.1,2612.8 L592.2,2604.1"/>
<path d="M615.0,2619.2 L615.9,2636.5 L633.1,2627.8"/>
<path d="M656.8,2642.1 L658.1,2659.3 L674.1,2650.7"/>
<path d="M697.8,2662.3 L699.1,2679.6 L715.9,2670.9"/>
<path d="M743.0,2681.7 L744.3,2701.1 L762.4,2691.2"/>
<path d="M788.3,2701.1 L789.1,2720.5 L807.7,2709.7"/>
<path d="M428.4,2509.3 L428.4,2526.6 L441.3,2520.1"/>
<path d="M428.4,2535.2 L434.8,2543.8 L441.3,2537.3"/>
<path d="M464.1,2556.7 L465.9,2571.8 L480.1,2564.5"/>
<path d="M501.6,2580.4 L502.9,2597.7 L517.6,2590.3"/>
<path d="M538.3,2606.3 L539.6,2623.5 L555.5,2616.2"/>
<path d="M574.9,2630.0 L576.2,2647.2 L592.2,2639.9"/>
<path d="M613.7,2653.7 L615.0,2670.9 L630.9,2663.6"/>
<path d="M656.8,2677.4 L658.1,2693.8 L674.1,2686.0"/>
<path d="M697.8,2699.0 L699.1,2715.3 L715.0,2707.6"/>
<path d="M743.0,2718.4 L744.3,2734.3 L760.3,2727.0"/>
<path d="M786.1,2737.8 L787.4,2752.8 L805.5,2745.5"/>
<path d="M831.4,2724.8 L832.2,2739.9 L842.2,2735.6"/>
<path d="M432.7,2537.3 C460.3,2554.2 532.2,2602.7 598.6,2638.6 C665.1,2674.5 792.6,2733.8 831.4,2752.8"/>
<path d="M753.8,2457.6 L913.3,2526.6"/>
<path d="M727.9,2472.7 L921.9,2552.4"/>
<path d="M712.8,2483.4 L917.6,2565.3"/>
<path d="M771.0,2464.1 L773.2,2485.6 L792.6,2474.8"/>
<path d="M816.3,2485.6 L819.3,2507.2 L840.0,2496.4"/>
<path d="M863.7,2507.2 L863.7,2528.7 L885.3,2517.9"/>
<path d="M715.0,2485.6 L717.2,2502.8 L732.2,2494.2"/>
<path d="M760.3,2505.0 L762.4,2522.2 L781.8,2512.8"/>
<path d="M805.5,2524.4 L807.7,2543.8 L827.1,2533.0"/>
<path d="M850.8,2543.8 L852.1,2565.3 L874.5,2554.6"/>
<path d="M900.3,2563.2 L902.5,2582.6 L913.3,2565.3"/>
<path d="M814.1,2574.0 C821.3,2575.4 842.2,2580.4 857.2,2582.6 C872.3,2584.7 896.8,2586.2 904.7,2586.9"/>
<path d="M821.9,2586.9 L904.7,2595.5"/>
<path d="M885.3,2595.5 L855.1,2681.7"/>
<path d="M896.0,2595.5 L859.4,2692.5 L855.1,2701.1"/>
<path d="M835.7,2720.5 L846.5,2722.7 L831.4,2752.8"/>
<ellipse cx="359.4" cy="2728.3" rx="9.5" ry="13.8" transform="rotate(-20.0 359.4 2728.3)"/>
<ellipse cx="383.1" cy="2716.2" rx="6.5" ry="9.5" transform="rotate(-20.0 383.1 2716.2)"/>
<ellipse cx="455.5" cy="2795.1" rx="6.0" ry="9.5" transform="rotate(-20.0 455.5 2795.1)"/>
<ellipse cx="536.1" cy="2798.1" rx="6.0" ry="9.5" transform="rotate(-20.0 536.1 2798.1)"/>
<path d="M447.0,2146.0 C449.9,2148.3 449.4,2149.1 464.6,2160.0 C479.9,2170.9 509.8,2193.2 538.5,2211.7 C567.2,2230.2 603.7,2250.6 637.0,2271.0 C670.3,2291.4 705.2,2314.5 738.5,2334.0 C771.8,2353.5 801.3,2371.7 837.0,2388.0 C872.7,2404.3 933.5,2424.7 952.8,2432.0"/>
<path d="M970.8,2438.6 L994.7,2447.2"/>
<path d="M453.8,2196.0 C467.9,2205.2 507.5,2231.7 538.5,2251.0 C569.5,2270.3 606.7,2292.2 640.0,2312.0 C673.3,2331.8 705.7,2352.0 738.5,2370.0 C771.3,2388.0 808.2,2406.3 837.0,2420.0 C865.8,2433.7 891.7,2443.8 911.0,2452.0 C930.3,2460.2 945.8,2466.2 952.8,2469.0"/>
<path d="M404.0,2199.0 C410.0,2200.1 417.6,2194.9 440.0,2205.6 C462.4,2216.3 505.2,2243.3 538.5,2263.4 C571.8,2283.5 606.7,2306.1 640.0,2326.0 C673.3,2345.9 705.7,2364.8 738.5,2383.0 C771.3,2401.2 808.2,2420.7 837.0,2435.0 C865.8,2449.3 895.4,2461.2 911.0,2469.0 C926.6,2476.8 925.3,2476.4 930.6,2481.7 C935.9,2487.0 939.9,2493.8 943.0,2501.0 C946.1,2508.2 947.8,2518.6 949.0,2525.0 C950.2,2531.4 949.8,2537.1 950.0,2539.5"/>
<path d="M409.0,2206.5 C414.2,2208.2 418.4,2205.1 440.0,2216.7 C461.6,2228.2 505.2,2255.8 538.5,2275.8 C571.8,2295.9 606.7,2317.3 640.0,2337.0 C673.3,2356.7 705.7,2376.0 738.5,2394.0 C771.3,2412.0 812.4,2432.3 837.0,2445.0 C861.6,2457.7 874.5,2464.3 886.0,2470.0 C897.5,2475.7 899.8,2475.0 906.0,2479.0 C912.2,2483.0 918.3,2488.0 923.0,2494.0 C927.7,2500.0 931.7,2509.6 934.0,2515.0 C936.3,2520.4 936.5,2524.7 937.0,2526.6"/>
<path d="M700.0,2380.0 C716.7,2388.7 769.0,2415.9 800.0,2432.0 C831.0,2448.1 867.5,2467.2 886.0,2476.7 C904.5,2486.2 904.8,2484.1 911.0,2489.0 C917.2,2493.9 920.3,2497.5 923.0,2506.0 C925.7,2514.5 931.5,2525.2 927.0,2540.0 C922.5,2554.8 901.2,2585.8 896.0,2595.0"/>
<path d="M738.5,2436.1 L760.7,2422.6 L759.5,2410.2"/>
<path d="M738.5,2436.1 L739.8,2448.4 L754.5,2455.8 L753.3,2464.4 L721.3,2482.9"/>
<path d="M754.5,2455.8 L920.8,2527.2"/>
<path d="M721.3,2482.9 L844.4,2540.0"/>
<path d="M786.6,2425.0 L780.4,2444.7 L802.6,2436.1"/>
<path d="M833.3,2448.4 L827.2,2466.9 L848.1,2458.3"/>
<path d="M878.9,2469.4 L872.8,2490.3 L896.2,2480.4"/>
<path d="M774.2,2463.2 L766.8,2482.9 L792.7,2474.3"/>
<path d="M819.8,2485.4 L813.6,2506.3 L835.8,2497.7"/>
<path d="M866.6,2506.3 L859.2,2527.2 L886.3,2517.4"/>
<path d="M716.4,2487.8 L713.9,2501.4 L733.6,2492.8"/>
<path d="M761.9,2505.1 L758.2,2521.1 L780.4,2511.2"/>
<path d="M810.0,2524.8 L805.0,2540.0"/>
<path d="M640.0,2375.8 L659.7,2359.8 L679.4,2363.4"/>
<path d="M684.3,2400.4 L709.0,2381.9"/>
<path d="M915.9,2452.1 C918.7,2453.6 928.2,2456.6 933.1,2460.7 C938.0,2464.8 942.5,2469.6 945.4,2476.7 C948.4,2483.9 949.9,2499.3 950.8,2503.8"/>
<path d="M945.4,2516.2 L1040.0,2464.4"/>
<path d="M962.7,2494.0 L1004.5,2474.3 L1024.2,2447.2 L1040.0,2444.7"/>
<path d="M970.0,2469.4 L999.6,2454.6 L1029.2,2409.0"/>
<path d="M1004.5,2459.5 L1034.1,2410.2"/>
<path d="M1031.6,2401.6 L1040.0,2397.9"/>
<path d="M994.7,2498.9 L1002.1,2481.7"/>
<path d="M994.7,2498.9 L1040.0,2511.2"/>
<path d="M962.7,2513.7 L1040.0,2530.9"/>
<path d="M938.0,2533.4 L957.7,2535.9"/>
<path d="M442.2,2889.7 L442.2,2954.4"/>
<path d="M337.9,2674.2 C338.3,2673.1 338.3,2668.5 340.1,2667.8 C341.9,2667.0 347.3,2669.6 348.7,2669.9"/>
<path d="M348.7,2669.9 L575.0,2799.2"/>
<path d="M575.0,2799.2 C576.4,2799.9 582.0,2801.0 583.6,2803.5 C585.3,2806.0 584.7,2812.5 584.9,2814.3"/>
<path d="M584.9,2814.3 L581.5,2937.2"/>
<path d="M581.5,2937.2 C581.1,2938.6 581.1,2944.7 579.3,2945.8 C577.5,2946.9 572.1,2944.0 570.7,2943.6"/>
<path d="M570.7,2943.6 L346.6,2822.9"/>
<path d="M346.6,2822.9 C345.0,2821.9 338.8,2819.3 337.1,2816.5 C335.3,2813.6 336.4,2807.5 336.2,2805.7"/>
<path d="M336.2,2805.7 L337.9,2674.2"/>
<ellipse cx="359.5" cy="2728.1" rx="9.5" ry="13.8" transform="rotate(-20.0 359.5 2728.1)"/>
<ellipse cx="383.2" cy="2716.0" rx="6.5" ry="9.5" transform="rotate(-20.0 383.2 2716.0)"/>
<ellipse cx="456.5" cy="2794.9" rx="6.0" ry="9.5" transform="rotate(-20.0 456.5 2794.9)"/>
<ellipse cx="536.2" cy="2798.4" rx="6.9" ry="10.3" transform="rotate(-20.0 536.2 2798.4)"/>
<ellipse cx="559.9" cy="2839.3" rx="10.3" ry="14.2" transform="rotate(-20.0 559.9 2839.3)"/>
<path d="M584.9,2904.8 L682.8,2947.9"/>
<path d="M682.8,2947.9 C685.6,2948.8 694.3,2952.7 700.0,2953.1 C705.7,2953.5 714.4,2950.6 717.2,2950.1"/>
<path d="M717.2,2950.1 L756.0,2857.4"/>
<path d="M706.5,2861.7 L676.3,2937.2"/>
<path d="M244.0,2551.4 C243.7,2553.9 241.3,2561.6 242.2,2566.2 C243.1,2570.8 244.1,2573.9 249.6,2579.1 C255.1,2584.3 261.9,2587.8 275.4,2597.6 C288.9,2607.4 312.3,2625.0 330.8,2638.2 C349.3,2651.4 367.8,2665.4 386.3,2677.0 C404.8,2688.6 427.1,2700.2 441.7,2708.0 C456.3,2715.8 456.2,2714.5 473.9,2723.7 C491.6,2732.9 523.2,2750.5 547.8,2763.2 C572.4,2775.9 597.1,2788.6 621.7,2800.1 C646.3,2811.6 675.1,2824.9 695.6,2832.1 C716.1,2839.3 733.3,2841.1 744.8,2843.2 C756.3,2845.2 761.2,2844.2 764.5,2844.4"/>
<path d="M245.9,2550.5 C244.1,2551.6 237.1,2554.1 234.8,2557.0 C232.5,2559.9 232.0,2563.7 232.0,2568.0 C232.0,2572.3 232.2,2578.5 234.8,2582.8 C237.4,2587.1 237.8,2586.2 247.7,2593.9 C257.5,2601.6 277.3,2617.0 293.9,2629.0 C310.5,2641.0 329.0,2653.6 347.5,2665.9 C366.0,2678.2 383.6,2690.8 404.7,2702.9 C425.8,2715.0 450.0,2726.0 473.9,2738.5 C497.8,2751.0 523.2,2765.3 547.8,2778.0 C572.4,2790.7 597.1,2803.4 621.7,2814.9 C646.3,2826.4 677.1,2839.7 695.6,2846.9 C714.1,2854.1 722.6,2856.2 732.5,2858.0 C742.4,2859.8 751.0,2858.0 754.7,2858.0"/>
<path d="M232.9,2569.9 L237.5,2638.2 L244.0,2691.8"/>
<path d="M244.0,2691.8 C244.3,2694.0 243.8,2701.0 245.9,2704.7 C248.1,2708.4 255.1,2712.4 256.9,2714.0"/>
<path d="M256.9,2714.0 L335.8,2771.2"/>
<path d="M247.7,2601.3 L256.0,2707.5"/>
<path d="M419.7,2652.3 L450.5,2670.8 L434.5,2686.8 L440.6,2691.7 L460.3,2678.2 L493.6,2696.7 L476.4,2711.4 L483.7,2716.4 L503.4,2701.6 L536.7,2718.8 L519.5,2732.4 L525.6,2737.3 L546.6,2723.7 L582.3,2741.0 L565.0,2754.5 L572.4,2759.5 L592.1,2745.9 L626.6,2761.9 L610.6,2776.7 L618.0,2781.6 L637.7,2766.8 L672.2,2782.9 L656.2,2797.6 L663.5,2801.3 L683.3,2787.8 L721.4,2802.6 L705.4,2816.1 L712.8,2819.8 L731.3,2807.5 L774.4,2821.0 L759.6,2833.3 L767.0,2837.0"/>
<path d="M774.4,2821.0 L787.9,2819.8 L764.5,2844.4 L754.7,2858.0 L746.1,2879.9"/>
<path d="M706.7,2861.7 L698.0,2879.9"/>
<path d="M1314.7,2523.4 L1372.9,2523.4"/>
<path d="M1040.2,2728.1 L1099.2,2728.1"/>
<path d="M995.8,2608.7 L1008.7,2601.4 L1099.2,2619.5 L1157.4,2630.3 L1209.1,2631.6 L1213.4,2634.6 L1174.7,2649.7 L1161.7,2660.4"/>
<path d="M995.8,2608.7 L976.4,2647.5 L922.5,2733.7 L907.4,2744.5 L900.9,2770.3 L877.2,2785.4"/>
<path d="M877.2,2785.4 L918.2,2796.2 L963.4,2791.9 L974.2,2791.0 L997.9,2763.9"/>
<path d="M995.8,2608.7 L1092.8,2632.4 L1174.7,2646.2"/>
<path d="M1161.7,2660.4 C1154.5,2662.2 1131.6,2667.3 1118.6,2671.2 C1105.7,2675.2 1093.5,2679.1 1084.1,2684.1 C1074.8,2689.2 1069.8,2694.9 1062.6,2701.4 C1055.4,2707.8 1048.2,2715.7 1041.0,2722.9 C1033.9,2730.1 1026.7,2737.7 1019.5,2744.5 C1012.3,2751.3 1001.5,2760.6 997.9,2763.9"/>
<path d="M1174.7,2649.7 C1165.3,2651.1 1135.1,2654.7 1118.6,2658.3 C1102.1,2661.9 1087.0,2666.2 1075.5,2671.2 C1064.0,2676.2 1058.3,2680.5 1049.7,2688.4 C1041.0,2696.4 1031.0,2709.3 1023.8,2718.6 C1016.6,2728.0 1010.9,2738.0 1006.6,2744.5 C1002.2,2750.9 999.4,2755.3 997.9,2757.4"/>
<path d="M997.9,2757.4 L997.9,2763.9"/>
<path d="M976.4,2647.5 L1060.4,2669.1"/>
<path d="M922.5,2733.7 L989.3,2753.1"/>
<path d="M907.4,2744.5 L982.8,2766.9"/>
<path d="M900.9,2770.3 L965.6,2783.3 L974.2,2791.0"/>
<path d="M1267.3,2466.5 L1036.7,2600.1" stroke-dasharray="125 14 22 14"/>
<path d="M1267.3,2466.5 L1239.3,2460.0"/>
<path d="M1375.1,2541.9 C1374.7,2542.6 1372.6,2545.1 1372.9,2546.2 C1373.3,2547.3 1376.5,2548.0 1377.2,2548.4"/>
<path d="M1377.2,2548.4 L1459.1,2548.4"/>
<path d="M1459.1,2548.4 C1462.0,2547.6 1472.4,2546.6 1476.4,2544.1 C1480.3,2541.5 1481.8,2535.1 1482.8,2533.3"/>
<path d="M1482.8,2533.3 L1490.2,2507.4"/>
<path d="M1490.2,2507.4 C1490.0,2506.5 1490.5,2502.9 1489.3,2501.8 C1488.1,2500.7 1483.9,2501.1 1482.8,2500.9"/>
<path d="M1482.8,2500.9 L1400.9,2500.9"/>
<path d="M1400.9,2500.9 C1399.5,2501.3 1394.5,2501.3 1392.3,2503.1 C1390.2,2504.9 1388.7,2510.3 1388.0,2511.7"/>
<path d="M1388.0,2511.7 L1375.1,2541.9"/>
<path d="M1403.1,2499.2 L1485.0,2499.2"/>
<path d="M1480.7,2537.6 C1481.4,2536.1 1483.9,2533.9 1485.0,2529.0 C1486.1,2524.1 1487.2,2511.7 1487.6,2508.3"/>
<path d="M1495.8,2494.5 L1560.0,2460.0"/>
<path d="M1241.5,2661.7 C1237.5,2665.5 1224.2,2676.1 1217.8,2684.1 C1211.3,2692.2 1204.8,2702.1 1202.7,2710.0 C1200.5,2717.9 1204.5,2728.0 1204.8,2731.6"/>
<path d="M1241.5,2661.7 L1263.0,2673.4 L1265.2,2679.8"/>
<path d="M1265.2,2679.8 C1262.7,2680.9 1253.7,2683.8 1250.1,2686.3 C1246.5,2688.8 1243.3,2692.4 1243.6,2694.9 C1244.0,2697.4 1250.8,2700.3 1252.2,2701.4"/>
<path d="M1252.2,2701.4 C1254.4,2701.7 1260.5,2704.3 1265.2,2703.5 C1269.8,2702.8 1277.7,2698.1 1280.3,2697.1"/>
<path d="M1280.3,2697.1 L1284.6,2699.2 L1444.1,2832.8"/>
<path d="M1444.1,2832.8 C1439.4,2835.0 1422.5,2841.8 1416.0,2845.8 C1409.6,2849.7 1406.7,2853.3 1405.3,2856.6 C1403.8,2859.8 1407.1,2863.7 1407.4,2865.2"/>
<path d="M1407.4,2865.2 C1408.5,2866.2 1411.0,2870.9 1413.9,2871.6 C1416.8,2872.4 1422.9,2869.8 1424.7,2869.5"/>
<path d="M1424.7,2869.5 L1467.8,2851.4 L1560.0,2908.3"/>
<path d="M1299.7,2712.2 C1302.5,2711.8 1312.2,2708.2 1316.9,2710.0 C1321.6,2711.8 1326.1,2718.6 1327.7,2722.9 C1329.3,2727.2 1326.6,2733.7 1326.4,2735.9"/>
<path d="M941.9,2515.2 L1028.1,2550.5 L1038.9,2548.4 L1049.7,2533.3"/>
<path d="M961.3,2512.6 L1062.6,2529.0 L1099.2,2464.3"/>
<path d="M997.9,2496.6 L1041.0,2507.4 L1054.0,2485.9"/>
<path d="M1204.8,2731.6 C1208.9,2736.3 1211.9,2744.3 1229.6,2760.0 C1247.3,2775.7 1270.2,2793.7 1310.8,2826.0 C1351.4,2858.3 1418.0,2917.3 1473.4,2954.0 C1528.8,2990.7 1579.1,3010.6 1643.4,3046.3 C1707.7,3082.0 1813.7,3144.1 1859.0,3168.0 C1904.3,3191.9 1898.9,3183.2 1915.5,3189.7 C1932.1,3196.2 1940.6,3201.2 1958.6,3206.9 C1976.6,3212.6 2005.3,3220.1 2023.3,3224.0 C2041.3,3227.9 2052.0,3230.2 2066.4,3230.6 C2080.8,3231.0 2095.8,3229.5 2109.5,3226.3 C2123.2,3223.1 2139.3,3215.8 2148.3,3211.2 C2157.3,3206.6 2160.9,3201.0 2163.4,3199.0"/>
<path d="M2074.1,2657.0 L2138.9,2657.0"/>
<path d="M2036.4,2799.4 L2100.1,2799.4"/>
<path d="M2069.6,2946.3 L2102.9,2946.3"/>
<path d="M2041.9,3024.4 L2072.4,3024.4"/>
<path d="M2230.3,3079.8 L2263.6,3079.8"/>
<path d="M1473.9,2961.8 L1473.9,3008.9"/>
<path d="M1781.4,2579.4 C1782.4,2578.5 1784.2,2573.4 1787.0,2573.9 C1789.7,2574.3 1796.2,2580.8 1798.1,2582.2"/>
<path d="M1798.1,2582.2 L2061.3,2609.9"/>
<path d="M2061.3,2609.9 C2062.0,2610.8 2064.5,2613.6 2065.2,2615.4 C2065.8,2617.3 2065.2,2620.0 2065.2,2621.0"/>
<path d="M2065.2,2621.0 L2065.2,2690.2 L2028.1,2709.6 L1798.1,2676.4"/>
<path d="M1798.1,2676.4 C1794.4,2675.9 1782.4,2675.0 1775.9,2673.6 C1769.4,2672.2 1763.7,2669.9 1759.3,2668.1 C1754.8,2666.2 1751.0,2663.5 1749.3,2662.5"/>
<path d="M1749.3,2662.5 L1781.4,2579.4"/>
<path d="M2061.3,2609.9 L2030.8,2657.0 L2025.3,2676.4 L2030.8,2679.2 L2028.1,2709.6"/>
<path d="M2041.9,2623.7 L2053.0,2623.7"/>
<path d="M2039.1,2634.8 L2047.5,2634.8"/>
<path d="M2036.4,2645.9 L2047.5,2645.9"/>
<path d="M2017.0,2684.7 L2028.1,2684.7"/>
<path d="M2019.7,2695.8 L2028.1,2695.8"/>
<path d="M1939.4,2667.0 L1956.0,2668.1 L1956.0,2675.3"/>
<path d="M2047.5,2680.8 L2058.5,2681.9 L2058.5,2690.2"/>
<path d="M1526.5,2706.9 L1598.6,2705.2 L1601.3,2710.7 L1742.6,2729.0 L1751.0,2725.2 L1778.7,2726.3 L1781.4,2732.9 L1958.8,2738.5 L1969.9,2731.8 L1997.6,2731.8 L2000.3,2737.3 L2025.3,2735.1 L2030.8,2740.1"/>
<path d="M2030.8,2740.1 C2030.4,2745.2 2029.4,2761.8 2028.1,2770.6 C2026.7,2779.4 2024.4,2787.2 2022.5,2792.8 C2020.7,2798.3 2017.9,2802.0 2017.0,2803.8"/>
<path d="M1526.5,2706.9 L1509.9,2756.7 L1473.9,2767.8 L1476.6,2778.9 L1836.9,2806.6"/>
<path d="M1548.7,2715.2 L1534.8,2754.0"/>
<path d="M1509.9,2756.7 L1853.5,2792.8"/>
<path d="M1496.0,2781.7 L1496.0,2798.3"/>
<path d="M1496.0,2798.3 C1496.5,2800.6 1496.0,2809.2 1498.8,2812.2 C1501.6,2815.1 1510.3,2815.4 1512.6,2816.0"/>
<path d="M1512.6,2816.0 L1847.9,2862.0"/>
<path d="M1847.9,2862.0 C1859.0,2863.0 1896.0,2868.0 1914.4,2867.6 C1932.9,2867.1 1946.8,2862.5 1958.8,2859.3 C1970.8,2856.0 1978.2,2852.3 1986.5,2848.2 C1994.8,2844.0 2004.0,2838.9 2008.7,2834.3 C2013.3,2829.7 2013.3,2822.8 2014.2,2820.5"/>
<path d="M2014.2,2820.5 L2028.1,2817.7 L2025.3,2806.6 L2003.1,2795.5 L1972.6,2812.2"/>
<path d="M2014.2,2748.4 L2005.9,2784.5"/>
<path d="M1526.5,2790.0 L1526.5,2801.1"/>
<path d="M1526.5,2801.1 C1527.0,2802.0 1527.4,2805.4 1529.3,2806.6 C1531.1,2807.8 1536.2,2808.0 1537.6,2808.3"/>
<path d="M1537.6,2808.3 L1828.5,2842.6"/>
<path d="M1532.0,2787.2 L1831.3,2816.0"/>
<ellipse cx="1897.8" cy="2820.5" rx="69.3" ry="38.8" transform="rotate(5.0 1897.8 2820.5)"/>
<ellipse cx="1898.9" cy="2820.5" rx="59.9" ry="31.0" transform="rotate(5.0 1898.9 2820.5)"/>
<path d="M1842.4,2787.2 C1845.2,2783.5 1849.8,2771.1 1859.0,2765.1 C1868.3,2759.1 1884.9,2753.0 1897.8,2751.2 C1910.8,2749.4 1923.7,2752.1 1936.6,2754.0 C1949.5,2755.8 1965.7,2758.1 1975.4,2762.3 C1985.1,2766.4 1990.6,2773.8 1994.8,2778.9 C1999.0,2784.0 1999.4,2790.5 2000.3,2792.8"/>
<path d="M1856.3,2812.2 C1858.1,2814.5 1859.5,2821.9 1867.3,2826.0 C1875.2,2830.2 1890.9,2835.3 1903.4,2837.1 C1915.8,2838.9 1935.7,2837.1 1942.2,2837.1"/>
<path d="M1967.1,2814.9 L1980.9,2831.6"/>
<path d="M1467.8,2851.5 L1892.3,3094.8"/>
<path d="M1892.3,3094.8 C1887.7,3096.7 1871.5,3102.2 1864.6,3105.9 C1857.6,3109.6 1852.4,3114.0 1850.7,3117.0 C1849.0,3119.9 1853.9,3122.5 1854.6,3123.6"/>
<path d="M1854.6,3123.6 C1855.8,3124.4 1858.7,3127.8 1861.8,3128.1 C1864.8,3128.3 1871.0,3125.7 1872.9,3125.3"/>
<path d="M1872.9,3125.3 L1917.2,3108.7 L2025.3,3155.8"/>
<path d="M2025.3,3155.8 C2028.1,3154.6 2035.4,3149.8 2041.9,3148.6 C2048.4,3147.4 2058.5,3147.4 2064.1,3148.6 C2069.6,3149.8 2073.3,3154.6 2075.2,3155.8"/>
<path d="M2076.3,3153.0 L2152.8,3108.7"/>
<path d="M2150.0,3083.7 L2191.5,3056.0 L2227.6,3078.2 L2186.0,3105.9Z"/>
<path d="M2147.2,3094.8 L2180.5,3114.2 L2227.6,3083.7 L2227.6,3078.2"/>
<ellipse cx="2184.9" cy="3068.8" rx="8.3" ry="4.4" transform="rotate(0.0 2184.9 3068.8)"/>
<path d="M2176.6,3068.8 L2176.6,3085.4"/>
<path d="M2193.2,3068.8 L2193.2,3085.4"/>
<path d="M2176.6,3085.4 C2178.0,3086.3 2182.1,3090.9 2184.9,3090.9 C2187.7,3090.9 2191.8,3086.3 2193.2,3085.4"/>
<path d="M2161.1,3083.7 L2188.8,3064.3 L2213.7,3078.2 L2186.0,3096.5Z"/>
<path d="M2072.8,3160.3 L2109.5,3187.5"/>
<path d="M2109.5,3187.5 C2107.7,3189.3 2100.9,3195.0 2098.7,3198.3 C2096.6,3201.5 2095.1,3205.1 2096.6,3206.9 C2098.0,3208.7 2105.5,3208.7 2107.3,3209.1"/>
<path d="M2107.3,3209.1 C2110.6,3209.1 2121.7,3210.1 2126.7,3209.1 C2131.8,3208.0 2135.3,3204.5 2137.5,3202.6 C2139.7,3200.6 2139.3,3198.3 2139.7,3197.4"/>
<path d="M2139.7,3197.4 L2163.4,3199.1"/>
<path d="M2176.3,3125.0 L2182.8,3122.8 L2191.4,3124.1 L2197.8,3129.3"/>
<path d="M2176.3,3125.0 L2174.1,3133.6 L2180.6,3159.5"/>
<path d="M2197.8,3129.3 L2195.7,3137.9 L2191.4,3159.5"/>
<path d="M2186.2,3124.1 L2186.2,3159.5"/>
<path d="M2188.8,3124.1 L2188.8,3159.5"/>
<ellipse cx="2186.2" cy="3161.6" rx="18.1" ry="8.6" transform="rotate(0.0 2186.2 3161.6)"/>
<path d="M2168.1,3162.9 C2168.4,3164.4 2166.8,3169.6 2169.8,3171.6 C2172.8,3173.5 2180.8,3174.6 2186.2,3174.6 C2191.6,3174.6 2199.1,3173.5 2202.2,3171.6 C2205.2,3169.6 2204.0,3164.4 2204.3,3162.9"/>
<path d="M2204.3,3159.5 L2234.5,3159.5"/>
<path d="M1440.0,2129.3 L1479.4,2145.3 L1536.1,2178.5"/>
<path d="M1440.0,2156.4 L1444.9,2160.0 L1506.5,2182.2 L1527.4,2184.7"/>
<path d="M1465.9,2180.5 L1488.0,2188.4 L1488.0,2192.1"/>
<path d="M1506.5,2182.2 L1479.4,2252.4"/>
<path d="M1463.4,2247.5 L1485.6,2257.3"/>
<path d="M1440.0,2252.4 L1467.1,2263.5 L1490.5,2264.2 L1456.0,2347.2"/>
<path d="M1456.0,2347.2 C1455.4,2348.3 1455.0,2352.3 1452.3,2353.4 C1449.6,2354.5 1442.1,2353.8 1440.0,2353.9"/>
<path d="M1440.0,2338.1 L1454.8,2346.0"/>
<path d="M1536.1,2178.5 L1552.1,2146.5 L1558.2,2140.3 L1590.2,2125.6 L1603.8,2102.2 L1639.5,2088.6 L1666.6,2078.5"/>
<path d="M1552.1,2146.5 L1463.4,2358.3"/>
<path d="M1463.4,2358.3 C1462.4,2360.0 1461.1,2366.1 1457.2,2368.2 C1453.3,2370.2 1442.9,2370.2 1440.0,2370.6"/>
<path d="M1603.8,2102.2 L1659.2,2113.3"/>
<path d="M1590.2,2125.6 L1659.2,2139.1"/>
<path d="M1642.0,2088.6 L1669.1,2093.5"/>
<path d="M1686.3,2083.7 L1671.5,2099.7"/>
<path d="M1671.5,2099.7 C1669.9,2102.6 1663.3,2107.9 1661.7,2116.9 C1660.0,2126.0 1660.6,2144.2 1661.7,2153.9 C1662.7,2163.5 1666.8,2171.3 1667.8,2174.8"/>
<path d="M1686.3,2083.7 L1714.6,2083.7 L1715.9,2091.1 L1662.9,2125.6"/>
<path d="M1557.0,2147.7 L1597.6,2156.4 L1634.6,2158.8"/>
<path d="M1605.0,2158.8 L1637.0,2140.3"/>
<path d="M1638.3,2156.4 L1659.2,2146.5"/>
<path d="M1638.3,2156.4 C1637.7,2157.6 1634.0,2161.3 1634.6,2163.7 C1635.2,2166.2 1638.7,2169.5 1642.0,2171.1 C1645.3,2172.8 1652.2,2173.2 1654.3,2173.6"/>
<path d="M1649.4,2167.4 L1660.4,2162.5"/>
<path d="M1654.3,2173.6 L1667.8,2174.8"/>
<path d="M1667.8,2174.8 C1679.1,2175.9 1714.0,2179.3 1735.6,2181.0 C1757.1,2182.6 1782.0,2183.7 1797.1,2184.7 C1812.3,2185.7 1821.8,2186.7 1826.7,2187.1"/>
<path d="M1605.0,2158.8 L1591.5,2178.5 L1531.1,2294.3"/>
<path d="M1607.5,2181.0 L1595.2,2200.7"/>
<path d="M1531.1,2294.3 L1501.6,2353.4"/>
<path d="M1501.6,2353.4 C1500.1,2356.7 1494.8,2367.4 1493.0,2373.1 C1491.1,2378.9 1490.5,2383.4 1490.5,2387.9 C1490.5,2392.4 1492.5,2398.1 1493.0,2400.2"/>
<path d="M1493.0,2400.2 C1494.0,2402.2 1495.6,2409.6 1499.1,2412.5 C1502.6,2415.4 1511.4,2416.6 1513.9,2417.4"/>
<path d="M1513.9,2417.4 L1585.3,2434.7"/>
<path d="M1502.8,2353.4 L1544.7,2344.0"/>
<path d="M1500.3,2363.3 C1502.6,2363.9 1510.0,2366.5 1513.9,2366.9 C1517.8,2367.4 1520.0,2366.7 1523.7,2366.2 C1527.4,2365.7 1534.0,2364.2 1536.1,2363.7"/>
<path d="M1499.1,2403.9 L1528.7,2393.3"/>
<path d="M1563.2,2302.9 L1534.8,2384.2"/>
<path d="M1534.8,2384.2 C1534.6,2385.2 1533.0,2388.7 1533.6,2390.3 C1534.2,2392.0 1537.7,2393.4 1538.5,2394.0"/>
<path d="M1538.5,2394.0 L1618.6,2415.5"/>
<path d="M1581.6,2310.3 L1561.9,2370.6"/>
<path d="M1561.9,2370.6 C1561.5,2372.1 1558.8,2377.0 1559.5,2379.3 C1560.1,2381.5 1564.6,2383.4 1565.6,2384.2"/>
<path d="M1565.6,2384.2 L1643.2,2401.4"/>
<path d="M1667.8,2407.1 L1794.7,2424.3 L1811.9,2419.4 L1831.6,2421.1 L1832.9,2429.3 L1823.0,2429.3"/>
<path d="M1440.0,2424.8 L1494.2,2454.4 L1525.0,2469.7"/>
<path d="M1440.0,2500.0 L1486.8,2500.0"/>
<path d="M1486.8,2500.0 C1487.8,2500.4 1492.3,2500.8 1493.0,2502.4 C1493.6,2504.1 1490.9,2508.6 1490.5,2509.8"/>
<path d="M1490.5,2509.8 L1488.0,2519.9"/>
<path d="M1481.9,2502.4 L1485.6,2508.6 L1480.6,2519.9"/>
<path d="M1440.0,2390.8 C1441.2,2392.0 1446.2,2394.5 1447.4,2397.7 C1448.6,2400.9 1448.6,2407.5 1447.4,2410.0 C1446.2,2412.6 1441.2,2412.5 1440.0,2413.0"/>
<path d="M887.6,1669.5 C888.6,1675.7 890.2,1693.1 893.5,1706.9 C896.8,1720.7 901.7,1737.4 907.3,1752.2 C912.9,1767.0 920.4,1782.4 927.0,1795.6 C933.6,1808.7 940.0,1819.5 946.7,1831.0 C953.4,1842.5 963.9,1858.9 967.4,1864.5"/>
<path d="M892.5,1831.0 C894.3,1836.6 897.9,1853.0 903.3,1864.5 C908.8,1876.0 921.4,1894.1 925.0,1900.0"/>
<path d="M245.9,2550.5 L249.6,2547.7 L258.8,2544.0 L261.0,2536.3 L266.2,2532.0 L279.5,2543.1 L279.1,2546.8 L256.0,2559.7 L250.5,2559.7 L246.8,2556.0 L244.0,2551.4"/>
<path d="M279.5,2544.0 L302.2,2566.2 L281.9,2579.1 L281.0,2583.7 L284.7,2586.9 L291.1,2585.6 L310.5,2573.6 L337.3,2593.9 L317.0,2608.7 L316.1,2613.3 L320.7,2616.1 L327.1,2614.2 L346.5,2601.3 L373.0,2620.7 L354.9,2634.5 L353.9,2639.2 L358.6,2641.9 L365.0,2641.0 L381.6,2627.1 L410.3,2646.5 L394.6,2659.5 L394.0,2664.1 L398.3,2666.3 L404.7,2665.0 L419.5,2652.6"/>
<path d="M1995.5,2941.4 L2028.0,2922.9"/>
<path d="M2028.0,2922.9 C2029.0,2922.5 2031.9,2920.7 2033.9,2920.7 C2035.9,2920.7 2038.8,2922.5 2039.8,2922.9"/>
<path d="M2039.8,2922.9 L2063.4,2936.9"/>
<path d="M2063.4,2936.9 C2064.2,2937.3 2067.1,2938.2 2067.9,2939.2 C2068.6,2940.1 2067.9,2942.2 2067.9,2942.9"/>
<path d="M2067.9,2942.9 L2067.9,2957.6"/>
<path d="M2067.9,2957.6 C2067.8,2958.1 2067.8,2959.8 2067.1,2960.6 C2066.5,2961.3 2064.7,2961.8 2064.2,2962.1"/>
<path d="M2064.2,2962.1 L2023.5,2986.4"/>
<path d="M2063.4,2938.4 L2022.1,2962.1"/>
<path d="M1984.4,2936.9 L1995.5,2949.5"/>
<path d="M1995.5,2949.5 C1996.9,2950.4 2000.9,2953.6 2004.3,2954.7 C2007.8,2955.8 2012.6,2953.9 2016.2,2956.2 C2019.7,2958.4 2024.2,2966.0 2025.8,2968.0"/>
<path d="M1984.4,2936.9 L2025.8,2968.0"/>
<path d="M1995.5,2942.1 L2022.1,2962.1"/>
<path d="M2051.6,2948.8 L2063.4,2956.2"/>
<path d="M2008.8,2959.8 L1996.9,2965.0"/>
<path d="M1993.2,2963.5 L2023.5,2981.3 L2013.9,2999.0 L1983.6,2982.0Z"/>
<path d="M2022.8,2999.0 L2022.8,3041.9"/>
<path d="M2038.3,2999.0 L2038.3,3041.9"/>
<path d="M2022.8,2999.0 C2023.4,2998.5 2024.5,2996.5 2026.5,2996.1 C2028.5,2995.6 2032.7,2995.6 2034.6,2996.1 C2036.6,2996.5 2037.7,2998.5 2038.3,2999.0"/>
<path d="M2022.8,3003.4 C2023.9,3003.9 2026.9,3006.4 2029.5,3006.4 C2032.0,3006.4 2036.8,3003.9 2038.3,3003.4"/>
<path d="M2022.8,3009.4 C2023.9,3009.8 2026.9,3012.3 2029.5,3012.3 C2032.0,3012.3 2036.8,3009.8 2038.3,3009.4"/>
<path d="M2022.8,3015.3 C2023.9,3015.8 2026.9,3018.2 2029.5,3018.2 C2032.0,3018.2 2036.8,3015.8 2038.3,3015.3"/>
<path d="M2022.8,3021.2 C2023.9,3021.7 2026.9,3024.1 2029.5,3024.1 C2032.0,3024.1 2036.8,3021.7 2038.3,3021.2"/>
<path d="M2022.8,3027.1 C2023.9,3027.6 2026.9,3030.0 2029.5,3030.0 C2032.0,3030.0 2036.8,3027.6 2038.3,3027.1"/>
<path d="M2022.8,3041.9 C2023.9,3042.5 2026.9,3045.6 2029.5,3045.6 C2032.0,3045.6 2036.8,3042.5 2038.3,3041.9"/>
<ellipse cx="2030.5" cy="3044.1" rx="19.9" ry="10.3" transform="rotate(0.0 2030.5 3044.1)"/>
<path d="M2011.0,3046.3 C2011.8,3048.0 2013.1,3054.4 2016.2,3056.6 C2019.2,3058.9 2025.0,3059.9 2029.5,3059.9 C2033.9,3059.9 2039.3,3058.9 2042.8,3056.6 C2046.2,3054.4 2048.9,3048.0 2050.1,3046.3"/>
<text transform="translate(896.0,785.0) scale(0.9,1)">16</text>
<text transform="translate(1246.0,846.0) scale(0.9,1)">15</text>
<text transform="translate(822.0,986.0) scale(0.9,1)">2</text>
<text transform="translate(456.0,1054.0) scale(0.9,1)">17</text>
<text transform="translate(1348.0,957.0) scale(0.9,1)">9</text>
<text transform="translate(1049.0,1165.0) scale(0.9,1)">10</text>
<text transform="translate(542.0,1455.0) scale(0.9,1)">5</text>
<text transform="translate(1173.0,1542.0) scale(0.9,1)">4</text>
<text transform="translate(1320.0,1585.0) scale(0.9,1)">3</text>
<text transform="translate(1869.0,1338.0) scale(0.9,1)">7</text>
<text transform="translate(1822.0,1449.0) scale(0.9,1)">6</text>
<text transform="translate(1866.0,1555.0) scale(0.9,1)">8</text>
<text transform="translate(747.0,1810.0) scale(0.9,1)">1A</text>
<text transform="translate(1276.0,1784.0) scale(0.9,1)">1</text>
<text transform="translate(1379.0,1884.0) scale(0.9,1)">21</text>
<text transform="translate(1776.0,1770.0) scale(0.9,1)">19</text>
<text transform="translate(2072.0,1908.0) scale(0.9,1)">20</text>
<text transform="translate(2156.0,2092.0) scale(0.9,1)">13</text>
<text transform="translate(2213.0,2284.0) scale(0.9,1)">14</text>
<text transform="translate(2110.0,2333.0) scale(0.9,1)">12</text>
<text transform="translate(673.0,2181.0) scale(0.9,1)">30</text>
<text transform="translate(848.0,2243.0) scale(0.9,1)">11</text>
<text transform="translate(415.0,3000.0) scale(0.9,1)">31</text>
<text transform="translate(1257.0,2542.0) scale(0.9,1)">21</text>
<text transform="translate(1108.0,2744.0) scale(0.9,1)">18</text>
<text transform="translate(2147.0,2672.0) scale(0.9,1)">33</text>
<text transform="translate(2108.0,2816.0) scale(0.9,1)">32</text>
<text transform="translate(2106.0,2962.0) scale(0.9,1)">34</text>
<text transform="translate(2076.0,3041.0) scale(0.9,1)">35</text>
<text transform="translate(2266.0,3097.0) scale(0.9,1)">37</text>
<text transform="translate(1452.0,3055.0) scale(0.9,1)">36</text>
<text transform="translate(2241.0,3177.0) scale(0.9,1)">38</text>

</svg>
</body></html>
